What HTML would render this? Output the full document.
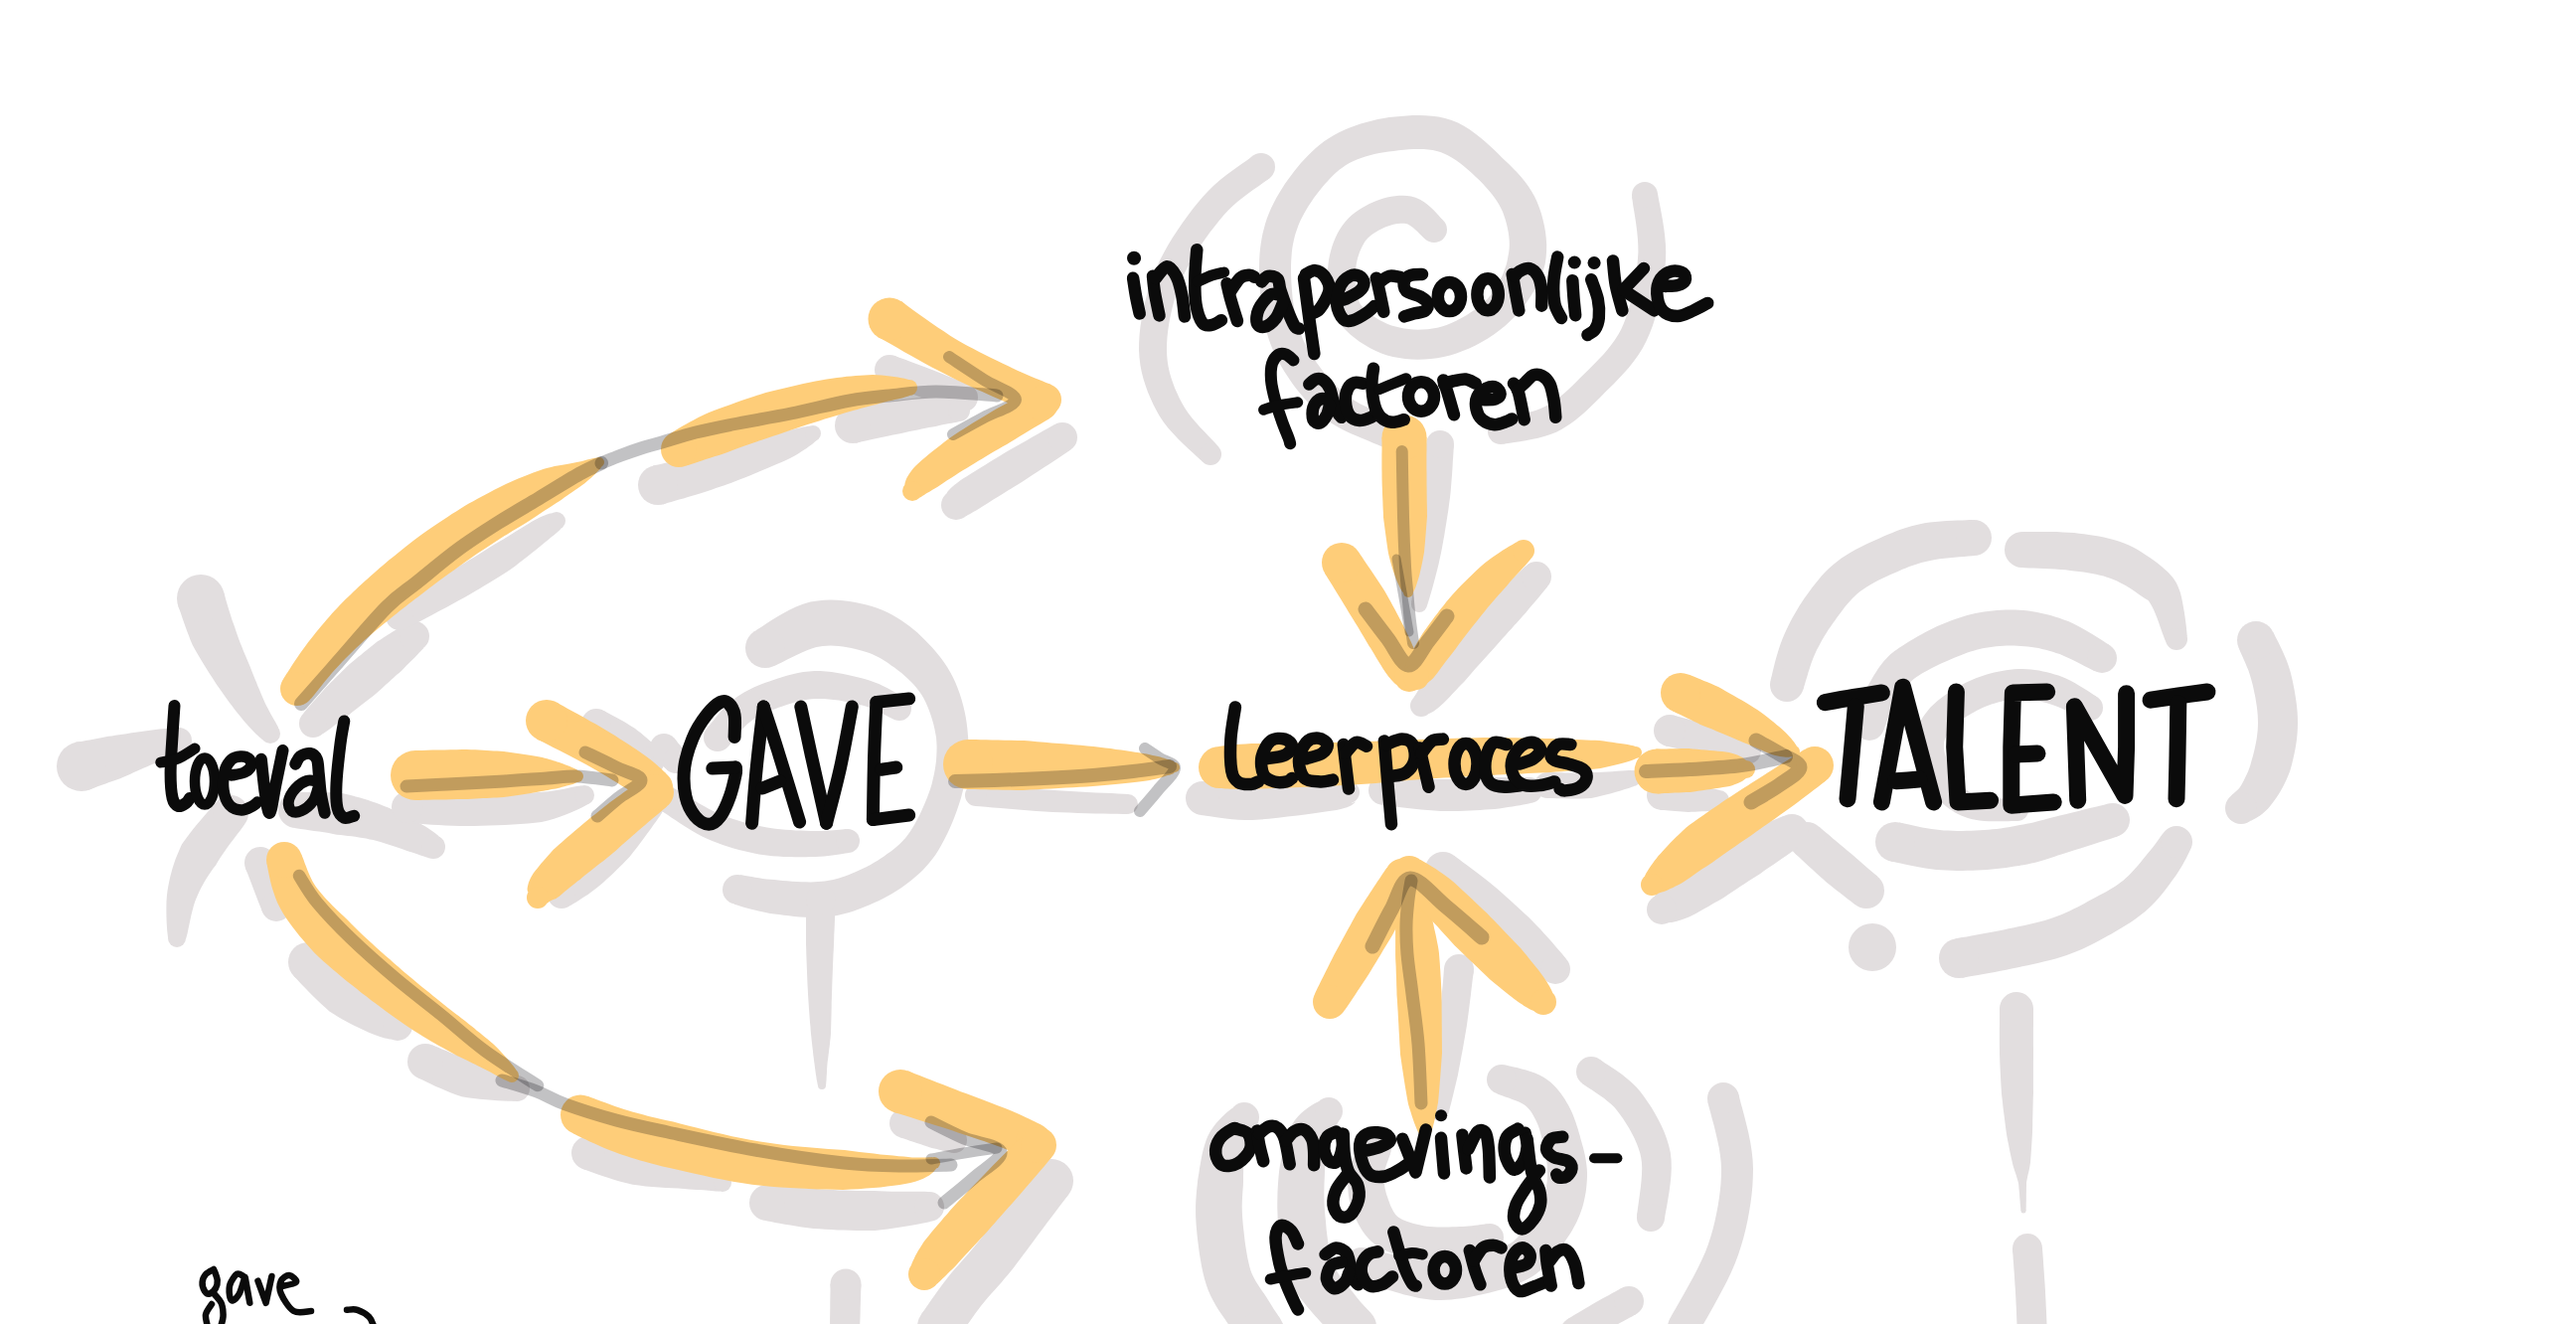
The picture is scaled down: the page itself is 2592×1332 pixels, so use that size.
<!DOCTYPE html>
<html><head><meta charset="utf-8"><title>Talent</title>
<style>html,body{margin:0;padding:0;background:#fff;overflow:hidden;font-family:"Liberation Sans",sans-serif}svg{display:block}</style>
</head><body>
<svg xmlns="http://www.w3.org/2000/svg" width="2592" height="1332" viewBox="0 0 2592 1332">
<rect width="2592" height="1332" fill="#fff"/>
<g>
<path d="M88.6 795.1 90.4 794.3 92.8 793.3 95.7 792.3 98.9 791.1 102.5 789.8 106.2 788.5 109.9 787.1 113.7 785.8 117.4 784.5 120.9 783.2 124.3 781.7 127.8 780.2 131.3 778.7 134.7 777.1 138.2 775.6 141.6 774.1 144.9 772.6 148.1 771.2 151.3 769.8 154.3 768.4 157.4 767.2 160.6 766 163.9 764.8 167.3 763.7 170.5 762.5 173.6 761.4 176.5 760.4 179 759.4 181.2 758.5 182.9 757.7 177.1 732.3 175.3 732.3 173 732.4 170.3 732.6 167.2 732.9 163.9 733.2 160.3 733.6 156.7 734.1 153 734.6 149.3 735 145.7 735.6 142.1 736 138.4 736.5 134.7 737 131 737.6 127.2 738.2 123.5 738.7 119.8 739.3 116.1 739.8 112.5 740.4 109.1 740.8 105.5 741.5 101.8 742.2 97.9 743 94 743.7 90.2 744.4 86.5 745.1 83.1 745.7 80.1 746.2 77.5 746.6 75.4 746.9Z" fill="#e2dedf"/><circle cx="82" cy="771" r="25" fill="#e2dedf"/><circle cx="180" cy="745" r="13" fill="#e2dedf"/>
<path d="M179.2 609.5 180 611.6 181 614.3 182.1 617.6 183.4 621.5 184.9 625.7 186.5 630.2 188.2 634.9 190 639.6 191.8 644.4 193.8 648.9 196.1 653.2 198.4 657.3 200.9 661.5 203.3 665.6 205.9 669.7 208.4 673.8 210.9 677.7 213.4 681.6 215.8 685.3 218.2 689 220.7 692.5 223.2 696.1 225.8 699.7 228.3 703.2 230.8 706.7 233.4 710.1 235.9 713.4 238.3 716.6 240.8 719.6 243.2 722.6 245.6 725.5 248.1 728.3 250.5 731.1 252.9 733.6 255.2 736 257.4 738.2 259.4 740.1 261.2 741.7 262.8 743 264 744 280 732 279.2 730.3 278.2 728.4 277.1 726.2 275.7 723.9 274.3 721.4 272.7 718.7 271.2 716 269.7 713.1 268.2 710.3 266.8 707.4 265.5 704.4 264 701.1 262.6 697.7 261.1 694.1 259.5 690.4 258 686.6 256.4 682.8 254.9 678.9 253.3 675 251.8 671 250.1 667.1 248.4 663 246.7 658.9 244.9 654.8 243.3 650.6 241.6 646.5 240.1 642.5 238.7 638.6 237.4 634.7 236.2 631.1 234.9 627.5 233.5 623.7 232.2 619.6 230.9 615.4 229.6 611.3 228.4 607.2 227.3 603.4 226.4 600 225.5 596.9 224.8 594.5Z" fill="#e2dedf"/><circle cx="202" cy="602" r="24" fill="#e2dedf"/><circle cx="272" cy="738" r="10" fill="#e2dedf"/>
<path d="M187 944.8 187.8 942.1 188.7 938.6 189.5 934.6 190.4 930.2 191.4 925.5 192.4 920.7 193.6 915.9 194.8 911.4 196.1 907.3 197.5 903.7 199 900.2 200.6 896.7 202.3 893.3 204.1 890 205.9 886.7 207.9 883.5 210 880.2 212.2 877 214.6 873.6 217.1 870.4 219.2 866.7 221.9 862.5 225 857.9 228.4 853.1 231.9 848.3 235.4 843.7 238.7 839.3 241.7 835.4 244.2 831.9 246.2 829.1 217.8 806.9 215.8 809.1 213.1 812.1 209.9 815.8 206.2 820.1 202.2 824.7 198.1 829.5 194 834.6 190 839.7 186.3 844.7 182.9 849.6 180.7 854.5 178.7 859.2 176.8 863.8 175.2 868.4 173.7 873 172.4 877.7 171.2 882.3 170.2 886.9 169.3 891.5 168.5 896.3 167.9 901.6 167.5 907.1 167.4 912.7 167.4 918.2 167.5 923.5 167.7 928.6 168 933.2 168.3 937.3 168.7 940.6 169 943.2Z" fill="#e2dedf"/><circle cx="178" cy="944" r="9" fill="#e2dedf"/><circle cx="232" cy="818" r="18" fill="#e2dedf"/>
<path d="M296.5 832.9 299.2 833.5 302.7 834 306.8 834.6 311.3 835.2 316.1 835.9 321 836.6 325.9 837.3 330.6 838.1 335 838.9 338.8 839.8 342.6 840.1 346.5 840.4 350.2 840.9 353.9 841.3 357.6 841.8 361.2 842.4 364.8 843 368.4 843.6 372 844.4 375.5 845.1 379.1 846 382.8 847 386.6 848.2 390.5 849.4 394.4 850.7 398.3 852 402 853.3 405.6 854.6 408.9 855.7 411.9 856.7 414.6 857.6 416.9 858.3 419.1 859.1 421.2 859.8 423.1 860.4 424.8 861 426.4 861.5 427.9 862 429.3 862.4 430.5 862.7 441.5 841.3 440.7 840.6 439.8 839.8 438.6 838.8 437.2 837.7 435.6 836.5 433.7 835.2 431.6 833.8 429.3 832.3 426.8 830.8 424.1 829.3 421.3 827.7 418.1 826 414.7 824.2 411.1 822.3 407.2 820.3 403.2 818.3 399.1 816.3 394.9 814.4 390.7 812.6 386.5 810.9 382.4 809.3 378.4 807.8 374.4 806.4 370.4 805.1 366.3 803.8 362.2 802.6 358 801.4 353.8 800.3 349.6 799.3 345.2 798.2 340.3 797.8 335 797.5 329.7 797.3 324.3 797.1 319.1 797 314.1 796.9 309.5 796.9 305.4 796.9 302 797 299.5 797.1Z" fill="#e2dedf"/><circle cx="298" cy="815" r="18" fill="#e2dedf"/><circle cx="436" cy="852" r="12" fill="#e2dedf"/>
<path d="M324.5 738.3 326.3 737.2 328.5 735.7 331 733.9 333.8 731.9 336.8 729.6 339.9 727.3 343.1 724.9 346.2 722.6 349.2 720.4 352 718.4 354.6 716.3 357.2 714.3 359.8 712.3 362.3 710.3 364.9 708.3 367.5 706.3 370.1 704.3 372.7 702.2 375.4 700.2 378.1 698.1 380.6 695.8 383.2 693.4 385.9 691 388.5 688.6 391.2 686.2 393.8 683.8 396.4 681.4 399 679.1 401.6 676.9 404.1 674.7 406.5 672.2 409 669.6 411.6 667 414.2 664.4 416.8 661.9 419.2 659.4 421.4 657.1 423.4 655.1 425.1 653.2 426.3 651.7 407.7 628.3 406 629.1 403.8 630.3 401.4 631.7 398.6 633.4 395.6 635.2 392.5 637.2 389.3 639.3 386.1 641.3 382.9 643.4 379.9 645.3 377.1 647.5 374.3 649.7 371.5 652 368.7 654.3 365.8 656.5 363 658.9 360.2 661.1 357.4 663.4 354.6 665.7 351.9 667.9 349.4 670.3 347 672.7 344.6 675 342.2 677.4 339.8 679.7 337.5 682.1 335.1 684.4 332.7 686.8 330.4 689.2 328 691.6 325.6 694.3 323 697.2 320.3 700.2 317.7 703.2 315.1 706.1 312.6 709 310.3 711.6 308.3 714 306.7 716.1 305.5 717.7Z" fill="#e2dedf"/><circle cx="315" cy="728" r="14" fill="#e2dedf"/><circle cx="417" cy="640" r="15" fill="#e2dedf"/>
<path d="M408.7 632.3 412.3 630.5 416.9 628.1 422.4 625.2 428.5 622 435.1 618.5 441.9 614.8 448.8 611.2 455.5 607.6 461.8 604.1 467.5 601 472.7 598 477.7 595.1 482.6 592.2 487.3 589.3 492 586.5 496.5 583.7 501 580.9 505.4 578.2 509.8 575.4 514.2 572.6 518.4 569.4 522.7 566.1 527 562.8 531.2 559.6 535.2 556.3 539.1 553.2 542.7 550.3 546.1 547.6 549.1 545.1 551.7 543 553.9 541.1 555.8 539.6 557.5 538.2 558.9 537 560.1 535.9 561.2 535 562.1 534.2 563 533.4 563.8 532.6 564.5 531.8 555.5 516.2 554.6 516.4 553.7 516.5 552.6 516.8 551.3 517.2 549.7 517.7 548 518.4 546 519.2 543.7 520.3 541.2 521.5 538.3 523 535.1 524.8 531.6 526.9 527.8 529.2 523.8 531.7 519.6 534.3 515.3 537 510.9 539.7 506.5 542.4 502.1 544.9 497.8 547.4 493.7 550.1 489.4 552.8 485.2 555.5 480.8 558.2 476.4 560.9 471.9 563.6 467.2 566.4 462.5 569.2 457.6 572.1 452.5 575 447.1 578.2 441 581.7 434.5 585.5 427.8 589.3 421.2 593 414.7 596.7 408.7 600.1 403.3 603.1 398.7 605.7 395.3 607.7Z" fill="#e2dedf"/><circle cx="402" cy="620" r="14" fill="#e2dedf"/><circle cx="560" cy="524" r="9" fill="#e2dedf"/>
<path d="M667 507.4 669.2 506.7 672.1 505.8 675.4 504.9 679.3 503.8 683.4 502.6 687.7 501.4 692.2 500.1 696.6 498.8 701 497.5 705.1 496.3 709 495 712.8 493.7 716.6 492.4 720.4 491.1 724.3 489.8 728.3 488.4 732.4 486.9 736.6 485.4 740.9 483.8 745.4 482.1 750.1 480.2 755.1 478.2 760.3 476 765.6 473.8 771 471.6 776.3 469.3 781.5 467.1 786.4 465 790.9 463 795 461.1 798.8 458.9 802.3 456.9 805.7 454.8 808.8 452.8 811.6 450.9 814.1 449.1 816.4 447.5 818.3 445.9 819.9 444.5 821.2 443.3 814.8 428.7 812.9 428.8 810.8 429.2 808.3 429.6 805.6 430.2 802.7 430.8 799.5 431.6 796.1 432.4 792.6 433.2 788.8 434.1 785 434.9 780.8 436.2 776.1 437.6 771.1 439.2 765.9 440.8 760.5 442.4 755 444.1 749.6 445.7 744.3 447.2 739.3 448.6 734.6 449.9 730.3 451.1 726.1 452.2 722 453.3 718 454.3 714.2 455.2 710.3 456.2 706.5 457 702.6 457.9 698.8 458.8 694.9 459.7 690.9 460.7 686.7 461.7 682.3 462.8 677.9 463.9 673.6 464.9 669.5 465.8 665.6 466.7 662.2 467.5 659.3 468.1 657 468.6Z" fill="#e2dedf"/><circle cx="662" cy="488" r="20" fill="#e2dedf"/><circle cx="818" cy="436" r="8" fill="#e2dedf"/>
<path d="M889.8 386.1 891.8 386.8 894.5 387.8 897.6 388.9 901 390.2 904.8 391.6 908.7 393.1 912.8 394.6 916.9 396.1 920.9 397.6 924.8 399.1 928.8 400.4 933.1 402 937.7 403.6 942.4 405.2 947.1 406.9 951.6 408.5 955.8 409.9 959.5 411.2 962.6 412.3 965.1 413.1 974.9 386.9 972.6 385.9 969.5 384.6 965.8 383.2 961.7 381.5 957.3 379.7 952.7 377.9 948.1 376.1 943.5 374.3 939.2 372.5 935.2 370.9 931.4 369.5 927.3 368 923.3 366.5 919.2 365 915.2 363.5 911.5 362.1 908 360.8 904.9 359.7 902.3 358.7 900.2 357.9Z" fill="#e2dedf"/><circle cx="895" cy="372" r="15" fill="#e2dedf"/><circle cx="970" cy="400" r="14" fill="#e2dedf"/>
<path d="M861.4 445.7 863.9 445.1 867.2 444.3 871 443.5 875.3 442.6 879.8 441.6 884.6 440.5 889.4 439.5 894.2 438.5 898.7 437.6 902.9 436.8 906.9 435.9 911.1 435 915.2 434.1 919.4 433.2 923.5 432.4 927.5 431.6 931.3 430.8 935 430.1 938.4 429.5 941.6 428.9 944.4 428.2 947.3 427.6 950 427.1 952.7 426.6 955.3 426.1 957.7 425.7 959.9 425.3 961.9 424.9 963.8 424.4 965.3 424 964.7 402 963.4 401.6 961.7 401.3 959.7 400.9 957.4 400.5 954.7 400.1 951.9 399.8 948.8 399.5 945.5 399.3 942 399.1 938.4 399.1 934.8 399.3 931 399.6 927 399.9 922.9 400.3 918.6 400.7 914.3 401.2 910 401.7 905.7 402.2 901.4 402.7 897.1 403.2 892.7 403.9 887.9 404.7 883 405.5 878 406.4 873.2 407.2 868.5 408 864.2 408.8 860.3 409.4 857.1 409.9 854.6 410.3Z" fill="#e2dedf"/><circle cx="858" cy="428" r="18" fill="#e2dedf"/><circle cx="965" cy="413" r="11" fill="#e2dedf"/>
<path d="M1061.2 427.2 1058.1 428.8 1054.2 431 1049.6 433.5 1044.5 436.5 1039 439.6 1033.2 442.9 1027.4 446.2 1021.6 449.5 1016.2 452.6 1011.1 455.5 1006.3 458.5 1001.3 461.5 996.3 464.6 991.3 467.7 986.3 470.8 981.5 473.8 977 476.6 972.8 479.2 969 481.6 965.7 483.8 962.9 485.9 960.5 487.8 958.5 489.5 956.8 491.1 955.4 492.5 954.2 493.8 953.4 494.8 952.9 495.5 952.8 495.9 952.5 496.4 971.5 519.6 972.5 519 973.6 518.3 974.5 517.8 975.2 517.4 976 517 977 516.4 978.2 515.7 979.8 514.8 981.8 513.7 984.3 512.2 987.4 510.2 991 508 995 505.4 999.5 502.6 1004.2 499.7 1009.1 496.7 1014.1 493.6 1019.1 490.5 1024.1 487.4 1028.9 484.5 1033.8 481.3 1039 477.8 1044.5 474.2 1050.1 470.5 1055.7 466.9 1061 463.4 1065.9 460.2 1070.3 457.3 1074 454.8 1076.8 452.8Z" fill="#e2dedf"/><circle cx="1069" cy="440" r="15" fill="#e2dedf"/><circle cx="962" cy="508" r="15" fill="#e2dedf"/>
<path d="M409.1 828 412.5 828.2 416.9 828.5 422.1 828.8 428 829.2 434.4 829.7 441.3 830.1 448.4 830.4 455.7 830.7 462.9 830.9 469.9 831 477 830.9 484.4 830.7 492.1 830.5 500 830.3 508 829.9 515.9 829.5 523.6 829 531.1 828.4 538.2 827.7 544.9 826.9 551.3 825.4 557.5 823.7 563.3 821.8 568.7 819.8 573.7 817.8 578.3 815.8 582.3 813.9 585.8 812.2 588.6 810.8 590.8 809.6 585.2 790.4 582.3 790.7 578.9 791.3 575 792.1 570.9 793 566.4 793.9 561.6 794.8 556.6 795.6 551.5 796.3 546.3 796.8 541.1 797.1 535.3 797.7 528.8 798.1 521.9 798.5 514.5 798.8 506.9 798.9 499.2 799.1 491.6 799.1 484 799.1 476.8 799.1 470.1 799 463.5 798.9 456.8 798.7 449.9 798.5 443.1 798.1 436.4 797.7 430.1 797.3 424.3 796.9 419 796.5 414.5 796.2 410.9 796Z" fill="#e2dedf"/><circle cx="410" cy="812" r="16" fill="#e2dedf"/><circle cx="588" cy="800" r="10" fill="#e2dedf"/>
<path d="M592.7 741.1 594.6 742.2 597.1 743.5 599.9 745 603 746.6 606.2 748.4 609.6 750.3 613 752.2 616.2 754 619.1 755.8 621.6 757.4 624.1 759.1 626.8 760.9 629.5 762.9 632.3 765.1 635.1 767.2 637.8 769.3 640.2 771.3 642.5 773.1 644.5 774.6 646.1 775.8 663.9 754.2 662.6 753 660.9 751.4 658.7 749.5 656.3 747.3 653.6 744.9 650.8 742.4 647.8 739.9 644.7 737.3 641.5 734.9 638.4 732.6 635 730.4 631.5 728.2 627.9 726.1 624.2 724.1 620.6 722.1 617.2 720.2 614 718.5 611.2 717 609 715.8 607.3 714.9Z" fill="#e2dedf"/><circle cx="600" cy="728" r="15" fill="#e2dedf"/><circle cx="655" cy="765" r="14" fill="#e2dedf"/>
<path d="M639.4 800.1 637.3 802.4 634.7 805.5 631.6 809.2 628.2 813.3 624.5 817.6 620.7 822.1 616.9 826.6 613.2 830.8 609.7 834.7 606.5 838.1 603.7 841.4 600.8 844.6 598 847.8 595.1 850.8 592.3 853.8 589.4 856.7 586.7 859.5 583.9 862.2 581.2 864.9 578.6 867.4 576.2 869.9 573.8 872.4 571.2 874.8 568.7 877.3 566.1 879.6 563.7 881.8 561.5 883.9 559.5 885.8 557.7 887.5 556.4 889 573.6 911 575.2 910.2 577.2 909.1 579.5 907.7 582.2 906 585.1 904.1 588.2 902.1 591.5 899.9 594.8 897.6 598.1 895.1 601.4 892.6 604.4 890 607.4 887.4 610.5 884.6 613.6 881.7 616.9 878.7 620.1 875.6 623.4 872.3 626.8 869 630.1 865.5 633.5 861.9 636.8 857.7 640.4 853.2 644 848.4 647.7 843.5 651.3 838.6 654.7 833.9 657.8 829.6 660.6 825.7 662.8 822.4 664.6 819.9Z" fill="#e2dedf"/><circle cx="652" cy="810" r="16" fill="#e2dedf"/><circle cx="565" cy="900" r="14" fill="#e2dedf"/>
<path d="M779.3 669.7 782.7 668.3 787 666.2 791.7 663.8 796.8 661.3 802 658.7 807.4 656.2 812.6 654 817.4 652.2 821.5 651 824.7 650.5 827.9 650 831.6 649.7 835.5 649.6 839.6 649.7 843.9 650.1 848.2 650.6 852.5 651.3 856.7 652.1 860.9 653.1 864.7 654.1 868.3 655 871.6 656 874.8 657.1 877.9 658.3 881 659.7 884.1 661.3 887.2 663 890.4 664.9 893.6 667 896.8 669.4 900.3 671.8 903.7 674.4 907.1 677.1 910.4 679.9 913.7 682.9 916.8 685.9 919.7 689 922.4 692.2 924.9 695.4 927.2 698.7 929.3 702.3 931.3 706.2 933.2 710.4 934.9 714.8 936.5 719.3 938 723.9 939.3 728.6 940.4 733.3 941.3 738 942.1 742.5 942.4 747 942.6 751.5 942.5 756.1 942.3 760.7 942 765.3 941.4 769.9 940.7 774.6 939.8 779.3 938.7 784.1 937.6 788.8 936.1 793.7 934.3 798.7 932.4 803.8 930.2 809.1 927.9 814.3 925.5 819.4 923 824.3 920.5 828.9 918.1 833.1 915.7 836.8 913.4 840.1 911.1 843 908.8 845.6 906.4 848.1 904 850.3 901.4 852.6 898.7 854.7 895.8 856.9 892.7 859.1 889.5 861.4 886.4 863.6 883.1 865.7 879.5 867.8 875.9 869.9 872.1 871.9 868.3 873.8 864.5 875.6 860.7 877.3 857.1 878.8 853.6 880.2 850.2 881.4 847.1 882.5 844.1 883.5 841.2 884.3 838.5 884.9 835.6 885.5 832.8 886 829.7 886.4 826.5 886.8 823 887 819.4 887.3 815.4 887.4 811 887.3 806.5 887.2 801.8 887 797 886.7 792.3 886.3 787.7 885.9 783.3 885.5 779.2 885.1 775.4 884.8 771.5 884.4 767.6 883.9 763.8 883.3 760 882.7 756.4 882.1 753.1 881.5 750 881 747.3 880.6 745.1 880.3 738.9 909.7 740.7 910.3 743.1 911 746 911.9 749.4 912.9 753.1 913.9 757.1 915 761.4 916.1 765.8 917.1 770.4 918 774.8 918.9 779.3 919.5 783.9 920.1 788.8 920.8 793.9 921.3 799.1 921.9 804.4 922.4 809.6 922.7 814.9 923 820 923.1 825 923 829.6 922.6 834 922.2 838.2 921.6 842.4 920.9 846.4 920.1 850.4 919.1 854.4 917.9 858.4 916.7 862.4 915.3 866.4 913.8 870.7 912.1 875.1 910.3 879.5 908.3 884.1 906.2 888.6 903.9 893.2 901.5 897.7 898.9 902.1 896.3 906.4 893.5 910.5 890.6 914.2 887.8 917.7 885 921.2 882 924.7 879 928.2 875.7 931.6 872.1 934.9 868.3 938.1 864.2 941.3 859.9 944.3 855.2 947.3 850.1 950.1 844.8 952.9 839.2 955.6 833.4 958.2 827.5 960.6 821.4 962.9 815.3 965 809.1 966.9 803.1 968.4 797.2 969.9 791.4 971.1 785.7 972.2 780 973.1 774.2 973.8 768.5 974.3 762.7 974.5 756.9 974.6 751.1 974.4 745.3 973.9 739.5 973.4 733.6 972.7 727.7 971.8 721.7 970.6 715.8 969.2 709.8 967.6 703.9 965.7 698.1 963.7 692.4 961.4 686.8 958.8 681.3 956 676 952.9 670.7 949.5 665.7 946 661 942.3 656.4 938.5 652 934.7 647.9 930.8 643.9 927 640.2 923.2 636.6 919.2 633.3 915.2 630.1 911 627 906.7 624 902.3 621.2 897.6 618.5 892.8 616 887.8 613.8 882.6 611.7 877.3 609.9 871.9 608.5 866.4 607.2 860.6 606 854.7 605.1 848.5 604.3 842.2 603.8 835.7 603.6 829.1 603.8 822.3 604.4 815.3 605.5 808 607.7 800.9 610.6 794.1 613.8 787.7 617.3 781.6 620.8 775.9 624.3 770.9 627.6 766.6 630.4 763.2 632.6 760.7 634.3Z" fill="#e2dedf"/><circle cx="770" cy="652" r="20" fill="#e2dedf"/><circle cx="742" cy="895" r="15" fill="#e2dedf"/>
<path d="M732.7 751 734.2 749.3 736 747 738 744.5 740.1 741.7 742.4 738.9 744.8 736 747.2 733.3 749.6 730.8 751.8 728.6 753.8 726.9 756 725.2 758.2 723.6 760.5 722.2 762.8 720.8 765.2 719.4 767.7 718.1 770.4 716.9 773.3 715.7 776.4 714.4 779.8 713.2 783.6 711.8 787.5 710.4 791.6 709 795.7 707.7 799.9 706.5 804.1 705.4 808.3 704.5 812.4 703.7 816.5 703.2 820.5 703 824.6 702.9 829.1 703 833.9 703.4 838.8 703.9 843.9 704.6 848.9 705.5 853.9 706.4 858.7 707.4 863.2 708.5 867.3 709.5 871 710.5 874.6 711.8 878.3 713.3 881.9 714.9 885.4 716.6 888.7 718.3 891.9 719.9 894.7 721.4 897.4 722.7 899.6 723.7 910.4 702.3 908.7 701.3 906.6 700 903.8 698.4 900.6 696.5 897 694.4 893 692.3 888.8 690.2 884.3 688.1 879.5 686.2 874.7 684.5 869.9 683.1 864.9 681.8 859.6 680.4 854.1 679.2 848.5 678 842.7 677 836.9 676.1 831.1 675.5 825.3 675.1 819.5 675 813.9 675.4 808.3 676.1 802.9 677 797.6 678.2 792.5 679.5 787.6 680.9 782.8 682.4 778.4 683.9 774.2 685.4 770.2 686.8 766.3 688.3 762.6 689.8 759 691.3 755.5 693 752.1 694.7 748.8 696.5 745.6 698.5 742.4 700.5 739.3 702.7 736.2 705.1 732.8 708 729.6 711.2 726.5 714.5 723.6 717.8 720.8 721.1 718.3 724.2 716 727.1 714 729.6 712.5 731.6 711.3 733Z" fill="#e2dedf"/><circle cx="722" cy="742" r="14" fill="#e2dedf"/><circle cx="905" cy="713" r="12" fill="#e2dedf"/>
<path d="M657.7 761.5 658.6 762.3 659.7 763.3 661 764.6 662.5 766.1 664.1 767.7 665.6 769.2 667.1 770.7 668.5 772 669.6 773.1 670.4 773.8 689.6 756.2 688.9 755.3 687.9 754.1 686.7 752.6 685.3 751 683.9 749.3 682.5 747.7 681.2 746.1 680 744.6 679 743.4 678.3 742.5Z" fill="#e2dedf"/><circle cx="668" cy="752" r="14" fill="#e2dedf"/><circle cx="680" cy="765" r="13" fill="#e2dedf"/>
<path d="M666.2 816.1 668.6 817.7 671.7 819.8 675.5 822.4 679.9 825.3 684.6 828.5 689.7 831.8 695 835 700.5 838.2 706 841.2 711.4 843.8 716.6 846 721.9 848 727.2 849.9 732.6 851.7 738.1 853.4 743.6 854.9 749.1 856.3 754.6 857.6 760.1 858.8 765.6 859.8 771.4 860.6 777.2 861.2 783 861.6 788.8 861.9 794.6 862.1 800.1 862.2 805.5 862.2 810.7 862.2 815.5 862.1 820.1 862 824.6 861.8 829.1 861.5 833.4 861.1 837.4 860.6 841.2 860.1 844.7 859.6 847.8 859.1 850.4 858.6 852.6 858.2 854.3 857.9 851.7 834.1 849.7 834.2 847.2 834.4 844.5 834.7 841.5 835 838.3 835.3 834.9 835.6 831.3 835.8 827.6 836 823.8 836 819.9 836 815.6 835.9 810.9 835.8 806 835.6 800.9 835.4 795.7 835.1 790.4 834.8 785.2 834.3 780.1 833.7 775.1 833 770.4 832.2 765.5 831.3 760.6 830.3 755.7 829.1 750.8 827.9 745.9 826.5 741.1 825 736.3 823.4 731.6 821.8 727 820 722.6 818.2 718.3 816.3 713.6 814 708.8 811.3 703.8 808.5 699 805.6 694.3 802.8 690 800.1 686.1 797.6 682.6 795.5 679.8 793.9Z" fill="#e2dedf"/><circle cx="673" cy="805" r="13" fill="#e2dedf"/><circle cx="853" cy="846" r="12" fill="#e2dedf"/>
<path d="M811 904.6 811 907.3 811.1 910.7 811 914.6 811 919.1 811 924 811 929.1 811 934.4 811 939.7 811 944.9 811 949.8 811.2 954.7 811.3 959.8 811.5 964.9 811.7 970.1 811.9 975.3 812.1 980.5 812.3 985.6 812.5 990.6 812.8 995.5 813 1000.1 813.3 1004.7 813.6 1009.1 813.9 1013.4 814.2 1017.5 814.5 1021.6 814.8 1025.5 815.1 1029.4 815.5 1033.1 815.7 1036.7 816 1040.1 816.4 1043.5 816.7 1046.8 817.1 1050 817.4 1053 817.8 1056.1 818.1 1059 818.4 1061.9 818.8 1064.7 819.1 1067.4 819.5 1070.1 819.8 1072.8 820.2 1075.5 820.5 1078.1 820.9 1080.7 821.3 1083.1 821.6 1085.4 822 1087.5 822.4 1089.4 822.7 1091 823 1092.2 831 1091.8 831.2 1090.5 831.3 1088.9 831.5 1087 831.6 1084.9 831.7 1082.6 831.9 1080.2 832 1077.6 832.1 1075 832.3 1072.4 832.5 1069.9 832.8 1067.3 833.2 1064.7 833.5 1061.9 833.9 1059.1 834.2 1056.2 834.6 1053.2 835 1050 835.3 1046.8 835.7 1043.4 836 1039.9 836.1 1036.2 836.2 1032.5 836.3 1028.7 836.4 1024.9 836.5 1020.9 836.6 1016.9 836.7 1012.7 836.7 1008.5 836.9 1004.2 837 999.9 837.2 995.3 837.3 990.5 837.5 985.5 837.7 980.5 837.9 975.3 838.1 970.1 838.3 965 838.5 959.9 838.8 955 839 950.2 839.2 945.3 839.3 940.2 839.6 935 839.8 929.8 840 924.7 840.2 919.9 840.4 915.4 840.6 911.4 840.8 908 841 905.4Z" fill="#e2dedf"/><circle cx="826" cy="905" r="15" fill="#e2dedf"/><circle cx="827" cy="1092" r="4" fill="#e2dedf"/>
<path d="M981.1 811 985.8 811.3 991.8 811.8 998.9 812.4 1006.8 813.1 1015.4 813.8 1024.4 814.5 1033.5 815.2 1042.6 815.9 1051.2 816.5 1059.4 817 1067.4 817.3 1075.9 817.6 1084.6 817.9 1093.4 818.2 1102 818.4 1110.2 818.6 1117.8 818.7 1124.5 818.8 1130.2 818.9 1134.6 819 1135.4 799 1130.9 798.7 1125.2 798.4 1118.5 798.1 1110.9 797.8 1102.8 797.4 1094.2 797 1085.5 796.5 1076.9 796.1 1068.5 795.5 1060.6 795 1052.7 794.5 1044.1 793.9 1035.2 793.3 1026.1 792.6 1017.2 791.8 1008.6 791.1 1000.7 790.5 993.6 789.9 987.5 789.4 982.9 789Z" fill="#e2dedf"/><circle cx="982" cy="800" r="11" fill="#e2dedf"/><circle cx="1135" cy="809" r="10" fill="#e2dedf"/>
<path d="M247 873.5 248.1 876.2 249.6 880.1 251.4 884.7 253.4 889.9 255.4 895.3 257.5 900.7 259.5 905.9 261.3 910.5 262.8 914.3 263.9 917.1 292.1 906.9 291.2 904 289.9 900.1 288.3 895.4 286.5 890.2 284.6 884.7 282.7 879.2 280.9 874 279.3 869.3 278 865.4 277 862.5Z" fill="#e2dedf"/><circle cx="262" cy="868" r="16" fill="#e2dedf"/><circle cx="278" cy="912" r="15" fill="#e2dedf"/>
<path d="M296.3 982.6 298.2 984.6 300.6 987.2 303.6 990.4 307.1 994 310.9 997.9 314.9 1001.9 319 1006 323.2 1010 327.4 1013.8 331.5 1017.4 335.9 1020.2 340.2 1022.9 344.5 1025.4 348.7 1027.7 352.8 1029.9 356.8 1031.9 360.6 1033.8 364.2 1035.5 367.5 1037.1 370.6 1038.5 373.7 1039.8 376.8 1041 379.7 1042.1 382.4 1043 384.9 1043.7 387.2 1044.4 389.2 1044.8 390.9 1045.2 392.3 1045.4 393.5 1045.5 406.5 1018.5 405.4 1017.5 404.1 1016.5 402.7 1015.4 401.1 1014.2 399.5 1013 397.7 1011.7 395.8 1010.3 393.8 1008.8 391.7 1007.3 389.4 1005.5 386.7 1003.6 383.7 1001.5 380.6 999.4 377.3 997.1 374 994.8 370.7 992.5 367.5 990 364.3 987.6 361.3 985.1 358.5 982.6 355.3 980.3 351.6 977.5 347.8 974.3 343.7 970.8 339.7 967.4 335.9 963.9 332.2 960.7 328.9 957.8 326 955.3 323.7 953.4Z" fill="#e2dedf"/><circle cx="310" cy="968" r="20" fill="#e2dedf"/><circle cx="400" cy="1032" r="15" fill="#e2dedf"/>
<path d="M421 1084.6 423.3 1085.6 426.2 1087 429.8 1088.8 434 1090.7 438.5 1092.9 443.5 1095.1 448.6 1097.3 453.9 1099.4 459.3 1101.4 464.6 1103.2 470.4 1104.2 476.4 1105 482.5 1105.7 488.7 1106.3 494.8 1106.8 500.6 1107.2 505.9 1107.5 510.7 1107.7 514.6 1107.8 517.6 1107.8 522.4 1082.2 519.4 1081.1 515.5 1079.8 510.9 1078.4 505.9 1076.9 500.5 1075.3 495 1073.7 489.5 1072 484.2 1070.2 479.4 1068.5 475.4 1066.8 471.3 1065.6 466.9 1064.1 462.4 1062.5 457.8 1060.7 453.2 1058.9 448.8 1057.1 444.7 1055.4 441 1053.8 437.7 1052.4 435 1051.4Z" fill="#e2dedf"/><circle cx="428" cy="1068" r="18" fill="#e2dedf"/><circle cx="520" cy="1095" r="13" fill="#e2dedf"/>
<path d="M586.7 1176.1 589.3 1177 592.7 1178.2 596.8 1179.7 601.6 1181.4 606.8 1183.2 612.4 1185 618.3 1186.9 624.3 1188.7 630.5 1190.3 636.6 1191.7 643 1192.6 649.6 1193.4 656.4 1194 663.1 1194.5 669.9 1194.9 676.4 1195.2 682.6 1195.6 688.3 1196 693.3 1196.4 697.5 1196.8 701.2 1196.9 704.6 1197.1 707.8 1197.3 710.7 1197.5 713.3 1197.8 715.8 1198 718.1 1198.3 720.3 1198.4 722.4 1198.6 724.2 1198.5 729.8 1181.5 728.7 1180.5 727.5 1179.4 725.8 1178.1 723.7 1176.6 721.2 1175.1 718.3 1173.5 715 1171.9 711.3 1170.3 707.1 1168.7 702.5 1167.2 697.3 1166.2 691.6 1165.4 685.5 1164.5 679.2 1163.8 672.8 1163 666.3 1162.2 660 1161.4 653.9 1160.4 648.3 1159.4 643.4 1158.3 638.5 1157.2 633.4 1155.9 628.2 1154.4 622.9 1152.7 617.7 1151 612.8 1149.3 608.2 1147.6 604 1146.1 600.3 1144.8 597.3 1143.9Z" fill="#e2dedf"/><circle cx="592" cy="1160" r="17" fill="#e2dedf"/><circle cx="727" cy="1190" r="9" fill="#e2dedf"/>
<path d="M769.6 1227.8 772.3 1228.4 775.7 1229.1 779.8 1229.9 784.5 1230.8 789.7 1231.7 795.1 1232.6 800.9 1233.6 806.7 1234.4 812.7 1235.2 818.5 1235.9 824.2 1236.3 830.1 1236.7 836.2 1237.1 842.5 1237.4 848.8 1237.6 855.2 1237.8 861.6 1238 868 1238 874.2 1238.1 880.4 1238 886.7 1237.3 893.3 1236.5 899.9 1235.6 906.4 1234.6 912.7 1233.6 918.7 1232.5 924.2 1231.5 929.1 1230.6 933.1 1229.7 936.2 1229 933.8 1199 930.4 1198.8 926.1 1198.7 921.2 1198.7 915.7 1198.7 909.8 1198.7 903.6 1198.7 897.3 1198.7 891.1 1198.5 885.2 1198.3 879.6 1198 874.1 1198.1 868.3 1198 862.4 1198 856.3 1197.8 850.3 1197.6 844.3 1197.4 838.3 1197.1 832.5 1196.8 826.9 1196.4 821.5 1196.1 816.3 1195.8 811 1195.5 805.5 1195 800.1 1194.6 794.8 1194.1 789.8 1193.5 785.2 1193.1 781 1192.7 777.3 1192.3 774.4 1192.2Z" fill="#e2dedf"/><circle cx="772" cy="1210" r="18" fill="#e2dedf"/><circle cx="935" cy="1214" r="15" fill="#e2dedf"/>
<path d="M905.3 1144.2 907.1 1144.8 909.5 1145.6 912.4 1146.6 915.6 1147.7 919 1148.8 922.5 1150 926 1151.1 929.4 1152.3 932.5 1153.3 935.2 1154.2 937.7 1154.9 940.2 1155.5 942.6 1156.1 945 1156.7 947.2 1157.3 949.3 1157.9 951.2 1158.3 953 1158.7 954.5 1159 955.7 1159.3 964.3 1134.7 963.3 1134.2 961.9 1133.5 960.3 1132.7 958.5 1131.8 956.5 1130.9 954.4 1130 952.1 1128.9 949.7 1127.9 947.3 1126.9 944.8 1125.8 942.1 1124.9 938.9 1123.8 935.5 1122.7 932 1121.5 928.5 1120.3 925 1119.2 921.8 1118.1 919 1117.2 916.6 1116.4 914.7 1115.8Z" fill="#e2dedf"/><circle cx="910" cy="1130" r="15" fill="#e2dedf"/><circle cx="960" cy="1147" r="13" fill="#e2dedf"/>
<path d="M1040.5 1174.7 1038.8 1176.9 1036.7 1179.7 1034.2 1183 1031.4 1186.7 1028.3 1190.7 1025.1 1194.9 1021.9 1199.2 1018.6 1203.6 1015.4 1207.8 1012.4 1211.8 1009.4 1215.8 1006.4 1219.8 1003.4 1223.9 1000.4 1228 997.4 1232.1 994.4 1236.1 991.5 1240 988.6 1243.9 985.7 1247.7 982.8 1251.2 980.1 1254.6 977.2 1258 974.3 1261.4 971.3 1264.8 968.2 1268.2 965.2 1271.7 962 1275.2 958.9 1278.8 955.8 1282.6 952.7 1286.4 949.6 1290.4 946.6 1294.5 943.5 1298.8 940.5 1303 937.6 1307.1 934.9 1311 932.4 1314.6 930.2 1317.7 928.4 1320.3 927 1322.3 963 1347.7 964.5 1345.5 966.4 1342.7 968.6 1339.6 971 1336.1 973.7 1332.3 976.4 1328.4 979.2 1324.4 982 1320.6 984.7 1316.9 987.3 1313.6 989.8 1310.5 992.4 1307.3 995.2 1304.1 998.1 1300.8 1001.1 1297.4 1004.2 1294 1007.4 1290.4 1010.6 1286.6 1013.9 1282.8 1017.2 1278.8 1020.4 1274.7 1023.5 1270.6 1026.6 1266.5 1029.7 1262.3 1032.8 1258.2 1035.9 1254.1 1038.9 1250 1041.8 1246 1044.7 1242 1047.6 1238.2 1050.6 1234.3 1053.7 1230.1 1057 1225.8 1060.2 1221.5 1063.4 1217.3 1066.4 1213.3 1069.3 1209.6 1071.8 1206.3 1073.9 1203.5 1075.5 1201.3Z" fill="#e2dedf"/><circle cx="1058" cy="1188" r="22" fill="#e2dedf"/><circle cx="945" cy="1335" r="22" fill="#e2dedf"/>
<path d="M835.5 1291.7 835.5 1294.8 835.5 1299 835.4 1304.1 835.3 1309.7 835.3 1315.7 835.2 1321.6 835.1 1327.3 835.1 1332.4 835 1336.6 835 1339.7 865 1340.3 865.1 1337.2 865.2 1333 865.4 1327.9 865.6 1322.3 865.7 1316.3 865.9 1310.4 866.1 1304.7 866.2 1299.6 866.4 1295.4 866.5 1292.3Z" fill="#e2dedf"/><circle cx="851" cy="1292" r="15.5" fill="#e2dedf"/><circle cx="850" cy="1340" r="15" fill="#e2dedf"/>
<path d="M1451.8 221.4 1450.8 220.4 1449.5 218.9 1447.6 216.8 1445.3 214.3 1442.7 211.6 1439.8 208.7 1436.6 205.9 1433 203.2 1428.9 200.7 1424.3 198.7 1419.9 197.6 1415.8 197 1411.7 196.8 1407.7 196.8 1403.7 197.2 1399.8 197.7 1395.9 198.5 1392.1 199.5 1388.4 200.7 1384.9 202 1381.4 203.4 1377.9 205.1 1374.3 206.9 1370.7 209 1367.1 211.3 1363.5 213.8 1360 216.6 1356.6 219.7 1353.5 223.2 1350.6 226.9 1348.1 230.8 1345.8 234.8 1343.8 238.9 1342 243.3 1340.4 247.7 1339.1 252.3 1337.9 257 1337 261.7 1336.4 266.5 1336 271.2 1335.8 275.8 1335.8 280.5 1335.9 285.5 1336.2 290.7 1336.8 296 1337.7 301.4 1339 306.9 1340.9 312.4 1343.4 317.8 1346.5 323 1350.1 327.7 1354 332.1 1358.4 336.2 1363.1 340.1 1368 343.8 1373.3 347.1 1378.7 350.2 1384.3 353 1390 355.4 1395.8 357.4 1401.7 358.9 1407.7 360.1 1414 360.9 1420.3 361.5 1426.7 361.7 1433.2 361.6 1439.7 361.1 1446.3 360.2 1452.7 359 1459.1 357.4 1465.5 355.5 1471.9 353.1 1478.3 350.4 1484.7 347.4 1491 344 1497.1 340.4 1503.1 336.5 1508.8 332.3 1514.2 327.9 1519.3 323.3 1524.2 318.6 1528.8 313.5 1533.1 308.2 1537.2 302.6 1541 296.8 1544.4 290.9 1547.5 284.8 1550.3 278.7 1552.7 272.4 1554.6 265.9 1555.6 259.3 1556.1 252.5 1556.2 245.9 1555.7 239.3 1555 232.9 1553.8 226.6 1552.4 220.5 1550.8 214.6 1548.9 208.9 1546.7 203.3 1544.1 197.8 1541.1 192.5 1537.9 187.5 1534.4 182.8 1530.8 178.3 1527 174 1523.1 169.9 1519.2 166 1515.2 162.2 1511.2 158.6 1507.3 154.6 1503.2 150.6 1498.8 146.5 1494.1 142.3 1489.3 138.2 1484.1 134.2 1478.7 130.3 1473 126.8 1467 123.6 1460.6 121 1454.1 119 1447.5 117.6 1440.9 116.7 1434.4 116.2 1427.9 116 1421.6 116.1 1415.4 116.4 1409.3 116.9 1403.5 117.5 1397.8 118.1 1392.1 119 1386.3 120.1 1380.6 121.4 1374.8 122.9 1369.1 124.5 1363.5 126.4 1358 128.5 1352.6 130.8 1347.3 133.3 1342.2 136 1337.3 138.9 1332.6 142.1 1328.1 145.5 1323.9 149 1319.9 152.7 1316.1 156.4 1312.5 160.2 1309 164.1 1305.7 168.1 1302.5 172 1299.3 176.2 1296.1 180.5 1292.9 185 1289.9 189.7 1287 194.4 1284.2 199.3 1281.6 204.2 1279.1 209.3 1276.9 214.4 1274.9 219.6 1273.2 224.8 1271.8 229.9 1270.5 235 1269.5 240.2 1268.7 245.3 1268 250.5 1267.5 255.8 1267.2 261.1 1267.1 266.5 1267 272 1267.1 277.8 1267.3 283.9 1267.7 290.2 1268.2 296.6 1268.9 303.1 1269.7 309.6 1270.6 316 1271.8 322.3 1273.1 328.4 1274.6 334.3 1276.2 339.8 1278.1 345.2 1280.1 350.3 1282.2 355.2 1284.5 360 1287 364.6 1289.5 369.1 1292.2 373.5 1295 377.8 1297.8 382.1 1300.9 386.4 1304.1 390.8 1307.5 395.1 1311.1 399.3 1314.8 403.6 1318.6 407.7 1322.6 411.7 1326.7 415.5 1330.9 419.2 1335.3 422.8 1340.1 426 1345.1 429.1 1350.1 431.8 1355.1 434.3 1360 436.5 1364.9 438.6 1369.5 440.6 1373.9 442.3 1378 444 1381.8 445.7 1385.7 447.3 1389.8 449 1393.8 450.6 1397.7 452 1401.4 453.4 1404.9 454.6 1408 455.7 1410.8 456.6 1413 457.4 1414.9 458 1425.1 432 1423.3 431.1 1420.9 430.1 1418.2 429 1415.2 427.7 1412 426.4 1408.5 424.9 1405 423.4 1401.4 421.8 1397.8 420.1 1394.2 418.3 1390.3 416.4 1386 414.5 1381.8 412.5 1377.5 410.5 1373.2 408.5 1369 406.4 1365.1 404.2 1361.3 401.9 1357.8 399.6 1354.7 397.2 1351.4 394.7 1348.2 391.8 1344.9 388.7 1341.7 385.5 1338.5 382.1 1335.4 378.6 1332.4 375 1329.5 371.3 1326.8 367.6 1324.2 363.9 1321.7 360.2 1319.3 356.5 1317.1 352.9 1315 349.3 1313.1 345.6 1311.3 341.9 1309.7 338.1 1308.1 334.2 1306.7 330 1305.4 325.7 1304.3 321.1 1303.2 316.1 1302.2 310.7 1301.4 305.2 1300.6 299.4 1300.1 293.7 1299.6 287.9 1299.3 282.4 1299.1 277 1299 272 1299 267.2 1299.2 262.6 1299.5 258.1 1299.8 253.9 1300.3 249.8 1301 245.8 1301.8 241.9 1302.7 238.1 1303.8 234.2 1305.1 230.4 1306.5 226.5 1308.2 222.6 1310.1 218.7 1312.2 214.7 1314.5 210.7 1316.9 206.8 1319.5 202.9 1322.1 199.1 1324.8 195.5 1327.5 192 1330.3 188.5 1333.2 185.1 1336.1 181.9 1339 178.8 1342 175.8 1345 173.1 1348 170.5 1351.2 168.2 1354.4 166 1357.8 164 1361.4 162.2 1365.3 160.5 1369.5 159 1373.9 157.5 1378.4 156.2 1383 155 1387.8 154 1392.5 153.2 1397.3 152.4 1402.2 151.9 1407.2 151.3 1412.4 150.7 1417.5 150.3 1422.7 150.1 1427.7 150 1432.6 150.1 1437.3 150.5 1441.6 151.1 1445.7 151.9 1449.4 153 1453 154.4 1456.7 156.2 1460.7 158.5 1464.8 161.1 1468.9 164.1 1473 167.3 1477.1 170.8 1481.1 174.3 1485 177.9 1488.8 181.4 1492.2 185.1 1495.5 188.7 1498.6 192.3 1501.5 195.8 1504.1 199.3 1506.5 202.8 1508.6 206.3 1510.4 209.7 1512 213.1 1513.3 216.7 1514.6 220.5 1515.8 224.7 1516.8 229 1517.7 233.4 1518.3 237.8 1518.7 242.2 1518.8 246.4 1518.6 250.5 1518.1 254.4 1517.4 258.1 1516.7 262 1515.7 266.2 1514.2 270.6 1512.5 275.2 1510.4 279.8 1508.1 284.3 1505.5 288.7 1502.7 293 1499.8 297 1496.7 300.7 1493.2 304.1 1489.2 307.5 1484.9 310.9 1480.3 314.1 1475.4 317.2 1470.4 320.1 1465.3 322.7 1460.3 325 1455.5 327 1450.9 328.6 1446.3 329.7 1441.6 330.6 1436.7 331.2 1431.8 331.6 1426.9 331.7 1422 331.5 1417.3 331.1 1412.7 330.5 1408.3 329.6 1404.2 328.6 1400.2 327.4 1396.2 325.9 1392.1 324 1388 321.9 1384.1 319.6 1380.4 317.1 1377 314.5 1374 311.9 1371.5 309.3 1369.5 307 1368.1 304.7 1366.9 302.1 1365.9 299.1 1365.1 295.8 1364.5 292.1 1364.1 288.3 1363.8 284.4 1363.8 280.4 1363.8 276.5 1364 272.8 1364.2 269.5 1364.7 266.2 1365.3 262.9 1366.1 259.6 1367.1 256.4 1368.2 253.3 1369.4 250.4 1370.7 247.7 1372.1 245.2 1373.4 243.1 1374.8 241.3 1376.4 239.5 1378.3 237.8 1380.4 236.1 1382.7 234.5 1385.1 233 1387.6 231.5 1390.2 230.2 1392.7 229 1395.1 228 1397.5 227.2 1399.8 226.4 1402.2 225.8 1404.6 225.3 1406.9 225 1409.1 224.8 1411.2 224.7 1413 224.8 1414.6 225.1 1415.7 225.3 1416.5 225.5 1417.8 226.2 1419.7 227.5 1421.8 229.1 1424 231.1 1426.3 233.1 1428.4 235.2 1430.5 237.3 1432.5 239.2 1434.2 240.6Z" fill="#e2dedf"/><circle cx="1443" cy="231" r="13" fill="#e2dedf"/><circle cx="1420" cy="445" r="14" fill="#e2dedf"/>
<path d="M1642.1 197.8 1642.6 201.8 1643.3 206.9 1644.3 212.7 1645.3 219 1646.3 225.8 1647.2 232.8 1647.9 239.9 1648.3 247 1648.4 253.7 1648 260.1 1647.4 266.8 1646.5 274 1645.4 281.5 1644.1 289.1 1642.5 296.7 1640.7 304.2 1638.7 311.5 1636.4 318.5 1634 325 1631.4 330.9 1628.5 336.3 1625.2 341.6 1621.4 346.8 1617.3 351.9 1613 356.9 1608.4 361.8 1603.8 366.5 1599.1 371.2 1594.5 375.7 1590.1 380.1 1586 384.2 1582.2 388 1578.5 391.5 1574.9 394.8 1571.4 397.8 1568 400.5 1564.6 403.1 1561.1 405.4 1557.6 407.5 1554 409.3 1550.2 411.1 1545.8 412.7 1540.8 414.2 1535.4 415.5 1529.9 416.7 1524.6 417.8 1519.4 418.8 1514.7 419.7 1510.6 420.5 1507.4 421.3 1512.6 446.7 1515.4 446.2 1519.2 445.7 1523.8 445 1529.2 444.2 1535.1 443.3 1541.2 442.1 1547.6 440.7 1553.9 439.1 1560.1 437.1 1566 434.7 1571.2 431.9 1576 429.1 1580.6 426 1585.1 422.7 1589.3 419.3 1593.5 415.7 1597.6 412 1601.7 408.1 1605.8 404.1 1609.9 399.9 1614.2 395.6 1618.8 391.1 1623.7 386.2 1628.7 381.1 1633.8 375.6 1638.8 369.9 1643.7 363.7 1648.4 357.2 1652.7 350.4 1656.6 343.1 1659.9 335.6 1662.9 327.7 1665.5 319.6 1667.8 311.2 1669.9 302.8 1671.6 294.3 1673.1 286 1674.3 277.7 1675.3 269.7 1676 261.9 1676.2 253.8 1675.9 245.6 1675.2 237.4 1674.2 229.4 1673 221.7 1671.7 214.6 1670.5 208.1 1669.4 202.4 1668.5 197.8 1667.9 194.2Z" fill="#e2dedf"/><circle cx="1655" cy="196" r="13" fill="#e2dedf"/><circle cx="1510" cy="434" r="13" fill="#e2dedf"/>
<path d="M1260.5 156.9 1257.8 158.9 1254.4 161.4 1250 164.4 1245 168 1239.5 171.9 1233.7 176.3 1227.7 181.1 1221.7 186.3 1215.9 191.9 1210.5 197.7 1205.4 203.8 1200.3 210.1 1195.1 216.9 1190 224 1184.9 231.4 1179.9 239 1175.2 246.8 1170.8 254.7 1166.7 262.6 1163.1 270.5 1160 278.5 1157.1 286.6 1154.5 294.9 1152.3 303.3 1150.4 311.7 1148.8 320 1147.5 328.3 1146.6 336.5 1146.1 344.5 1146 352.2 1146.5 359.8 1147.4 367.3 1148.8 374.4 1150.6 381.4 1152.7 388.1 1155 394.6 1157.7 400.8 1160.5 406.9 1163.5 412.7 1166.7 418.5 1170.7 424.5 1175.3 430.4 1180.3 436.1 1185.4 441.5 1190.5 446.6 1195.5 451.3 1200.2 455.6 1204.2 459.3 1207.5 462.2 1210 464.6 1226 449.4 1223.5 446.5 1220.2 443 1216.3 439 1212.1 434.6 1207.7 429.9 1203.3 424.9 1199 419.9 1195.2 414.9 1191.9 410.1 1189.3 405.5 1186.8 400.7 1184.4 395.6 1182.1 390.4 1180.1 385.1 1178.3 379.8 1176.8 374.4 1175.6 368.9 1174.7 363.3 1174.2 357.6 1174 351.8 1174.1 345.6 1174.5 338.9 1175.3 332 1176.4 324.8 1177.8 317.4 1179.5 310.1 1181.4 302.7 1183.7 295.4 1186.2 288.3 1188.9 281.5 1191.9 274.8 1195.4 267.9 1199.4 260.9 1203.6 253.9 1208.1 247 1212.8 240.2 1217.6 233.6 1222.4 227.4 1227.1 221.5 1231.5 216.3 1235.9 211.5 1240.6 207 1245.7 202.6 1250.9 198.4 1256.1 194.4 1261.2 190.7 1266.1 187.4 1270.5 184.3 1274.4 181.5 1277.5 179.1Z" fill="#e2dedf"/><circle cx="1269" cy="168" r="14" fill="#e2dedf"/><circle cx="1218" cy="457" r="11" fill="#e2dedf"/>
<path d="M1435 446.3 1435 449.5 1434.9 453.5 1434.8 458.2 1434.7 463.5 1434.5 469.1 1434.3 475.1 1434.1 481.1 1433.8 487.2 1433.5 493.1 1433.1 498.8 1432.7 504.4 1432.2 510.3 1431.7 516.4 1431.2 522.5 1430.5 528.7 1429.9 534.9 1429.2 541 1428.5 546.9 1427.8 552.7 1427.2 558.2 1426.5 563.6 1425.8 569.1 1424.9 574.8 1424.1 580.3 1423.2 585.7 1422.4 590.8 1421.6 595.6 1421 599.8 1420.5 603.4 1420.2 606.3 1435.8 609.7 1436.7 607 1437.8 603.5 1439 599.5 1440.4 594.8 1441.8 589.8 1443.2 584.4 1444.7 578.8 1446.2 573.1 1447.6 567.4 1448.8 561.8 1450 556.2 1451.1 550.4 1452.2 544.3 1453.3 538.2 1454.3 531.9 1455.4 525.6 1456.3 519.4 1457.3 513.2 1458.1 507.1 1458.9 501.2 1459.6 495.2 1460.1 489 1460.6 482.7 1461.1 476.5 1461.5 470.4 1461.8 464.6 1462.2 459.4 1462.5 454.7 1462.7 450.8 1463 447.7Z" fill="#e2dedf"/><circle cx="1449" cy="447" r="14" fill="#e2dedf"/><circle cx="1428" cy="608" r="8" fill="#e2dedf"/>
<path d="M1535 569.8 1533.3 571.3 1531.2 573.3 1528.8 575.6 1526.1 578.3 1523.1 581.1 1520.1 584.1 1516.9 587.3 1513.7 590.4 1510.6 593.5 1507.6 596.4 1504.7 599.3 1501.8 602.3 1498.8 605.3 1495.7 608.4 1492.6 611.5 1489.4 614.7 1486.2 618 1483 621.3 1479.8 624.6 1476.6 628 1473.5 631.6 1470.4 635.3 1467.3 639 1464.2 642.8 1461.1 646.6 1458 650.3 1455 654 1452.2 657.5 1449.5 660.9 1446.9 664.1 1444.6 667.4 1442.4 670.6 1440.3 673.7 1438.4 676.7 1436.5 679.5 1434.8 682.2 1433.3 684.7 1431.8 687 1430.5 689.1 1429.4 690.9 1428.4 692.5 1427.4 693.9 1426.6 695.2 1425.9 696.4 1425.2 697.5 1424.6 698.4 1424 699.4 1423.4 700.3 1422.8 701.2 1422.4 702.1 1437.6 717.9 1438.3 717.7 1439 717.5 1439.9 717.1 1441 716.4 1442.3 715.7 1443.7 714.7 1445.3 713.6 1447 712.3 1448.7 710.8 1450.6 709.1 1452.6 707.3 1454.6 705.3 1456.6 703.2 1458.8 700.9 1461 698.6 1463.2 696.2 1465.6 693.7 1468 691.1 1470.5 688.5 1473.1 685.9 1475.7 682.9 1478.5 679.7 1481.5 676.3 1484.5 672.8 1487.7 669.3 1490.9 665.7 1494.1 662.2 1497.2 658.7 1500.4 655.3 1503.4 652 1506.2 648.7 1509.1 645.4 1512.1 642.1 1515 638.9 1517.9 635.6 1520.9 632.4 1523.8 629.1 1526.7 625.9 1529.6 622.8 1532.4 619.6 1535.2 616.4 1538 613 1540.9 609.6 1543.8 606.2 1546.6 602.9 1549.3 599.7 1551.7 596.8 1553.8 594.2 1555.6 592 1557 590.2Z" fill="#e2dedf"/><circle cx="1546" cy="580" r="15" fill="#e2dedf"/><circle cx="1430" cy="710" r="11" fill="#e2dedf"/>
<path d="M1207.9 819.9 1210.4 820.2 1213.6 820.7 1217.6 821.3 1222.2 822.1 1227.5 822.8 1233.3 823.6 1239.5 824.2 1246.1 824.7 1253.1 825 1260.4 825 1268.2 824.5 1276.8 823.7 1286.1 822.7 1295.7 821.6 1305.4 820.4 1314.9 819.2 1323.9 817.9 1332.1 816.8 1339.1 815.8 1344.8 814.9 1349.1 814 1352.6 813.1 1355.3 812.2 1357.6 811.3 1359.7 810.2 1362.1 808.6 1364 806.7 1363.4 806.7 1360.8 807.7 1360.1 807.5 1353.9 786.5 1352.2 786.6 1349 788 1348 788.3 1349.3 786.9 1350.6 785.8 1350.9 785.3 1350.1 785.1 1348.3 785 1345.4 785 1341.2 785.1 1335.6 785.6 1328.5 786.2 1320.3 786.9 1311.4 787.8 1302.1 788.6 1292.5 789.4 1283.2 790.1 1274.3 790.6 1266.4 790.9 1259.6 791 1253.8 791 1248.1 790.8 1242.5 790.4 1237.2 789.8 1232.1 789.2 1227.4 788.5 1223 787.8 1218.9 787.1 1215.2 786.5 1212.1 786.1Z" fill="#e2dedf"/><circle cx="1210" cy="803" r="17" fill="#e2dedf"/><circle cx="1357" cy="797" r="11" fill="#e2dedf"/>
<path d="M1390.6 809.9 1394 810.4 1398.4 810.9 1403.7 811.6 1409.7 812.3 1416.2 813.1 1423 813.8 1429.9 814.5 1436.7 815.1 1443.3 815.6 1449.5 816 1455.5 816.1 1461.4 816.1 1467.2 815.9 1473 815.7 1478.7 815.5 1484.2 815.2 1489.5 814.9 1494.6 814.5 1499.4 814.2 1504 814 1508.5 813.4 1513 812.8 1517.4 812.1 1521.6 811.5 1525.6 810.8 1529.3 810.2 1532.7 809.5 1535.7 809 1538.1 808.4 1540.1 807.9 1537.9 782.1 1535.7 781.9 1533.1 781.9 1530.1 781.9 1526.7 781.9 1523 781.9 1519.1 782 1515 782 1510.7 782.1 1506.4 782.1 1502 782 1497.4 782.3 1492.6 782.6 1487.5 782.9 1482.4 783.2 1477.1 783.5 1471.7 783.8 1466.4 784 1461 784.1 1455.7 784.1 1450.5 784 1445 783.9 1438.9 783.6 1432.4 783.2 1425.8 782.7 1419.2 782.2 1412.8 781.7 1406.9 781.1 1401.5 780.7 1397 780.3 1393.4 780.1Z" fill="#e2dedf"/><circle cx="1392" cy="795" r="15" fill="#e2dedf"/><circle cx="1539" cy="795" r="13" fill="#e2dedf"/>
<path d="M1556.8 803 1559.3 803 1562.5 803.1 1566.4 803.2 1570.8 803.3 1575.6 803.4 1580.6 803.5 1585.8 803.5 1591 803.4 1596.1 803.3 1601.1 803 1605.9 802 1610.9 800.8 1616 799.6 1621.1 798.2 1626 796.8 1630.7 795.5 1635 794.1 1638.8 792.9 1642 791.8 1644.4 790.9 1641.6 775.1 1638.9 775.1 1635.5 775.2 1631.5 775.5 1627.1 775.8 1622.3 776.2 1617.4 776.5 1612.5 776.8 1607.6 777.1 1603.1 777.1 1598.9 777 1594.9 777.3 1590.4 777.5 1585.7 777.5 1580.8 777.5 1576 777.4 1571.4 777.3 1567.1 777.2 1563.2 777.1 1559.8 777 1557.2 777Z" fill="#e2dedf"/><circle cx="1557" cy="790" r="13" fill="#e2dedf"/><circle cx="1643" cy="783" r="8" fill="#e2dedf"/>
<path d="M1240 1114.9 1238.8 1115.8 1237.1 1117 1234.9 1118.8 1232.4 1121 1229.6 1123.7 1226.7 1126.7 1223.7 1130.1 1220.7 1134 1217.8 1138.3 1215.3 1143 1213.4 1147.8 1211.9 1152.5 1210.6 1157.2 1209.5 1161.8 1208.6 1166.5 1207.8 1171.1 1207 1175.5 1206.4 1179.9 1205.7 1184 1205.1 1188 1204.7 1191.9 1204.3 1195.8 1203.9 1199.8 1203.6 1203.9 1203.3 1208.1 1203.1 1212.5 1203.1 1217 1203.1 1221.8 1203.3 1226.8 1203.6 1231.9 1204.1 1237.2 1204.6 1242.8 1205.3 1248.8 1206.1 1255 1206.9 1261.3 1208 1267.7 1209.1 1274 1210.4 1280.2 1211.9 1286.3 1213.7 1292.3 1215.7 1298.1 1218.1 1303.5 1220.7 1308.6 1223.3 1313.2 1225.9 1317.4 1228.4 1321.2 1230.7 1324.6 1232.8 1327.6 1234.6 1330.2 1236.2 1332.6 1238 1335.4 1240.1 1338.3 1242 1340.9 1243.9 1343.4 1245.6 1345.7 1247.3 1347.7 1248.7 1349.5 1250 1351 1250.9 1352.2 1251.7 1353.1 1288.3 1326.9 1287.5 1325.6 1286.4 1324 1285.3 1322.3 1284.1 1320.6 1282.9 1318.7 1281.5 1316.7 1280.2 1314.5 1278.8 1312.3 1277.4 1310 1275.8 1307.4 1273.8 1304.2 1271.6 1301 1269.4 1297.9 1267.4 1294.9 1265.5 1292 1263.7 1289.2 1262.1 1286.3 1260.7 1283.5 1259.4 1280.7 1258.3 1277.7 1257.3 1274.2 1256.3 1269.9 1255.2 1265 1254.3 1259.8 1253.4 1254.3 1252.6 1248.8 1252 1243.3 1251.4 1237.9 1250.8 1232.8 1250.4 1228.1 1250.1 1224 1249.9 1220.3 1249.8 1216.8 1249.7 1213.4 1249.8 1210 1249.9 1206.7 1250.1 1203.2 1250.3 1199.7 1250.6 1195.9 1250.9 1192 1251 1187.8 1251 1183.7 1251.1 1179.6 1251.1 1175.6 1251.3 1171.8 1251.5 1168.1 1251.7 1164.8 1252 1161.7 1252.4 1159.1 1252.7 1157 1253 1155.1 1253.6 1153 1254.5 1150.6 1255.7 1148 1257.1 1145.3 1258.6 1142.7 1260.1 1140.1 1261.6 1137.6 1263 1135.1 1264 1133.1Z" fill="#e2dedf"/><circle cx="1252" cy="1124" r="15" fill="#e2dedf"/><circle cx="1270" cy="1340" r="22.5" fill="#e2dedf"/>
<path d="M1326.9 1108.3 1325.6 1108.8 1324 1109.5 1321.7 1110.7 1319 1112.4 1316 1114.4 1312.8 1116.9 1309.4 1119.8 1306 1123.2 1302.7 1127.3 1299.8 1131.8 1297.6 1136.3 1295.9 1140.7 1294.3 1145.1 1292.9 1149.7 1291.7 1154.3 1290.6 1159 1289.6 1163.7 1288.7 1168.5 1287.8 1173.2 1287.1 1178 1286.6 1182.9 1286.2 1188.1 1285.8 1193.4 1285.5 1198.8 1285.4 1204.3 1285.3 1209.8 1285.3 1215.5 1285.5 1221.1 1285.7 1226.8 1286.1 1232.3 1286.8 1237.7 1287.5 1243.1 1288.3 1248.7 1289.2 1254.4 1290.3 1260.1 1291.5 1265.9 1293 1271.7 1294.6 1277.4 1296.5 1283.1 1298.8 1288.8 1301.5 1294.5 1304.5 1299.7 1307.6 1304.6 1310.9 1309.1 1314.2 1313.2 1317.4 1317 1320.4 1320.5 1323.2 1323.7 1325.8 1326.5 1328.2 1329.2 1330.9 1332.1 1333.9 1335 1336.7 1337.7 1339.5 1340.2 1342.1 1342.5 1344.6 1344.4 1346.7 1346.2 1348.6 1347.6 1350 1348.6 1351.1 1349.4 1378.9 1320.6 1377.7 1319.2 1376.1 1317.5 1374.5 1315.7 1372.8 1313.9 1371 1311.9 1369.1 1309.9 1367.3 1307.7 1365.4 1305.5 1363.7 1303.3 1361.8 1300.8 1359.5 1297.9 1356.9 1294.7 1354.4 1291.6 1351.9 1288.6 1349.6 1285.5 1347.4 1282.5 1345.5 1279.5 1343.8 1276.7 1342.4 1273.9 1341.2 1271.2 1340.2 1268.1 1339.2 1264.5 1338.2 1260.5 1337.3 1256.2 1336.6 1251.7 1335.9 1247.1 1335.3 1242.2 1334.7 1237.4 1334.3 1232.5 1333.9 1227.7 1333.4 1223.2 1333 1218.6 1332.7 1213.9 1332.5 1209.2 1332.4 1204.5 1332.3 1199.8 1332.4 1195.2 1332.5 1190.6 1332.7 1186.2 1332.9 1182 1333 1177.8 1333.2 1173.7 1333.4 1169.7 1333.6 1165.8 1333.9 1162.2 1334.3 1158.8 1334.8 1155.6 1335.3 1152.7 1335.8 1150.2 1336.2 1148.2 1336.4 1146.7 1336.8 1144.9 1337.5 1143 1338.7 1140.8 1340 1138.6 1341.5 1136.3 1343 1134.1 1344.5 1131.9 1346 1129.7 1347.1 1127.7Z" fill="#e2dedf"/><circle cx="1337" cy="1118" r="14" fill="#e2dedf"/><circle cx="1365" cy="1335" r="20" fill="#e2dedf"/>
<path d="M1371.3 1148.9 1370.5 1149.9 1369.5 1151.3 1368.1 1153.4 1366.6 1155.8 1364.9 1158.7 1363.1 1161.8 1361.4 1165.3 1359.7 1169 1358.3 1173.2 1357.2 1177.4 1356.7 1181.4 1356.4 1185.1 1356.2 1188.8 1356.2 1192.7 1356.4 1196.5 1356.7 1200.4 1357.3 1204.4 1358 1208.3 1358.9 1212.3 1360 1216 1361.3 1219.5 1362.8 1223 1364.4 1226.6 1366.2 1230.3 1368.3 1234.1 1370.7 1237.9 1373.4 1241.7 1376.5 1245.4 1380 1249 1384 1252.2 1388.2 1255.1 1392.6 1257.4 1397 1259.4 1401.4 1261 1405.8 1262.4 1410.2 1263.6 1414.6 1264.6 1418.9 1265.5 1423.2 1266.2 1427.5 1266.8 1432 1267.3 1436.8 1267.6 1441.5 1267.7 1446.1 1267.7 1450.7 1267.6 1455.2 1267.3 1459.5 1267 1463.6 1266.7 1467.5 1266.3 1471.3 1265.9 1475.2 1265.4 1479.1 1264.7 1482.9 1263.9 1486.5 1263.1 1489.9 1262.2 1493 1261.4 1495.8 1260.6 1498.2 1259.8 1500.1 1259.2 1501.6 1258.8 1496.4 1231.2 1494.5 1231.4 1492.2 1231.7 1489.7 1232 1487 1232.4 1484.1 1232.8 1481 1233.2 1477.9 1233.5 1474.8 1233.8 1471.8 1234 1468.7 1234.1 1465.3 1234.2 1461.6 1234.3 1457.8 1234.5 1453.9 1234.5 1450 1234.6 1446.2 1234.5 1442.5 1234.3 1439 1234.1 1435.7 1233.7 1432.5 1233.2 1429.3 1232.5 1425.9 1231.8 1422.5 1230.9 1419.3 1230 1416.3 1229.1 1413.6 1228 1411.1 1226.9 1409 1225.8 1407.3 1224.7 1406 1223.8 1405 1222.7 1403.9 1221.5 1402.9 1220 1401.8 1218.2 1400.7 1216.1 1399.6 1213.9 1398.6 1211.5 1397.7 1209 1396.8 1206.4 1396 1204 1395.2 1201.9 1394.6 1199.8 1394.1 1197.6 1393.6 1195.4 1393.2 1193.1 1393 1190.8 1392.8 1188.5 1392.7 1186.4 1392.8 1184.2 1392.8 1182.6 1392.8 1181.2 1392.9 1179.5 1393.3 1177.4 1394 1175.1 1394.8 1172.6 1395.6 1170.1 1396.5 1167.7 1397.4 1165.3 1398.2 1163 1398.7 1161.1Z" fill="#e2dedf"/><circle cx="1385" cy="1155" r="15" fill="#e2dedf"/><circle cx="1499" cy="1245" r="14" fill="#e2dedf"/>
<path d="M1506.3 1100.2 1508.5 1101.2 1511.4 1102.3 1514.6 1103.4 1518 1104.6 1521.6 1105.9 1525.1 1107.2 1528.3 1108.6 1531.2 1110 1533.4 1111.2 1534.8 1112.3 1536 1113.3 1537.2 1114.5 1538.4 1115.7 1539.5 1117.1 1540.6 1118.6 1541.7 1120.2 1542.7 1122 1543.8 1124 1545 1126.2 1546.1 1128.4 1547 1130.4 1547.8 1132.5 1548.6 1134.8 1549.4 1137.3 1550.1 1140 1550.9 1142.8 1551.6 1145.7 1552.3 1148.6 1552.9 1151.6 1553.6 1154.6 1554.2 1157.6 1554.8 1160.5 1555.4 1163.2 1555.9 1165.9 1556.3 1168.5 1556.6 1170.9 1556.8 1173.3 1557 1175.6 1557 1177.8 1557 1180.1 1557 1182.6 1556.9 1185.2 1556.7 1187.9 1556.4 1190.5 1556.1 1193.1 1555.7 1195.7 1555.2 1198.2 1554.6 1200.6 1553.9 1203 1553.2 1205.3 1552.3 1207.6 1551.3 1210 1550.1 1212.4 1548.8 1214.9 1547.4 1217.4 1545.9 1219.9 1544.3 1222.4 1542.6 1225 1540.8 1227.5 1538.9 1230.1 1536.9 1232.8 1534.9 1235.5 1532.9 1238 1531 1240.4 1529 1242.7 1527.2 1244.7 1525.3 1246.5 1523.4 1248.2 1521.5 1249.7 1519.5 1251 1517.2 1252.3 1514.6 1253.5 1511.7 1254.8 1508.5 1256.1 1505 1257.2 1501.3 1258.4 1497.5 1259.5 1493.6 1260.5 1489.5 1261.6 1485.4 1262.5 1481.3 1263.5 1477.2 1264.4 1473.1 1265.2 1469 1265.9 1464.9 1266.6 1460.8 1267.1 1456.8 1267.6 1452.9 1267.9 1449.1 1268 1445.5 1268 1441.9 1268 1438 1267.9 1433.9 1267.5 1429.7 1267 1425.3 1266.4 1421 1265.7 1416.6 1264.9 1412.3 1264.1 1408.2 1263.3 1404.4 1262.5 1400.9 1262 1397.6 1261.3 1394.2 1260.6 1391 1259.8 1387.8 1259 1384.7 1258.2 1381.9 1257.4 1379.3 1256.8 1376.9 1256.2 1375 1255.8 1365 1284.2 1366.5 1285 1368.4 1286 1370.7 1287.2 1373.5 1288.6 1376.6 1290 1380 1291.5 1383.7 1293.1 1387.5 1294.6 1391.6 1296.1 1395.6 1297.5 1399.6 1298.6 1403.7 1299.8 1408.2 1301.1 1412.9 1302.4 1417.8 1303.6 1422.9 1304.8 1428.1 1305.9 1433.5 1306.8 1439 1307.5 1444.5 1308 1449.9 1308 1455.2 1307.8 1460.5 1307.4 1465.6 1306.8 1470.7 1306.2 1475.7 1305.4 1480.6 1304.5 1485.4 1303.5 1490.1 1302.5 1494.6 1301.5 1499 1300.4 1503.6 1299.3 1508.2 1298 1512.8 1296.7 1517.5 1295.3 1522.2 1293.6 1526.8 1291.9 1531.4 1289.8 1536 1287.6 1540.5 1285 1544.8 1282.2 1548.8 1279.1 1552.4 1275.9 1555.8 1272.6 1558.8 1269.3 1561.6 1266.1 1564.2 1262.9 1566.6 1259.8 1568.9 1256.8 1571.1 1253.9 1573.3 1250.8 1575.6 1247.6 1577.8 1244.3 1580 1240.9 1582.1 1237.4 1584.1 1233.8 1586 1230.2 1587.7 1226.4 1589.4 1222.6 1590.8 1218.7 1592.2 1214.7 1593.3 1210.7 1594.2 1206.8 1595 1202.8 1595.7 1198.9 1596.2 1195 1596.5 1191.2 1596.8 1187.4 1597 1183.7 1597 1179.9 1596.8 1176 1596.4 1172.1 1595.9 1168.4 1595.3 1164.8 1594.6 1161.3 1593.8 1157.9 1593 1154.6 1592.1 1151.5 1591.3 1148.4 1590.4 1145.4 1589.6 1142.3 1588.6 1139.1 1587.7 1135.8 1586.6 1132.4 1585.5 1129 1584.2 1125.5 1582.9 1122 1581.4 1118.5 1579.7 1114.9 1577.9 1111.6 1576.2 1108.7 1574.5 1105.8 1572.6 1103 1570.5 1100.1 1568.3 1097.2 1565.8 1094.3 1563.1 1091.5 1560.2 1088.8 1556.9 1086.2 1553.2 1083.7 1549 1081.5 1544.5 1079.6 1540 1078 1535.5 1076.6 1531.2 1075.4 1527.1 1074.3 1523.3 1073.4 1520.1 1072.7 1517.5 1072.2 1515.7 1071.8Z" fill="#e2dedf"/><circle cx="1511" cy="1086" r="15" fill="#e2dedf"/><circle cx="1370" cy="1270" r="15" fill="#e2dedf"/>
<path d="M1592.2 1090.1 1594.8 1092 1598.1 1094.2 1601.8 1096.6 1605.7 1099.2 1609.7 1101.9 1613.8 1104.8 1617.7 1107.9 1621.3 1111 1624.5 1114.1 1627.3 1117.4 1630.1 1121.2 1633.2 1125.5 1636.2 1130.2 1639.2 1135 1641.9 1140 1644.5 1145 1646.7 1150.1 1648.6 1155.1 1650.2 1160 1651.2 1164.6 1651.9 1169.3 1652.2 1174.9 1652 1181.3 1651.5 1188.1 1650.8 1195 1649.9 1201.8 1649 1208.2 1648.2 1214.1 1647.5 1219.3 1647.1 1223.4 1674.9 1226.6 1675.4 1223.1 1676.2 1218.5 1677.3 1212.7 1678.4 1206.1 1679.6 1198.8 1680.6 1191.1 1681.4 1183.1 1681.8 1175.1 1681.6 1167.1 1680.8 1159.4 1679.1 1152.2 1677 1145.4 1674.5 1138.7 1671.6 1132.2 1668.4 1125.9 1665.1 1119.9 1661.6 1114.1 1658 1108.7 1654.4 1103.6 1650.7 1098.6 1646.4 1093.6 1641.7 1088.9 1636.7 1084.7 1631.8 1080.8 1626.9 1077.3 1622.3 1074.2 1618.2 1071.5 1614.6 1069.2 1611.8 1067.3 1609.8 1065.9Z" fill="#e2dedf"/><circle cx="1601" cy="1078" r="15" fill="#e2dedf"/><circle cx="1661" cy="1225" r="14" fill="#e2dedf"/>
<path d="M1718.4 1108.6 1719.4 1113 1720.9 1118.6 1722.6 1124.9 1724.5 1131.8 1726.3 1139.2 1728.1 1146.9 1729.7 1154.6 1730.9 1162.2 1731.7 1169.4 1732 1176.2 1731.9 1183.1 1731.5 1190.4 1730.8 1197.9 1729.8 1205.6 1728.6 1213.3 1727.1 1221.1 1725.4 1228.9 1723.5 1236.7 1721.3 1244.3 1718.9 1251.7 1716.1 1259.2 1712.5 1267.3 1708.3 1275.9 1703.8 1284.7 1699.1 1293.3 1694.4 1301.7 1690 1309.5 1686 1316.5 1682.5 1322.6 1679.9 1327.4 1708.1 1342.6 1710.5 1338.1 1713.8 1332.4 1717.8 1325.4 1722.3 1317.4 1727.1 1308.8 1732.1 1299.6 1737 1290.2 1741.6 1280.7 1745.7 1271.3 1749.1 1262.3 1751.9 1253.6 1754.4 1245 1756.6 1236.3 1758.5 1227.5 1760.1 1218.8 1761.5 1210 1762.6 1201.4 1763.4 1192.8 1763.8 1184.3 1764 1175.8 1763.6 1166.9 1762.6 1157.9 1761.2 1148.9 1759.4 1140.1 1757.4 1131.7 1755.4 1123.8 1753.5 1116.6 1751.8 1110.4 1750.5 1105.3 1749.6 1101.4Z" fill="#e2dedf"/><circle cx="1734" cy="1105" r="16" fill="#e2dedf"/><circle cx="1694" cy="1335" r="16" fill="#e2dedf"/>
<path d="M1631.8 1295.8 1630.1 1296.8 1627.8 1298 1625.1 1299.5 1622.1 1301.1 1618.9 1302.9 1615.5 1304.8 1612.1 1306.6 1608.7 1308.5 1605.5 1310.3 1602.5 1312 1599.7 1313.7 1596.7 1315.4 1593.7 1317.2 1590.8 1318.9 1587.9 1320.7 1585.2 1322.3 1582.7 1323.8 1580.5 1325.2 1578.7 1326.3 1577.2 1327.2 1592.8 1352.8 1594.3 1351.9 1596.1 1350.8 1598.3 1349.4 1600.8 1347.9 1603.5 1346.3 1606.3 1344.6 1609.1 1342.9 1612 1341.2 1614.8 1339.6 1617.5 1338 1620.2 1336.4 1623.3 1334.7 1626.6 1332.9 1629.9 1331 1633.3 1329.2 1636.5 1327.5 1639.5 1325.8 1642.2 1324.4 1644.5 1323.1 1646.2 1322.2Z" fill="#e2dedf"/><circle cx="1639" cy="1309" r="15" fill="#e2dedf"/><circle cx="1585" cy="1340" r="15" fill="#e2dedf"/>
<path d="M1440.9 889.2 1443.1 891 1446 893.4 1449.3 896.1 1453.1 899.1 1457.1 902.4 1461.3 905.8 1465.6 909.3 1469.9 912.9 1474 916.3 1477.9 919.6 1481.8 922.8 1485.8 926 1489.9 929.3 1493.9 932.7 1498 936.1 1502.1 939.6 1506.1 943 1510.1 946.4 1514 949.8 1517.7 953.1 1521.6 956.4 1525.7 960 1529.9 963.7 1534.1 967.5 1538.2 971.3 1542.2 974.9 1545.9 978.2 1549.2 981.1 1552 983.6 1554.3 985.5 1575.7 964.5 1573.9 962.2 1571.5 959.3 1568.6 956 1565.3 952.2 1561.8 948.1 1558 943.8 1554 939.5 1550.1 935.1 1546.1 930.9 1542.3 926.9 1538.4 923.1 1534.5 919.4 1530.5 915.7 1526.4 912 1522.3 908.2 1518.2 904.6 1514.2 900.9 1510.1 897.3 1506.1 893.8 1502.1 890.4 1497.9 887 1493.4 883.5 1488.9 880 1484.3 876.6 1479.9 873.2 1475.6 870.1 1471.7 867.2 1468.3 864.6 1465.4 862.5 1463.1 860.8Z" fill="#e2dedf"/><circle cx="1452" cy="875" r="18" fill="#e2dedf"/><circle cx="1565" cy="975" r="15" fill="#e2dedf"/>
<path d="M1453.1 973.4 1452.8 976.7 1452.5 981 1452.1 986.1 1451.6 991.8 1451 997.8 1450.4 1004.2 1449.8 1010.6 1449.3 1016.8 1448.7 1022.8 1448.1 1028.3 1447.6 1033.5 1447.2 1038.7 1446.7 1043.9 1446.2 1049 1445.6 1054.1 1445.1 1059.1 1444.6 1064.1 1444.1 1068.9 1443.6 1073.7 1443.1 1078.3 1442.9 1082.9 1442.6 1087.6 1442.3 1092.4 1442 1097.1 1441.7 1101.6 1441.4 1105.9 1441.2 1109.9 1441.1 1113.4 1441 1116.4 1441.1 1118.8 1456.9 1121.2 1457.7 1118.9 1458.5 1116 1459.4 1112.6 1460.4 1108.8 1461.4 1104.6 1462.5 1100.2 1463.6 1095.6 1464.7 1090.9 1465.8 1086.3 1466.9 1081.7 1467.7 1077.2 1468.6 1072.5 1469.5 1067.7 1470.4 1062.8 1471.4 1057.8 1472.3 1052.7 1473.2 1047.5 1474.1 1042.3 1475 1037 1475.9 1031.7 1476.7 1026.1 1477.5 1020 1478.3 1013.7 1479.1 1007.3 1479.9 1000.9 1480.6 994.8 1481.3 989.1 1481.9 984.1 1482.5 979.9 1482.9 976.6Z" fill="#e2dedf"/><circle cx="1468" cy="975" r="15" fill="#e2dedf"/><circle cx="1449" cy="1120" r="8" fill="#e2dedf"/>
<path d="M1984.7 523 1982 523.1 1978.6 523.2 1974.3 523.4 1969.4 523.6 1964.1 523.8 1958.5 524.1 1952.8 524.5 1947.2 524.9 1941.7 525.6 1936.5 526.3 1931.9 527.3 1927.6 528.3 1923.4 529.3 1919.4 530.5 1915.3 531.8 1911.4 533.1 1907.5 534.6 1903.5 536.2 1899.5 537.8 1895.4 539.6 1891.2 541.4 1886.7 543.4 1882.1 545.6 1877.3 547.8 1872.4 550.3 1867.4 552.8 1862.5 555.6 1857.7 558.5 1852.9 561.6 1848.4 565 1844.1 568.5 1840.1 572.1 1836.3 575.8 1832.8 579.6 1829.6 583.4 1826.5 587.2 1823.5 591 1820.8 594.7 1818.1 598.4 1815.5 602 1812.9 605.9 1810.4 609.8 1808 613.9 1805.6 617.9 1803.3 622 1801.2 626.1 1799.1 630.3 1797.1 634.4 1795.3 638.6 1793.4 642.9 1791.7 647.6 1790 652.5 1788.5 657.4 1787.1 662.3 1785.8 667.1 1784.7 671.5 1783.7 675.6 1782.9 679.2 1782.2 682.1 1781.7 684.3 1814.3 693.7 1815.1 691.3 1816.1 688.1 1817.1 684.6 1818.3 680.7 1819.5 676.6 1820.9 672.3 1822.2 668.1 1823.7 664.1 1825.1 660.4 1826.6 657.1 1828.1 653.8 1829.9 650.4 1831.7 647 1833.6 643.6 1835.5 640.3 1837.6 636.9 1839.7 633.6 1841.9 630.4 1844.1 627.2 1846.5 624 1848.9 620.6 1851.4 617.3 1853.8 614 1856.2 610.8 1858.7 607.8 1861.2 605 1863.7 602.2 1866.3 599.7 1868.9 597.3 1871.6 595 1874.6 592.9 1877.9 590.7 1881.6 588.5 1885.5 586.3 1889.6 584.1 1893.8 582 1898.1 580 1902.4 578.1 1906.6 576.2 1910.6 574.4 1914.3 572.8 1917.8 571.4 1921.1 570.1 1924.2 568.9 1927.3 567.9 1930.3 566.9 1933.4 566 1936.6 565.2 1940 564.4 1943.5 563.7 1947.2 563 1951.5 562.3 1956.3 561.7 1961.4 561.2 1966.5 560.7 1971.6 560.3 1976.3 559.9 1980.6 559.6 1984.4 559.3 1987.3 559Z" fill="#e2dedf"/><circle cx="1986" cy="541" r="18" fill="#e2dedf"/><circle cx="1798" cy="689" r="17" fill="#e2dedf"/>
<path d="M2034.5 571 2037.6 571.2 2041.6 571.4 2046.2 571.5 2051.3 571.7 2056.7 571.9 2062.3 572.2 2068 572.5 2073.4 572.9 2078.4 573.3 2083 573.9 2087.4 574.4 2092 575 2096.5 575.6 2100.8 576.3 2105 577 2109 577.8 2112.9 578.7 2116.6 579.6 2120.1 580.7 2123.3 581.8 2126.4 582.9 2129.6 584.3 2132.9 586 2136.3 587.7 2139.6 589.6 2142.8 591.6 2145.9 593.6 2148.8 595.6 2151.5 597.5 2154 599.3 2156.3 600.8 2158.1 602 2159.4 602.8 2160.2 603.2 2160.7 603.4 2161 603.5 2161.5 603.9 2162.2 604.7 2163.1 606.2 2164.2 608.1 2165.6 610.4 2167.2 613.7 2168.9 617.7 2170.6 622.1 2172.3 626.8 2173.9 631.4 2175.4 635.8 2176.9 639.8 2178.2 643.2 2179.3 645.7 2200.7 640.3 2200.5 637.7 2200.2 634.3 2199.8 630.1 2199.2 625.4 2198.5 620.3 2197.7 615.1 2196.8 610 2195.9 604.9 2194.9 600.2 2193.8 595.9 2192.5 592.5 2191.3 589.5 2189.9 586.6 2188.2 583.8 2186.3 581.1 2184.3 578.7 2182.3 576.5 2180.2 574.6 2178.2 572.7 2176 570.7 2173.3 568.5 2170.2 566.1 2166.8 563.6 2163.2 561 2159.3 558.4 2155.2 555.7 2150.9 553.1 2146.3 550.6 2141.6 548.3 2136.7 546.2 2131.8 544.5 2126.8 543 2121.9 541.7 2116.9 540.6 2111.9 539.6 2106.9 538.8 2101.9 538 2097 537.3 2092.1 536.7 2087 536.1 2081.6 535.7 2075.7 535.4 2069.6 535.1 2063.6 535 2057.6 534.9 2052 534.9 2046.8 534.9 2042.2 535 2038.4 535 2035.5 535Z" fill="#e2dedf"/><circle cx="2035" cy="553" r="18" fill="#e2dedf"/><circle cx="2190" cy="643" r="11" fill="#e2dedf"/>
<path d="M2122.2 648.8 2120 647.4 2117.2 645.6 2113.7 643.3 2109.7 640.8 2105.3 638.1 2100.6 635.3 2095.8 632.5 2090.8 629.8 2085.9 627.3 2081.1 625.1 2076.5 623.4 2072.1 621.8 2067.7 620.4 2063.2 619.1 2058.8 618 2054.3 617 2049.9 616.1 2045.5 615.3 2041 614.6 2036.5 614.1 2032 613.7 2027.4 613.6 2022.8 613.5 2018.2 613.6 2013.7 613.8 2009.2 614.1 2004.8 614.5 2000.4 615 1996.1 615.6 1991.9 616.3 1987.7 617.1 1983.5 618 1979.4 619 1975.5 620.2 1971.6 621.4 1967.8 622.7 1964.1 624 1960.4 625.4 1956.7 626.9 1953 628.4 1949.2 630.1 1945.3 632 1941.3 634 1937.3 636.1 1933.4 638.2 1929.6 640.3 1925.9 642.5 1922.4 644.6 1919.1 646.6 1916.1 648.5 1913.4 650.2 1910.9 651.8 1908.6 653.4 1906.3 655.1 1904.1 656.8 1901.9 658.6 1899.9 660.6 1897.9 662.7 1895.9 664.8 1893.9 667.2 1891.8 669.9 1889.8 672.8 1887.8 675.9 1885.8 679 1883.9 682.2 1882.1 685.4 1880.3 688.6 1878.7 691.7 1877.1 694.8 1875.6 697.9 1874.2 701.2 1872.9 704.6 1871.7 708 1870.6 711.2 1869.7 714.3 1868.9 717.2 1868.2 719.9 1867.6 722.1 1867.1 723.8 1866.8 725.2 1895.2 734.8 1895.9 733.2 1896.6 731.2 1897.4 728.9 1898.2 726.5 1899.2 724 1900.1 721.4 1901.2 718.9 1902.2 716.4 1903.3 714.1 1904.4 712.1 1905.6 709.8 1907.1 707.3 1908.6 704.8 1910.3 702.2 1911.9 699.6 1913.7 697.1 1915.4 694.7 1917 692.5 1918.6 690.5 1920.1 688.8 1921.5 687.2 1922.7 685.9 1923.7 684.8 1924.7 683.9 1925.7 683.1 1926.8 682.2 1928.1 681.3 1929.7 680.2 1931.6 678.9 1933.9 677.5 1936.6 676 1939.5 674.4 1942.6 672.7 1946 671 1949.5 669.3 1953.1 667.6 1956.7 665.9 1960.2 664.4 1963.6 662.9 1967 661.6 1970.2 660.3 1973.5 659 1976.6 657.8 1979.7 656.6 1982.8 655.6 1985.8 654.7 1988.8 653.8 1991.9 653 1994.9 652.3 1998.1 651.7 2001.5 651.2 2004.9 650.7 2008.5 650.3 2012.1 650 2015.7 649.7 2019.3 649.6 2022.9 649.5 2026.5 649.5 2030 649.7 2033.5 649.9 2037 650.2 2040.5 650.5 2044.1 651 2047.7 651.5 2051.2 652.1 2054.8 652.9 2058.3 653.7 2061.9 654.7 2065.5 655.7 2068.9 656.9 2072.5 658.1 2076.4 659.7 2080.8 661.7 2085.2 663.8 2089.7 666 2094.1 668.3 2098.2 670.4 2101.9 672.3 2105.2 674 2107.8 675.2Z" fill="#e2dedf"/><circle cx="2115" cy="662" r="15" fill="#e2dedf"/><circle cx="1881" cy="730" r="15" fill="#e2dedf"/>
<path d="M2109.2 700.6 2107.4 699.4 2105.2 697.9 2102.3 696 2099.1 693.9 2095.4 691.7 2091.6 689.4 2087.6 687 2083.4 684.8 2079.2 682.7 2075.1 680.9 2071.2 679.6 2067.4 678.4 2063.6 677.3 2059.7 676.3 2055.7 675.4 2051.7 674.6 2047.6 674 2043.5 673.5 2039.4 673.2 2035.2 673 2031 673 2026.7 673.3 2022.6 673.7 2018.5 674.3 2014.4 674.9 2010.4 675.7 2006.5 676.6 2002.7 677.6 1999.1 678.6 1995.5 679.7 1991.8 680.9 1988.2 682.3 1984.7 683.7 1981.3 685.2 1978 686.8 1974.7 688.5 1971.6 690.1 1968.6 691.9 1965.7 693.6 1962.9 695.4 1960.2 697.2 1957.5 699 1954.8 700.9 1952.2 702.9 1949.6 705 1947.1 707.2 1944.7 709.5 1942.3 711.8 1940.1 714.4 1938.1 716.9 1936.2 719.5 1934.5 722 1932.9 724.7 1931.4 727.5 1930 730.5 1928.8 733.6 1927.7 736.8 1926.9 740.2 1926.3 743.8 1926 747.4 1926.1 751.1 1926.5 754.8 1927.1 758.3 1927.9 761.8 1928.9 765.2 1930 768.5 1931.2 771.7 1932.5 774.9 1933.9 777.9 1935.3 780.9 1936.8 783.8 1938.4 786.8 1940.2 789.8 1942.1 792.8 1944.1 795.8 1946.2 798.7 1948.5 801.6 1950.9 804.4 1953.5 807.1 1956.2 809.6 1958.8 811.7 1961.5 813.7 1964.3 815.6 1967.2 817.4 1970.2 819 1973.3 820.4 1976.6 821.7 1980 822.9 1983.6 823.9 1987.5 824.7 1991.8 825.4 1996.6 825.9 2001.5 826.2 2006.4 826.3 2011.3 826.3 2016.1 826.3 2020.4 826.2 2024.3 826.1 2027.4 826 2029.7 826 2030.3 804 2027.7 803.8 2024.4 803.7 2020.5 803.6 2016.3 803.5 2011.8 803.3 2007.3 803.1 2002.9 802.8 1998.8 802.4 1995.3 801.9 1992.5 801.3 1990.1 800.5 1987.8 799.7 1985.7 798.8 1983.7 797.9 1981.9 796.9 1980.2 795.8 1978.6 794.6 1977 793.4 1975.4 791.9 1973.8 790.4 1972.3 788.9 1970.9 787.2 1969.5 785.3 1968 783.2 1966.7 781 1965.3 778.6 1964 776.3 1962.8 773.9 1961.7 771.5 1960.7 769.1 1959.8 766.8 1958.9 764.4 1958.1 762.1 1957.4 759.7 1956.8 757.4 1956.4 755.3 1956.1 753.3 1955.9 751.4 1955.9 749.9 1956 748.6 1956.1 747.4 1956.3 746.2 1956.6 745 1957 743.7 1957.5 742.4 1958.2 741 1958.9 739.6 1959.8 738.1 1960.9 736.6 1961.9 735.1 1963 733.7 1964.3 732.3 1965.6 730.9 1967.2 729.5 1968.9 728 1970.7 726.5 1972.7 725 1974.7 723.6 1976.9 722.1 1979.1 720.6 1981.4 719.2 1983.8 717.8 1986.2 716.4 1988.7 715 1991.3 713.7 1993.9 712.4 1996.5 711.3 1999.1 710.2 2001.8 709.2 2004.5 708.3 2007.4 707.4 2010.5 706.6 2013.6 705.8 2016.7 705.1 2019.9 704.4 2023 703.9 2026.1 703.5 2029.1 703.2 2032 703 2034.8 703 2037.6 703.1 2040.5 703.3 2043.5 703.7 2046.5 704.2 2049.6 704.7 2052.6 705.4 2055.7 706.2 2058.8 707.1 2061.9 708.1 2064.9 709.1 2067.8 710 2071.1 711.3 2074.6 712.8 2078.3 714.4 2081.9 716.2 2085.5 718 2088.8 719.6 2091.9 721.2 2094.6 722.5 2096.8 723.4Z" fill="#e2dedf"/><circle cx="2103" cy="712" r="13" fill="#e2dedf"/><circle cx="2030" cy="815" r="11" fill="#e2dedf"/>
<path d="M2252.6 651.7 2253.6 654.1 2254.8 657 2256.2 660.1 2257.7 663.5 2259.3 667.1 2260.9 670.9 2262.4 674.6 2263.7 678.4 2264.8 681.9 2265.7 685.3 2266.7 689 2267.6 693.1 2268.5 697.4 2269.4 701.8 2270.1 706.2 2270.8 710.6 2271.3 715 2271.7 719.2 2271.9 723.2 2272 727 2271.9 730.7 2271.7 734.5 2271.3 738.3 2270.8 742.2 2270.2 746.1 2269.4 750 2268.6 753.7 2267.7 757.4 2266.8 760.9 2265.9 764.1 2265.1 767.1 2264.3 769.9 2263.3 772.7 2262.3 775.4 2261.2 778.1 2260 780.6 2258.8 783.1 2257.6 785.5 2256.4 787.7 2255.4 789.5 2254.7 790.7 2254.1 791.6 2253.3 792.7 2252.4 793.7 2251.4 794.7 2250.3 795.8 2249.1 796.8 2247.8 798 2246.3 799.2 2245.2 800.4 2264.8 825.6 2265.5 825.4 2266.3 825 2267.7 824.3 2269.6 823.3 2271.7 822 2274.1 820.4 2276.7 818.5 2279.4 816.1 2282.1 813.4 2284.6 810.5 2286.7 807.8 2288.7 805.1 2290.7 802.2 2292.8 799.1 2294.8 795.7 2296.9 792.1 2298.8 788.3 2300.7 784.3 2302.5 780.1 2304.1 775.9 2305.4 771.6 2306.5 767.2 2307.6 762.6 2308.6 757.9 2309.6 753 2310.4 748 2311.1 742.9 2311.6 737.6 2311.9 732.3 2312 727 2311.9 721.6 2311.6 716.2 2311.1 710.7 2310.4 705.3 2309.6 699.9 2308.7 694.6 2307.7 689.4 2306.7 684.4 2305.5 679.5 2304.3 674.7 2302.7 669.7 2300.9 664.7 2298.9 659.9 2296.8 655.3 2294.8 651 2292.9 647 2291.1 643.5 2289.5 640.5 2288.3 638.1 2287.4 636.3Z" fill="#e2dedf"/><circle cx="2270" cy="644" r="19" fill="#e2dedf"/><circle cx="2255" cy="813" r="16" fill="#e2dedf"/>
<path d="M1903 866.6 1905.4 867.1 1908.5 867.7 1912.3 868.6 1916.6 869.6 1921.4 870.6 1926.5 871.6 1931.9 872.6 1937.3 873.5 1942.8 874.3 1948.2 874.9 1953.3 875.3 1958.5 875.6 1963.7 875.8 1968.9 875.9 1974.2 875.9 1979.4 875.8 1984.5 875.7 1989.6 875.5 1994.5 875.2 1999.4 875 2004.2 874.6 2009 874.1 2013.7 873.6 2018.4 873 2022.9 872.3 2027.3 871.6 2031.7 870.9 2035.9 870.2 2040 869.4 2044 868.6 2047.9 867.7 2051.5 866.7 2054.9 865.8 2058.2 864.8 2061.3 863.8 2064.4 862.8 2067.5 861.7 2070.7 860.6 2074.2 859.5 2078.2 858.3 2082.8 856.8 2088.2 855 2094.1 853.2 2100.3 851.2 2106.5 849.3 2112.5 847.3 2118.2 845.5 2123.2 843.9 2127.5 842.5 2130.6 841.4 2121.4 808.6 2118.1 809.4 2113.7 810.4 2108.6 811.7 2102.8 813.1 2096.7 814.6 2090.3 816.2 2084.1 817.8 2078.1 819.2 2072.6 820.6 2067.8 821.7 2063.6 822.8 2059.8 823.8 2056.4 824.8 2053.2 825.6 2050.3 826.3 2047.6 827 2044.9 827.7 2042.2 828.2 2039.3 828.8 2036 829.4 2032.4 830.1 2028.7 830.8 2024.8 831.5 2020.9 832.2 2017 832.8 2013 833.4 2008.9 833.9 2004.9 834.3 2000.8 834.7 1996.6 835 1992.3 835.3 1987.8 835.5 1983.3 835.7 1978.6 835.8 1974 835.9 1969.3 835.9 1964.7 835.8 1960.3 835.6 1955.9 835.4 1951.8 835.1 1947.8 834.6 1943.5 834 1938.9 833.2 1934.2 832.4 1929.6 831.4 1925.1 830.5 1920.9 829.5 1917.1 828.7 1913.7 827.9 1911 827.4Z" fill="#e2dedf"/><circle cx="1907" cy="847" r="20" fill="#e2dedf"/><circle cx="2126" cy="825" r="17" fill="#e2dedf"/>
<path d="M1806.1 858.5 1808 860.3 1810.4 862.5 1813.3 865.2 1816.5 868.2 1820 871.5 1823.7 874.8 1827.4 878.2 1831 881.5 1834.5 884.6 1837.7 887.5 1840.9 890.1 1844.3 892.8 1847.7 895.4 1851.1 898.1 1854.3 900.6 1857.4 903 1860.3 905.2 1862.8 907.1 1864.9 908.7 1866.6 909.9 1889.4 882.1 1887.8 880.6 1885.7 878.8 1883.3 876.7 1880.6 874.4 1877.7 871.9 1874.6 869.3 1871.5 866.6 1868.3 863.8 1865.2 861.1 1862.3 858.5 1859.1 856 1855.7 853.1 1852 850 1848.2 846.8 1844.5 843.7 1840.9 840.6 1837.5 837.8 1834.5 835.2 1831.9 833.1 1829.9 831.5Z" fill="#e2dedf"/><circle cx="1818" cy="845" r="18" fill="#e2dedf"/><circle cx="1878" cy="896" r="18" fill="#e2dedf"/>
<path d="M1974.5 983.7 1977.4 983.2 1981 982.5 1985.4 981.8 1990.3 980.9 1995.7 980 2001.3 979 2007.1 977.9 2013 976.8 2018.7 975.7 2024.1 974.6 2029.3 973.5 2034.7 972.3 2040.1 971.2 2045.8 970 2051.4 968.7 2057.1 967.3 2062.8 965.9 2068.5 964.4 2074.1 962.7 2079.5 960.9 2084.8 959 2089.9 957 2094.8 954.9 2099.5 952.7 2104.1 950.5 2108.5 948.3 2112.7 946 2116.8 943.8 2120.8 941.6 2124.7 939.5 2128.4 937.3 2132.2 935.1 2135.9 932.8 2139.6 930.5 2143.3 928.2 2147 925.7 2150.7 923.1 2154.3 920.3 2157.9 917.4 2161.5 914.3 2165 911 2168.4 907.5 2171.6 904 2174.6 900.4 2177.4 896.9 2180.1 893.4 2182.7 890 2185 886.8 2187.2 883.8 2189.3 880.9 2191.4 877.8 2193.4 874.6 2195.3 871.5 2197 868.4 2198.6 865.6 2200 862.9 2201.2 860.6 2202.2 858.5 2202.9 856.9 2203.5 855.5 2176.5 838.5 2175.4 839.8 2174.1 841.5 2172.7 843.4 2171.3 845.5 2169.7 847.7 2168 849.9 2166.3 852.3 2164.5 854.6 2162.6 856.8 2160.7 859.1 2158.5 861.7 2156.2 864.6 2153.9 867.5 2151.4 870.4 2148.9 873.3 2146.4 876.1 2143.9 878.8 2141.4 881.3 2138.9 883.6 2136.5 885.7 2134 887.6 2131.4 889.6 2128.6 891.4 2125.7 893.3 2122.7 895.1 2119.5 896.9 2116.2 898.8 2112.7 900.6 2109.1 902.5 2105.3 904.5 2101.5 906.6 2097.7 908.7 2094 910.7 2090.1 912.7 2086.3 914.6 2082.5 916.5 2078.5 918.3 2074.6 920 2070.6 921.6 2066.5 923.1 2062.2 924.5 2057.6 925.9 2052.7 927.2 2047.7 928.5 2042.4 929.7 2037.1 930.9 2031.8 932.1 2026.4 933.2 2021 934.3 2015.9 935.4 2010.7 936.5 2005.4 937.6 1999.8 938.6 1994.2 939.6 1988.7 940.6 1983.5 941.5 1978.6 942.4 1974.2 943.1 1970.4 943.8 1967.5 944.3Z" fill="#e2dedf"/><circle cx="1971" cy="964" r="20" fill="#e2dedf"/><circle cx="2190" cy="847" r="16" fill="#e2dedf"/>
<circle cx="1884" cy="953" r="24" fill="#e2dedf"/>
<path d="M2012 1015 2012 1017.7 2012 1021.1 2012 1025.3 2012 1029.9 2011.9 1035 2011.9 1040.2 2011.9 1045.5 2011.9 1050.7 2012 1055.6 2012 1060.2 2012.2 1064.4 2012.3 1068.6 2012.5 1072.7 2012.7 1076.7 2012.9 1080.7 2013.1 1084.7 2013.3 1088.7 2013.5 1092.6 2013.8 1096.6 2014 1100.6 2014.5 1104.7 2015 1108.8 2015.4 1113 2015.9 1117.2 2016.5 1121.4 2017 1125.5 2017.5 1129.5 2018 1133.4 2018.5 1137.2 2019 1140.8 2019.6 1144.2 2020.2 1147.6 2020.9 1150.8 2021.5 1154 2022.1 1157 2022.7 1159.9 2023.3 1162.8 2023.9 1165.5 2024.5 1168.1 2025 1170.5 2025.7 1172.9 2026.3 1175 2026.9 1176.9 2027.5 1178.7 2028.1 1180.4 2028.7 1182.2 2029.2 1184 2029.8 1185.9 2030.4 1187.9 2031 1190.2 2031.3 1192.8 2031.5 1195.7 2031.8 1198.8 2032.1 1202.1 2032.3 1205.4 2032.6 1208.5 2032.8 1211.5 2033.1 1214.2 2033.3 1216.4 2033.5 1218.1 2038.5 1217.9 2038.6 1216.2 2038.7 1214 2038.7 1211.3 2038.8 1208.3 2038.8 1205.1 2038.8 1201.8 2038.9 1198.6 2038.9 1195.4 2039 1192.5 2039 1189.8 2039.4 1187.5 2039.8 1185.4 2040.2 1183.5 2040.6 1181.6 2041.1 1179.8 2041.5 1178 2041.9 1176.1 2042.3 1174.1 2042.6 1171.9 2043 1169.5 2043.2 1166.8 2043.4 1164.1 2043.6 1161.3 2043.8 1158.5 2044 1155.5 2044.2 1152.4 2044.4 1149.3 2044.6 1146 2044.8 1142.7 2045 1139.2 2045.1 1135.7 2045.2 1131.9 2045.2 1128 2045.3 1124 2045.4 1119.9 2045.5 1115.7 2045.6 1111.6 2045.7 1107.5 2045.8 1103.4 2046 1099.4 2045.9 1095.5 2045.9 1091.5 2045.9 1087.7 2045.9 1083.8 2045.9 1079.9 2045.9 1076 2045.9 1072 2045.9 1068 2046 1064 2046 1059.8 2046 1055.4 2045.9 1050.5 2045.9 1045.4 2045.9 1040.2 2045.9 1035 2046 1030.1 2046 1025.4 2046 1021.3 2046 1017.7 2046 1015Z" fill="#e2dedf"/><circle cx="2029" cy="1015" r="17" fill="#e2dedf"/><circle cx="2036" cy="1218" r="2.5" fill="#e2dedf"/>
<path d="M2025 1257 2025.2 1259.7 2025.5 1263 2025.7 1267 2026.1 1271.5 2026.4 1276.2 2026.8 1281.3 2027.1 1286.3 2027.4 1291.4 2027.8 1296.3 2028 1300.8 2028.3 1305.4 2028.5 1310.4 2028.8 1315.5 2029 1320.7 2029.2 1325.9 2029.4 1330.8 2029.6 1335.4 2029.8 1339.5 2029.9 1342.9 2030 1345.6 2060 1344.4 2059.9 1341.7 2059.7 1338.3 2059.6 1334.2 2059.4 1329.6 2059.2 1324.6 2059 1319.4 2058.7 1314.2 2058.5 1308.9 2058.2 1303.9 2058 1299.2 2057.7 1294.4 2057.4 1289.5 2057 1284.3 2056.7 1279.2 2056.3 1274.1 2056 1269.3 2055.7 1264.9 2055.4 1260.9 2055.1 1257.6 2055 1255Z" fill="#e2dedf"/><circle cx="2040" cy="1256" r="15" fill="#e2dedf"/><circle cx="2045" cy="1345" r="15" fill="#e2dedf"/>
<path d="M1676.1 750.5 1678.6 751 1681.7 751.7 1685.3 752.5 1689.4 753.4 1693.8 754.4 1698.4 755.4 1703 756.5 1707.6 757.5 1712.1 758.5 1716.2 759.5 1720.4 760.3 1724.9 761.2 1729.5 762.2 1734.2 763.2 1738.9 764.1 1743.3 765.1 1747.5 765.9 1751.2 766.6 1754.3 767.2 1756.8 767.6 1763.2 744.4 1760.9 743.5 1757.9 742.4 1754.4 741.1 1750.4 739.6 1746.1 738.1 1741.6 736.6 1737 735 1732.4 733.4 1728 731.9 1723.8 730.5 1719.6 729.3 1715.1 728 1710.5 726.8 1705.8 725.5 1701.2 724.3 1696.9 723.1 1692.8 722 1689.2 721 1686.2 720.2 1683.9 719.5Z" fill="#e2dedf"/><circle cx="1680" cy="735" r="16" fill="#e2dedf"/><circle cx="1760" cy="756" r="12" fill="#e2dedf"/>
<path d="M1794.8 821.1 1792 822.1 1788.5 823.5 1784.3 825.2 1779.6 827.2 1774.6 829.4 1769.3 831.7 1764 834.1 1758.7 836.5 1753.6 838.8 1748.8 841 1744.5 843.5 1740.1 846.1 1735.7 848.6 1731.4 851.2 1727.2 853.7 1723 856.2 1719 858.7 1715 861.1 1711.2 863.4 1707.5 865.7 1704.1 868.3 1700.7 870.8 1697.5 873.4 1694.5 875.8 1691.5 878.2 1688.7 880.4 1686.1 882.6 1683.7 884.5 1681.4 886.4 1679.4 888 1677.6 889.7 1675.8 891.4 1674.1 892.9 1672.4 894.4 1670.9 895.8 1669.4 897.2 1668.1 898.4 1666.9 899.6 1665.7 900.8 1664.9 901.8 1679.1 928.2 1680.3 928.1 1681.7 928 1683.3 927.7 1685.2 927.2 1687.4 926.7 1689.7 926 1692.2 925.2 1694.9 924.2 1697.7 923.2 1700.6 922 1703.5 920.5 1706.5 918.9 1709.5 917.2 1712.6 915.5 1715.7 913.7 1719 911.9 1722.2 910 1725.6 908.1 1729 906.2 1732.5 904.3 1736 902 1739.6 899.5 1743.4 897 1747.2 894.4 1751.2 891.8 1755.2 889.2 1759.2 886.6 1763.2 884 1767.2 881.4 1771.2 879 1775.1 876.1 1779.5 873 1784.1 869.9 1788.8 866.7 1793.4 863.5 1797.9 860.5 1802.1 857.6 1805.8 855 1808.9 852.8 1811.2 850.9Z" fill="#e2dedf"/><circle cx="1803" cy="836" r="17" fill="#e2dedf"/><circle cx="1672" cy="915" r="15" fill="#e2dedf"/>
<path d="M1670.4 814.9 1672 815 1674.1 815.1 1676.6 815.3 1679.4 815.5 1682.5 815.8 1685.7 816 1689.1 816.3 1692.4 816.5 1695.7 816.8 1698.8 816.9 1702 816.8 1705.4 816.7 1708.9 816.5 1712.5 816.3 1716 816.2 1719.4 816 1722.5 815.8 1725.2 815.5 1727.6 815.3 1729.4 815 1730.6 795 1728.9 794.5 1726.5 794 1723.8 793.4 1720.8 792.8 1717.5 792.2 1714.1 791.6 1710.7 791 1707.3 790.3 1704.1 789.7 1701.2 789.1 1698.3 788.7 1695.2 788.3 1692.1 787.9 1688.9 787.4 1685.7 787 1682.7 786.5 1680 786.1 1677.5 785.7 1675.3 785.4 1673.6 785.1Z" fill="#e2dedf"/><circle cx="1672" cy="800" r="15" fill="#e2dedf"/><circle cx="1730" cy="805" r="10" fill="#e2dedf"/>
</g><g>
<path d="M312.7 703 314.3 701.2 316.2 698.9 318.4 696.2 320.8 693.2 323.4 689.9 326.1 686.6 328.8 683.2 331.6 679.9 334.2 676.8 336.7 674 339.3 671.3 341.9 668.5 344.6 665.6 347.3 662.8 350.1 660 352.9 657.2 355.7 654.5 358.5 651.8 361.3 649.2 364 646.7 366.6 644.3 369.2 642 371.8 639.7 374.4 637.4 377 635.2 379.7 633 382.4 630.8 385.1 628.5 387.9 626.3 390.8 623.9 393.7 621.6 396.5 619.2 399.4 616.9 402.3 614.6 405.3 612.2 408.3 609.9 411.3 607.5 414.4 605.2 417.5 602.8 420.7 600.4 423.9 597.9 427.1 595.4 430.3 592.9 433.6 590.4 436.9 587.9 440.2 585.5 443.6 583 447 580.5 450.4 578 454 575.5 457.6 572.9 461.3 570.2 465.2 567.4 469 564.7 473 562 476.9 559.3 480.8 556.6 484.7 554 488.6 551.4 492.4 548.9 496.2 546.4 500 544 503.8 541.5 507.7 539.1 511.6 536.7 515.4 534.3 519.3 532 523.1 529.7 526.9 527.5 530.5 525.3 534 523 537.4 520.7 540.8 518.4 544.1 516.2 547.4 514.1 550.6 512 553.8 510 556.8 508 559.8 506.1 562.7 504.3 565.3 502.4 567.8 500.5 570.4 498.7 572.9 497 575.5 495.2 578 493.5 580.6 491.8 583.1 490 585.5 488.2 588 486.4 590.3 484.5 592.6 482.6 594.8 480.7 596.9 478.8 598.8 476.9 600.6 475.1 602.2 473.5 603.6 471.9 604.6 470.6 605.5 469.4 600.5 460.6 599 460.7 597.2 461 595.2 461.4 593 462 590.7 462.6 588.2 463.2 585.7 463.9 583.1 464.5 580.5 465.1 578 465.6 575.6 466.1 573 466.5 570.3 466.9 567.4 467.4 564.4 467.9 561.2 468.5 558 469.1 554.5 469.9 551 470.8 547.3 471.7 543.8 473 540.2 474.3 536.6 475.6 532.9 477 529.1 478.5 525.3 480.1 521.4 481.6 517.4 483.3 513.5 485 509.5 486.7 505.5 488.7 501.5 490.7 497.4 492.8 493.3 495 489.1 497.2 484.8 499.4 480.5 501.8 476.2 504.2 471.8 506.6 467.6 509.1 463.3 511.7 459.1 514.4 454.8 517.1 450.5 519.9 446.3 522.7 442.1 525.5 438 528.3 433.9 531 429.9 533.8 426 536.5 422.2 539.3 418.5 542.1 414.9 544.8 411.4 547.6 407.9 550.3 404.5 553 401.1 555.7 397.8 558.4 394.6 561 391.3 563.6 388.2 566.3 385 569 381.9 571.6 378.9 574.3 375.8 576.9 372.9 579.5 369.9 582.2 367 584.8 364 587.4 361.2 590.1 358.4 592.7 355.7 595.3 353 597.9 350.3 600.5 347.6 603.1 344.9 605.8 342.2 608.6 339.5 611.4 336.8 614.3 334 617.3 331.3 620.4 328.6 623.5 325.9 626.7 323.1 629.9 320.4 633.2 317.7 636.6 315 639.9 312.4 643.3 309.8 646.6 307.3 650 304.7 653.6 302 657.3 299.3 661.2 296.7 665 294.2 668.8 291.9 672.4 289.8 675.7 287.9 678.6 286.4 681.1 285.3 683Z" fill="#fecd79"/><circle cx="299" cy="693" r="17" fill="#fecd79"/><circle cx="603" cy="465" r="5" fill="#fecd79"/>
<path d="M690.3 468.5 692.6 467.9 695.5 467 698.7 466 702.3 464.8 706.1 463.5 710.2 462.1 714.5 460.7 718.9 459.3 723.4 457.9 727.9 456.5 732.7 454.7 737.8 452.8 743.1 450.8 748.7 448.8 754.5 446.7 760.3 444.7 766.2 442.7 772.1 440.7 777.9 438.8 783.5 437 789.1 435 794.9 433 800.8 430.9 806.7 429 812.7 427 818.5 425.2 824.3 423.4 829.9 421.6 835.2 420 840.3 418.5 845.1 417 849.7 415.6 854.1 414.3 858.4 413 862.5 411.9 866.5 410.8 870.4 409.7 874.3 408.7 878.1 407.8 881.8 406.9 885.4 405.8 889.2 404.7 893.1 403.8 896.9 402.9 900.7 402 904.3 401.2 907.7 400.4 910.7 399.6 913.3 398.8 915.4 398 914.6 382 912.6 381.4 910.1 380.8 907.1 380.2 903.6 379.6 899.8 379 895.7 378.5 891.5 378 887.1 377.6 882.6 377.3 878.2 377.1 874 377.3 869.7 377.5 865.4 377.7 861 378 856.5 378.4 851.9 378.8 847.1 379.4 842.1 380 837 380.7 831.7 381.5 826.2 382.5 820.4 383.6 814.4 384.8 808.2 386.1 802 387.5 795.6 388.9 789.3 390.4 782.9 391.9 776.6 393.4 770.5 395 764.4 396.9 758.2 398.9 752 401 745.9 403.1 739.8 405.3 733.8 407.4 728 409.5 722.4 411.6 717.1 413.6 712.1 415.5 707.3 417.8 702.6 420.1 698.1 422.5 693.8 424.8 689.8 427 686.1 429.1 682.8 431 679.9 432.8 677.6 434.3 675.7 435.5Z" fill="#fecd79"/><circle cx="683" cy="452" r="18" fill="#fecd79"/><circle cx="915" cy="390" r="8" fill="#fecd79"/>
<path d="M883.5 339.2 887.1 341 891.6 343.5 897 346.6 903.1 350.1 909.7 353.9 916.6 357.8 923.7 361.8 930.8 365.7 937.7 369.4 944.2 372.7 950.5 376 956.8 379.3 963.2 382.4 969.6 385.5 976 388.5 982.2 391.4 988.3 394.1 994.2 396.8 999.7 399.2 1005 401.5 1010.2 403.7 1015.4 405.8 1020.4 407.7 1025.2 409.6 1029.8 411.2 1034 412.7 1037.8 414 1041.2 415.2 1043.9 416.1 1046.2 416.9 1057.8 387.1 1055.5 386.1 1052.6 384.9 1049.3 383.5 1045.6 382 1041.6 380.4 1037.4 378.7 1032.9 376.8 1028.3 374.8 1023.7 372.7 1019 370.5 1014 368.1 1008.6 365.5 1003 362.8 997.2 360 991.2 357 985.2 353.9 979.2 350.8 973.2 347.7 967.4 344.5 961.8 341.3 956.1 337.7 950 333.6 943.7 329.4 937.2 324.9 930.9 320.5 924.8 316.2 919.2 312.2 914.1 308.5 909.8 305.3 906.5 302.8Z" fill="#fecd79"/><circle cx="895" cy="321" r="21.5" fill="#fecd79"/><circle cx="1052" cy="402" r="16" fill="#fecd79"/>
<path d="M1039.6 391.2 1037.1 392.5 1034.1 394.1 1030.4 396.1 1026.3 398.3 1021.9 400.7 1017.2 403.3 1012.5 405.9 1007.8 408.5 1003.2 411.1 998.9 413.5 994.8 416 990.7 418.4 986.5 421 982.3 423.5 978.1 426.1 973.9 428.7 969.7 431.4 965.5 434 961.4 436.7 957.3 439.4 953.4 442.3 949.5 445.3 945.5 448.4 941.6 451.5 937.7 454.5 934 457.5 930.5 460.4 927.2 463.2 924.2 465.9 921.5 468.4 919.1 471.1 917 473.7 915.2 476.2 913.8 478.5 912.6 480.6 911.7 482.6 911.1 484.2 910.7 485.6 910.5 486.6 910.4 487.5 925.6 500.5 926.8 499.9 928.1 499 929.4 498.2 930.6 497.4 931.9 496.6 933.2 495.8 934.8 494.9 936.4 493.9 938.3 492.8 940.5 491.6 943.1 489.9 946.1 487.9 949.4 485.7 953 483.3 956.8 480.9 960.7 478.4 964.7 475.8 968.7 473.3 972.7 470.9 976.7 468.6 980.4 466.2 984.3 463.8 988.3 461.4 992.3 458.9 996.4 456.5 1000.6 454.1 1004.7 451.7 1008.9 449.3 1013.1 446.9 1017.1 444.5 1021.3 442 1025.6 439.3 1030.2 436.6 1034.7 433.8 1039.2 431.1 1043.5 428.6 1047.5 426.2 1051.1 424 1054.1 422.2 1056.4 420.8Z" fill="#fecd79"/><circle cx="1048" cy="406" r="17" fill="#fecd79"/><circle cx="918" cy="494" r="10" fill="#fecd79"/>
<path d="M418.5 805 421.7 804.9 425.8 804.8 430.8 804.7 436.3 804.6 442.2 804.5 448.3 804.4 454.3 804.3 460.2 804.1 465.5 804.1 470.3 804 474.5 803.8 478.5 803.5 482.4 803.3 486 803.1 489.6 802.9 493.1 802.8 496.6 802.6 500 802.4 503.5 802.2 507 802 510.6 801.5 514.1 801 517.6 800.5 521.1 800 524.5 799.4 527.8 798.9 531 798.4 534.1 797.9 537 797.5 539.7 797 542.2 796.6 544.6 796.1 546.8 795.7 549 795.3 551.1 794.9 553.1 794.5 555.1 794.1 557.2 793.8 559.2 793.4 561.3 793 563.5 792.4 565.7 791.8 567.9 791.2 570.2 790.6 572.4 790 574.4 789.5 576.4 788.9 578.1 788.3 579.5 787.6 580.7 787 581.3 775 580.2 774.3 578.9 773.5 577.2 772.7 575.4 771.9 573.4 771.1 571.3 770.3 569.1 769.4 566.9 768.6 564.7 767.8 562.7 767 560.7 766.4 558.8 765.8 556.8 765.2 554.8 764.6 552.7 764 550.5 763.3 548.2 762.7 545.7 762.1 543.1 761.6 540.3 761 537.4 760.5 534.3 759.9 531.1 759.4 527.8 758.9 524.4 758.4 520.9 758 517.4 757.5 513.9 757 510.5 756.5 507 756 503.6 755.8 500.2 755.6 496.8 755.4 493.3 755.2 489.8 754.9 486.1 754.7 482.3 754.5 478.3 754.3 474.1 754.2 469.7 754 464.8 754.1 459.3 754.2 453.4 754.3 447.3 754.4 441.2 754.5 435.2 754.6 429.7 754.7 424.8 754.9 420.6 754.9 417.5 755Z" fill="#fecd79"/><circle cx="418" cy="780" r="25" fill="#fecd79"/><circle cx="581" cy="781" r="6" fill="#fecd79"/>
<path d="M540.1 743.5 543.2 745.1 547.2 747.1 552 749.5 557.2 752.2 562.9 755 568.7 758 574.5 761 580.1 764 585.3 766.8 590 769.3 594.4 771.8 598.8 774.3 603.1 776.8 607.3 779.3 611.5 781.7 615.5 784.2 619.3 786.5 622.9 788.7 626.3 790.9 629.4 792.8 632.2 794.4 634.7 796 637.1 797.5 639.4 798.9 641.4 800.3 643.3 801.5 645.1 802.7 646.7 803.7 648.3 804.7 649.6 805.5 670.4 778.5 669.5 777.6 668.5 776.5 667.1 775.2 665.5 773.6 663.6 771.9 661.4 770 659.1 767.9 656.5 765.8 653.6 763.5 650.6 761.2 647.4 759 643.9 756.6 640.3 754.1 636.4 751.5 632.3 748.8 628 746 623.6 743.2 619.2 740.3 614.6 737.5 610 734.7 605 731.7 599.6 728.6 593.8 725.4 588 722.1 582.1 718.8 576.5 715.8 571.3 712.9 566.7 710.3 562.8 708.2 559.9 706.5Z" fill="#fecd79"/><circle cx="550" cy="725" r="21" fill="#fecd79"/><circle cx="660" cy="792" r="17" fill="#fecd79"/>
<path d="M649.1 782.7 647.2 783.9 644.8 785.4 642 787.3 638.8 789.5 635.4 791.8 631.8 794.3 628.1 796.8 624.5 799.4 620.9 802 617.5 804.4 614.3 806.8 611.2 809.3 608 811.7 604.9 814.2 601.8 816.7 598.7 819.2 595.6 821.6 592.6 824.1 589.6 826.5 586.6 828.9 583.7 831.4 580.7 833.9 577.7 836.5 574.6 839.2 571.5 841.8 568.4 844.5 565.4 847.2 562.4 849.8 559.4 852.5 556.6 855.1 554 857.9 551.5 860.7 549.1 863.4 546.7 866.2 544.4 868.8 542.3 871.4 540.3 873.9 538.4 876.3 536.7 878.6 535.2 880.9 533.9 883.3 532.8 885.8 531.9 888.1 531.3 890.2 530.9 892.1 530.6 893.8 530.6 895.2 530.8 896.3 531.1 896.9 531.5 897.5 550.5 908.5 551.6 907.9 552.6 907.1 553.6 906.5 554.5 906 555.4 905.6 556.3 905.2 557.3 904.8 558.3 904.4 559.5 903.9 560.8 903.1 562.4 901.9 564.2 900.4 566.2 898.7 568.4 896.8 570.7 894.9 573.1 892.9 575.6 890.9 578.2 888.9 580.8 886.8 583.4 884.9 585.9 882.7 588.6 880.5 591.5 878.3 594.4 875.9 597.5 873.5 600.6 871.1 603.8 868.6 607 866.2 610.3 863.6 613.4 861.1 616.4 858.5 619.4 855.9 622.4 853.3 625.3 850.6 628.2 848.1 631.1 845.5 634 843 636.8 840.5 639.7 838 642.5 835.6 645.4 833.1 648.5 830.4 651.8 827.6 655.1 824.8 658.4 822.1 661.5 819.4 664.4 817 667 814.8 669.2 812.9 670.9 811.3Z" fill="#fecd79"/><circle cx="660" cy="797" r="18" fill="#fecd79"/><circle cx="541" cy="903" r="11" fill="#fecd79"/>
<path d="M973.5 794 976.8 794.1 980.9 794.1 985.8 794.2 991.2 794.3 997.2 794.4 1003.5 794.5 1010 794.7 1016.6 794.8 1023.2 794.9 1029.6 795 1036.2 794.6 1043.1 794.2 1050.3 793.8 1057.6 793.4 1065.1 793 1072.5 792.6 1079.7 792.2 1086.7 791.8 1093.4 791.4 1099.7 791 1105.6 790.5 1111.3 790 1116.9 789.5 1122.3 789 1127.4 788.6 1132.4 788.1 1137.1 787.6 1141.6 787.1 1145.9 786.5 1149.8 786 1153.5 785.4 1156.8 784.9 1159.9 784.3 1162.7 783.7 1165.2 783.1 1167.6 782.4 1169.7 781.8 1171.6 781.2 1173.4 780.6 1175 780 1176.5 779.7 1177.7 779.4 1178.6 779.1 1179.4 778.8 1180.1 778.5 1180.6 778.2 1181 777.9 1181.3 777.6 1181.7 777.3 1182 777 1182 767 1181.7 766.7 1181.3 766.4 1181 766.1 1180.6 765.8 1180.1 765.5 1179.4 765.2 1178.6 764.9 1177.7 764.6 1176.5 764.3 1175 764 1173.3 763.4 1171.5 762.8 1169.5 762.2 1167.4 761.6 1165.1 761.1 1162.6 760.5 1159.9 759.9 1157 759.3 1153.7 758.6 1150.2 758 1146.3 757.3 1142.2 756.7 1137.8 756 1133.1 755.3 1128.2 754.6 1123 753.9 1117.6 753.1 1112.1 752.4 1106.3 751.7 1100.3 751 1094.1 750.4 1087.4 749.8 1080.3 749.2 1073.1 748.6 1065.7 748 1058.3 747.4 1050.9 746.8 1043.8 746.2 1036.9 745.6 1030.4 745 1024 744.9 1017.4 744.8 1010.8 744.7 1004.4 744.6 998.1 744.4 992.2 744.3 986.7 744.2 981.9 744.1 977.7 744.1 974.5 744Z" fill="#fecd79"/><circle cx="974" cy="769" r="25" fill="#fecd79"/><circle cx="1182" cy="772" r="5" fill="#fecd79"/>
<path d="M1227.6 793 1229.3 793.1 1231.1 793.3 1233 793.4 1235.3 793.6 1237.9 793.7 1241.1 793.8 1244.8 793.9 1249.3 793.9 1254.5 794 1260.7 794 1268.1 793.6 1276.8 793.2 1286.6 792.8 1297.2 792.4 1308.3 791.9 1319.6 791.5 1330.8 791 1341.6 790.5 1351.7 790 1360.9 789.5 1369.2 789 1377 788.4 1384.4 787.9 1391.4 787.3 1398.2 786.7 1404.8 786.1 1411.2 785.6 1417.7 785 1424.3 784.5 1431 784 1438 783.5 1445.1 783.1 1452.2 782.6 1459.4 782.2 1466.5 781.8 1473.5 781.4 1480.5 781 1487.4 780.6 1494.1 780.3 1500.6 780 1506.9 779.6 1513.2 779.3 1519.4 779 1525.5 778.7 1531.5 778.4 1537.4 778.1 1543.3 777.8 1549 777.6 1554.7 777.3 1560.3 777 1565.8 776.6 1571.1 776.2 1576.4 775.8 1581.7 775.4 1586.8 775.1 1591.8 774.7 1596.7 774.3 1601.4 773.9 1606 773.4 1610.5 773 1614.9 772 1619.3 771 1623.6 770 1627.8 769 1631.7 767.9 1635.4 766.9 1638.8 765.9 1641.8 764.9 1644.3 763.9 1646.4 763 1645.6 751 1643.5 750.3 1640.8 749.7 1637.7 749.1 1634.3 748.5 1630.5 748 1626.5 747.4 1622.3 746.8 1618.1 746.2 1613.8 745.6 1609.5 745 1605.2 744.8 1600.7 744.7 1596 744.5 1591.2 744.3 1586.2 744.1 1581.1 743.9 1575.9 743.6 1570.6 743.4 1565.2 743.2 1559.7 743 1554.2 742.9 1548.6 742.8 1542.8 742.6 1537 742.5 1531 742.4 1524.9 742.3 1518.7 742.2 1512.4 742.1 1506 742 1499.4 742 1492.8 742.1 1485.9 742.3 1479 742.4 1471.9 742.6 1464.8 742.8 1457.6 743.1 1450.4 743.3 1443.2 743.5 1436.1 743.8 1429 744 1422 744.2 1415.3 744.5 1408.7 744.7 1402.1 745 1395.6 745.3 1388.9 745.6 1382 745.8 1374.8 746.1 1367.2 746.3 1359.1 746.5 1350.1 746.7 1340.1 746.9 1329.4 747.1 1318.3 747.3 1307.1 747.4 1296 747.6 1285.4 747.7 1275.6 747.9 1266.8 747.9 1259.3 748 1253.2 748.4 1247.9 748.8 1243.5 749.1 1239.7 749.4 1236.6 749.7 1233.9 750 1231.7 750.2 1229.8 750.5 1228 750.8 1226.4 751Z" fill="#fecd79"/><circle cx="1227" cy="772" r="21" fill="#fecd79"/><circle cx="1646" cy="757" r="6" fill="#fecd79"/>
<path d="M1390.5 440 1390.5 442.3 1390.5 445.3 1390.5 449 1390.5 453 1390.4 457.4 1390.4 462.1 1390.4 466.8 1390.4 471.4 1390.5 476 1390.5 480.3 1390.6 484.4 1390.7 488.5 1390.9 492.7 1391 496.8 1391.2 500.9 1391.4 504.9 1391.5 508.9 1391.7 512.9 1391.9 516.8 1392 520.6 1392.5 524.4 1393 528.2 1393.5 532 1394 535.8 1394.5 539.5 1395 543.2 1395.5 546.8 1396 550.2 1396.5 553.5 1397 556.6 1397.7 559.5 1398.4 562.3 1399.1 565 1399.8 567.5 1400.5 569.9 1401.2 572.2 1401.9 574.4 1402.6 576.5 1403.3 578.6 1404 580.6 1404.8 582.6 1405.6 584.6 1406.5 586.5 1407.3 588.3 1408.1 590.1 1408.9 591.7 1409.7 593.1 1410.5 594.4 1411.3 595.5 1412 596.3 1422 595.7 1422.6 594.7 1423.2 593.5 1423.9 592.1 1424.5 590.6 1425 588.9 1425.6 587.2 1426.2 585.3 1426.8 583.4 1427.4 581.4 1428 579.4 1428.5 577.4 1429 575.3 1429.5 573.1 1430 570.9 1430.5 568.6 1431 566.2 1431.5 563.7 1432 561.1 1432.5 558.3 1433 555.4 1433.3 552.3 1433.6 549.1 1433.9 545.7 1434.2 542.1 1434.5 538.5 1434.8 534.7 1435.1 530.9 1435.4 527.1 1435.7 523.3 1436 519.4 1435.9 515.5 1435.9 511.6 1435.8 507.6 1435.7 503.7 1435.7 499.6 1435.6 495.6 1435.6 491.6 1435.5 487.6 1435.5 483.6 1435.5 479.7 1435.5 475.7 1435.4 471.3 1435.4 466.7 1435.4 462.1 1435.4 457.6 1435.5 453.2 1435.5 449.2 1435.5 445.5 1435.5 442.4 1435.5 440Z" fill="#fecd79"/><circle cx="1413" cy="440" r="22.5" fill="#fecd79"/><circle cx="1417" cy="596" r="5" fill="#fecd79"/>
<path d="M1333.2 576.8 1334.6 579.3 1336.6 582.4 1338.8 586 1341.3 590.1 1344 594.5 1346.8 599 1349.6 603.5 1352.3 607.9 1354.8 612.1 1357.1 615.9 1359.3 619.4 1361.5 622.9 1363.6 626.4 1365.7 629.8 1367.8 633.3 1369.8 636.7 1371.8 640 1373.7 643.3 1375.6 646.6 1377.5 649.7 1379.4 652.6 1381.2 655.6 1383 658.5 1384.7 661.4 1386.4 664.2 1388.1 667 1389.7 669.6 1391.3 672.2 1392.8 674.6 1394.3 676.8 1395.8 678.8 1397.2 680.7 1398.6 682.3 1399.8 683.8 1401 685.1 1402.1 686.2 1403.1 687.2 1403.9 688 1404.7 688.5 1405.3 689 1430.7 673 1430.4 672.1 1430.1 671 1429.7 669.9 1429.3 668.7 1428.9 667.4 1428.3 666 1427.8 664.5 1427.1 662.9 1426.4 661.1 1425.7 659.2 1424.8 657.1 1423.7 654.8 1422.6 652.2 1421.4 649.5 1420.1 646.5 1418.7 643.5 1417.2 640.3 1415.7 637 1414.1 633.7 1412.5 630.3 1410.8 627 1409.1 623.7 1407.3 620.3 1405.4 616.7 1403.5 613.1 1401.5 609.4 1399.4 605.6 1397.3 601.8 1395.2 598 1392.9 594.1 1390.3 590 1387.5 585.7 1384.5 581.2 1381.5 576.7 1378.5 572.2 1375.5 567.9 1372.8 563.9 1370.4 560.3 1368.4 557.4 1366.8 555.2Z" fill="#fecd79"/><circle cx="1350" cy="566" r="20" fill="#fecd79"/><circle cx="1418" cy="681" r="15" fill="#fecd79"/>
<path d="M1525.9 545.6 1524 546.5 1521.6 547.9 1518.8 549.5 1515.6 551.5 1512.2 553.6 1508.6 556 1504.9 558.5 1501.2 561.1 1497.5 563.8 1493.9 566.5 1490.7 569.3 1487.4 572.3 1484.2 575.3 1480.9 578.5 1477.5 581.7 1474.2 584.9 1470.9 588.3 1467.7 591.6 1464.5 595 1461.3 598.4 1458.3 601.9 1455.3 605.6 1452.3 609.4 1449.3 613.1 1446.4 616.9 1443.6 620.6 1440.9 624.2 1438.3 627.8 1435.8 631.2 1433.4 634.5 1431.2 637.8 1429.1 641.2 1427.1 644.5 1425.2 647.7 1423.4 650.8 1421.7 653.7 1420.2 656.5 1418.8 659.1 1417.6 661.4 1416.5 663.4 1415.6 665.4 1414.8 667.2 1414.2 668.9 1413.8 670.3 1413.5 671.6 1413.2 672.7 1413.2 673.6 1413.2 674.2 1413.4 674.6 1413.5 674.9 1436.5 687.1 1437.1 686.5 1437.8 685.9 1438.3 685.5 1438.8 685.1 1439.3 684.8 1439.9 684.3 1440.5 683.7 1441.3 683 1442.3 681.9 1443.5 680.6 1444.9 678.8 1446.5 676.7 1448.1 674.4 1449.9 672 1451.8 669.4 1453.8 666.8 1455.9 664 1458.1 661.2 1460.3 658.4 1462.6 655.5 1464.9 652.4 1467.3 649.1 1469.8 645.7 1472.4 642.3 1475.1 638.7 1477.8 635.2 1480.5 631.7 1483.3 628.2 1486 624.9 1488.7 621.6 1491.3 618.3 1494 615 1496.7 611.6 1499.5 608.3 1502.3 604.9 1505.1 601.7 1507.9 598.5 1510.7 595.4 1513.4 592.4 1516.1 589.5 1518.5 586.6 1521.1 583.5 1523.9 580.4 1526.7 577.4 1529.5 574.4 1532.2 571.5 1534.6 568.9 1536.8 566.4 1538.7 564.2 1540.1 562.4Z" fill="#fecd79"/><circle cx="1533" cy="554" r="11" fill="#fecd79"/><circle cx="1425" cy="681" r="13" fill="#fecd79"/>
<path d="M1439 1141.7 1439.9 1139.8 1440.7 1137.5 1441.5 1134.8 1442.3 1131.8 1443.1 1128.5 1443.9 1124.9 1444.6 1121.2 1445.4 1117.3 1446.2 1113.3 1447 1109.3 1447.4 1105.1 1447.8 1100.6 1448.2 1095.9 1448.6 1091.1 1449 1086 1449.4 1080.9 1449.8 1075.6 1450.2 1070.2 1450.6 1064.7 1451 1059.2 1450.9 1053.6 1450.9 1047.6 1450.8 1041.4 1450.8 1035.1 1450.7 1028.7 1450.7 1022.3 1450.6 1016.1 1450.6 1010.1 1450.5 1004.4 1450.5 999.1 1450.2 994.2 1450 989.6 1449.8 985.2 1449.5 981.1 1449.3 977 1449 973.2 1448.8 969.4 1448.5 965.7 1448.2 962.1 1447.9 958.4 1447.4 954.8 1446.8 951.3 1446.1 948 1445.5 944.8 1444.9 941.8 1444.3 938.9 1443.6 936.1 1443 933.4 1442.5 930.8 1441.9 928.3 1441.3 925.6 1440.6 922.8 1440 919.9 1439.4 917.1 1438.8 914.3 1438.2 911.7 1437.6 909.3 1437 907.1 1436.5 905.3 1436 903.8 1406 906.2 1405.8 907.6 1405.5 909.5 1405.3 911.7 1405.1 914.2 1404.9 916.9 1404.7 919.8 1404.5 922.8 1404.4 925.8 1404.2 928.8 1404.1 931.7 1404.1 934.7 1404.1 937.6 1404.1 940.5 1404.1 943.4 1404.1 946.3 1404.1 949.2 1404.1 952.2 1404.1 955.2 1404.1 958.3 1404.1 961.6 1404.2 965 1404.4 968.4 1404.6 971.9 1404.7 975.5 1404.8 979.2 1405 983.1 1405.1 987.2 1405.2 991.5 1405.4 996.1 1405.5 1000.9 1405.9 1006.1 1406.2 1011.6 1406.6 1017.6 1406.9 1023.7 1407.3 1030.1 1407.6 1036.4 1408 1042.8 1408.3 1049 1408.7 1055 1409 1060.8 1409.8 1066.2 1410.6 1071.7 1411.4 1077 1412.2 1082.3 1413 1087.5 1413.8 1092.5 1414.6 1097.3 1415.4 1102 1416.2 1106.5 1417 1110.7 1418.2 1114.8 1419.5 1118.8 1420.7 1122.7 1421.9 1126.3 1423.1 1129.8 1424.4 1133 1425.6 1135.9 1426.7 1138.4 1427.9 1140.6 1429 1142.3Z" fill="#fecd79"/><circle cx="1434" cy="1142" r="5" fill="#fecd79"/><circle cx="1421" cy="905" r="15" fill="#fecd79"/>
<path d="M1352.7 1016.5 1354.3 1014.4 1356.2 1011.7 1358.4 1008.4 1360.9 1004.8 1363.6 1000.8 1366.3 996.6 1369.2 992.3 1372 988 1374.7 983.9 1377.3 980 1379.7 976.1 1382.1 972.1 1384.6 968 1387.1 963.8 1389.6 959.7 1392 955.6 1394.5 951.6 1396.8 947.7 1399.1 944 1401.2 940.4 1403 936.9 1404.8 933.5 1406.5 930.1 1408.1 926.8 1409.7 923.7 1411.2 920.6 1412.7 917.6 1414.1 914.6 1415.4 911.8 1416.7 909 1417.9 906.2 1419 903.4 1420 900.8 1420.9 898.2 1421.8 895.8 1422.5 893.6 1423.2 891.6 1423.7 889.8 1424.1 888.3 1424.4 887.1 1395.6 872.9 1394.8 874 1393.8 875.3 1392.7 876.9 1391.6 878.6 1390.3 880.4 1389 882.4 1387.7 884.5 1386.2 886.6 1384.8 888.8 1383.3 891 1381.8 893.3 1380.2 895.8 1378.5 898.3 1376.8 901 1374.9 903.8 1373 906.8 1371.1 909.8 1369 912.9 1366.9 916.2 1364.8 919.6 1362.8 923.2 1360.7 927 1358.6 931 1356.3 935.1 1354 939.3 1351.7 943.5 1349.4 947.7 1347.1 951.9 1344.9 956 1342.7 960 1340.6 964.2 1338.4 968.6 1336.1 973.2 1333.8 977.7 1331.6 982.2 1329.4 986.5 1327.5 990.5 1325.7 994 1324.3 997.1 1323.3 999.5Z" fill="#fecd79"/><circle cx="1338" cy="1008" r="17" fill="#fecd79"/><circle cx="1410" cy="880" r="16" fill="#fecd79"/>
<path d="M1407.4 891.3 1408.8 892.9 1410.6 894.9 1412.7 897 1415.1 899.3 1417.6 901.7 1420.2 904.3 1422.9 907 1425.6 909.8 1428.2 912.6 1430.8 915.5 1433.6 918.3 1436.5 921.5 1439.7 924.9 1442.9 928.4 1446.3 932.1 1449.8 935.9 1453.2 939.8 1456.7 943.6 1460.3 947.5 1463.7 951.2 1467.4 954.7 1471 958.3 1474.8 961.9 1478.5 965.5 1482.2 969 1485.9 972.6 1489.5 976 1492.9 979.3 1496.3 982.5 1499.4 985.6 1502.7 988.2 1505.8 990.8 1508.9 993.3 1511.9 995.7 1514.7 998 1517.5 1000.2 1520.1 1002.3 1522.6 1004.2 1525 1006 1527.3 1007.7 1529.5 1009.2 1531.6 1010.6 1533.5 1011.9 1535.4 1013 1537.1 1014 1538.7 1014.9 1540.2 1015.7 1541.5 1016.3 1542.7 1016.8 1543.8 1017.2 1562.2 998.8 1561.8 997.7 1561.3 996.5 1560.7 995.2 1559.9 993.7 1559 992.1 1558 990.4 1556.9 988.5 1555.6 986.6 1554.2 984.5 1552.7 982.3 1551 980 1549.2 977.6 1547.3 975.1 1545.2 972.5 1543 969.7 1540.7 966.9 1538.3 963.9 1535.8 960.8 1533.2 957.7 1530.6 954.4 1527.5 951.3 1524.3 947.9 1521 944.5 1517.6 940.9 1514 937.2 1510.5 933.5 1506.9 929.8 1503.3 926 1499.7 922.4 1496.3 918.8 1492.7 915.4 1489 912 1485.3 908.4 1481.5 904.8 1477.7 901.3 1473.9 897.7 1470.1 894.2 1466.4 890.8 1462.8 887.6 1459.2 884.5 1455.5 881.7 1451.7 879 1448 876.5 1444.5 874.1 1441.1 871.9 1437.9 869.9 1435 868.2 1432.4 866.7 1430.3 865.6 1428.6 864.7Z" fill="#fecd79"/><circle cx="1418" cy="878" r="17" fill="#fecd79"/><circle cx="1553" cy="1008" r="13" fill="#fecd79"/>
<path d="M1667.7 798.5 1669.6 798.4 1672.1 798.3 1675 798.1 1678.2 798 1681.7 797.8 1685.4 797.6 1689.2 797.5 1693.1 797.3 1696.9 797.1 1700.6 797 1704.4 796.4 1708.5 795.8 1712.8 795.2 1717.1 794.5 1721.5 793.9 1725.8 793.3 1729.9 792.7 1733.8 792.1 1737.3 791.6 1740.3 791 1742.9 790.2 1745.3 789.3 1747.4 788.5 1749.2 787.7 1750.9 786.9 1752.4 786.2 1753.7 785.4 1754.9 784.6 1756 783.8 1757 783 1757 765 1756.2 764.2 1755.2 763.4 1754 762.6 1752.7 761.8 1751.1 760.9 1749.3 760.1 1747.3 759.3 1745 758.5 1742.5 757.8 1739.7 757 1736.5 756.6 1733 756.1 1729 755.7 1724.8 755.3 1720.5 754.9 1716.1 754.6 1711.7 754.2 1707.4 753.8 1703.2 753.4 1699.4 753 1695.6 753.1 1691.8 753.1 1687.9 753.2 1684 753.3 1680.3 753.3 1676.8 753.4 1673.6 753.4 1670.7 753.5 1668.2 753.5 1666.3 753.5Z" fill="#fecd79"/><circle cx="1667" cy="776" r="22.5" fill="#fecd79"/><circle cx="1757" cy="774" r="9" fill="#fecd79"/>
<path d="M1682.9 715.3 1684.6 716.1 1686.7 717.2 1689.1 718.3 1691.8 719.6 1694.7 721 1697.8 722.5 1701.1 724 1704.4 725.7 1707.7 727.3 1711 729 1714.6 730.4 1718.6 731.9 1722.7 733.6 1727 735.4 1731.3 737.2 1735.6 739 1739.8 740.8 1743.9 742.5 1747.8 744.2 1751.4 745.8 1754.9 747.2 1758.3 748.6 1761.7 750 1765.1 751.5 1768.4 752.9 1771.6 754.3 1774.8 755.7 1777.8 757 1780.7 758.2 1783.5 759.2 1786.1 760 1788.6 760.5 1790.9 761 1793 761.3 1795 761.6 1796.8 761.7 1798.4 761.7 1799.9 761.7 1801.1 761.5 1802.2 761.3 1807.8 750.7 1807.2 749.6 1806.5 748.5 1805.7 747.3 1804.8 746 1803.7 744.7 1802.6 743.3 1801.2 741.8 1799.8 740.2 1798.2 738.5 1796.5 736.8 1794.6 735 1792.4 733.1 1790.1 731.1 1787.5 728.9 1784.7 726.6 1781.8 724.2 1778.7 721.7 1775.5 719.2 1772.1 716.7 1768.6 714.2 1764.9 711.9 1761 709.5 1757 707.1 1752.8 704.6 1748.6 702.2 1744.4 699.8 1740.3 697.5 1736.3 695.2 1732.6 693.1 1729 691 1725.4 689.4 1721.7 687.8 1718.1 686.3 1714.6 684.9 1711.3 683.5 1708.2 682.2 1705.3 681.1 1702.8 680.1 1700.8 679.3 1699.1 678.7Z" fill="#fecd79"/><circle cx="1691" cy="697" r="20" fill="#fecd79"/><circle cx="1805" cy="756" r="6" fill="#fecd79"/>
<path d="M1815.1 754.4 1812.9 755.7 1810.1 757.5 1806.8 759.5 1803.1 761.9 1799.1 764.4 1794.9 767.1 1790.6 769.8 1786.3 772.5 1782.1 775.2 1778.1 777.7 1774.3 780.2 1770.4 782.7 1766.4 785.2 1762.4 787.8 1758.3 790.5 1754.2 793.1 1750 795.8 1745.8 798.4 1741.7 801.2 1737.6 803.8 1733.5 806.6 1729.4 809.4 1725.3 812.3 1721.1 815.1 1716.9 818 1712.7 820.9 1708.6 823.8 1704.5 826.7 1700.5 829.6 1696.7 832.5 1693.2 835.7 1689.9 838.9 1686.6 842 1683.6 845.1 1680.6 848.1 1677.9 851 1675.3 853.8 1672.8 856.4 1670.6 858.9 1668.4 861.2 1666.6 863.7 1664.7 866.1 1663 868.5 1661.3 870.8 1659.8 872.9 1658.5 875 1657.3 876.9 1656.3 878.6 1655.5 880.2 1655 881.5 1669 898.5 1670.5 898.1 1672.2 897.6 1674.1 897 1676.2 896.2 1678.4 895.2 1680.8 894.1 1683.3 892.9 1686 891.6 1688.7 890.3 1691.6 888.8 1694.4 886.9 1697.3 884.9 1700.4 882.9 1703.5 880.7 1706.6 878.5 1709.8 876.3 1713.1 874.1 1716.5 871.9 1719.9 869.7 1723.3 867.5 1726.6 865 1730.2 862.4 1734 859.7 1737.9 857 1741.9 854.2 1746 851.4 1750.1 848.6 1754.2 845.8 1758.4 842.9 1762.4 840.2 1766.4 837.3 1770.3 834.6 1774.2 831.8 1778.2 829 1782.2 826.2 1786.2 823.4 1790.2 820.6 1794.1 817.8 1798 815.1 1801.9 812.3 1805.7 809.4 1809.7 806.4 1813.9 803.3 1817.9 800.2 1821.9 797.2 1825.7 794.3 1829.2 791.7 1832.3 789.3 1834.9 787.2 1836.9 785.6Z" fill="#fecd79"/><circle cx="1826" cy="770" r="19" fill="#fecd79"/><circle cx="1662" cy="890" r="11" fill="#fecd79"/>
<path d="M268.9 870.7 269.3 872.7 269.7 875.3 270.4 878.8 271.3 882.9 272.3 887.4 273.6 892.4 275.2 897.6 277.1 902.9 279.3 908.4 282 913.8 284.8 918.7 287.8 923.4 291 928 294.3 932.5 297.8 937 301.3 941.4 305 945.7 308.7 950 312.5 954.3 316.3 958.6 320.7 962.7 325.3 966.9 330 971.1 334.8 975.2 339.7 979.3 344.6 983.4 349.5 987.4 354.4 991.3 359.2 995.1 363.9 998.9 368.8 1002.6 373.7 1006.4 378.6 1010.1 383.6 1013.8 388.5 1017.4 393.4 1021 398.3 1024.4 403 1027.8 407.6 1031 412.1 1034.1 416.6 1037 421.1 1039.8 425.4 1042.5 429.6 1045 433.7 1047.4 437.7 1049.7 441.6 1051.9 445.4 1054.1 449 1056.1 452.6 1058.1 456.2 1060.1 459.7 1061.9 463 1063.5 466.2 1065.1 469.3 1066.6 472.3 1068 475.2 1069.4 478 1070.8 480.7 1072.2 483.4 1073.6 486.3 1074.9 489.3 1076.5 492.4 1078.1 495.5 1079.8 498.5 1081.5 501.4 1083 504.1 1084.5 506.6 1085.8 508.8 1086.8 510.6 1087.5 519.4 1076.5 518.4 1075 517 1073.1 515.3 1070.9 513.3 1068.5 511.1 1065.9 508.7 1063.2 506.2 1060.5 503.7 1057.7 501.1 1055 498.6 1052.4 496 1050.1 493.3 1047.8 490.7 1045.6 488.1 1043.5 485.4 1041.3 482.8 1039.1 480 1036.9 477.3 1034.6 474.4 1032.3 471.4 1029.9 468.2 1027.3 464.8 1024.7 461.4 1022.1 457.9 1019.4 454.4 1016.7 450.8 1013.9 447.1 1011.1 443.4 1008.1 439.7 1005.1 435.9 1001.9 431.8 998.6 427.6 995.2 423.2 991.7 418.8 988 414.4 984.3 409.8 980.5 405.3 976.7 400.9 972.8 396.4 969 392.1 965.1 387.6 961.2 383.1 957.2 378.6 953.2 374.1 949.1 369.7 945.1 365.3 941 361.1 937 357.1 933.1 353.3 929.2 349.7 925.4 345.8 921.8 342 918.2 338.3 914.7 334.7 911.2 331.4 907.8 328.2 904.5 325.3 901.2 322.6 898 320.1 895 318 892.2 316.2 889.5 314.4 886.5 312.7 883.1 311.1 879.4 309.5 875.7 308.1 872 306.7 868.4 305.5 865 304.2 861.8 303.1 859.3Z" fill="#fecd79"/><circle cx="286" cy="865" r="18" fill="#fecd79"/><circle cx="515" cy="1082" r="7" fill="#fecd79"/>
<path d="M576.4 1140.1 578.6 1141.2 581.5 1142.7 585.1 1144.4 589.1 1146.3 593.5 1148.4 598.2 1150.5 603.1 1152.7 608.1 1154.9 613.1 1156.9 617.9 1158.8 622.4 1160.4 626.7 1161.9 630.9 1163.3 635.2 1164.7 639.5 1166 644.2 1167.4 649.1 1168.8 654.4 1170.2 660.2 1171.7 666.6 1173.4 673.8 1175 681.6 1176.8 690.1 1178.7 699 1180.7 708.4 1182.8 718 1184.9 727.7 1186.8 737.5 1188.7 747.3 1190.3 756.8 1191.8 766.2 1192.8 775.8 1193.8 785.4 1194.5 794.9 1195.1 804.4 1195.6 813.7 1196 822.8 1196.4 831.6 1196.6 840.1 1196.8 848.1 1197 856 1196.6 863.8 1196.2 871.4 1195.6 878.9 1195 886 1194.4 892.8 1193.6 899.3 1192.8 905.3 1191.9 910.9 1191 916.1 1190 920.9 1188.7 925.2 1187.3 929 1185.8 932.2 1184.1 935 1182.4 937.2 1180.7 939 1179.2 940.3 1177.8 941.1 1176.7 942 1175.7 938 1164.3 936.3 1164.2 934.3 1164.3 932.3 1164.4 930.3 1164.5 928.3 1164.6 926.1 1164.6 923.6 1164.6 920.8 1164.5 917.7 1164.4 913.9 1164 909.4 1163.6 904.3 1163.2 898.6 1162.6 892.5 1162 886 1161.4 879.2 1160.6 872.1 1159.8 864.8 1159 857.4 1158 849.9 1157 842 1156.5 833.7 1155.9 825.1 1155.2 816.3 1154.5 807.3 1153.7 798.3 1152.9 789.3 1151.9 780.4 1150.8 771.7 1149.6 763.2 1148.2 754.7 1146.8 745.8 1145.1 736.7 1143.2 727.5 1141.1 718.4 1138.9 709.4 1136.7 700.7 1134.6 692.3 1132.4 684.5 1130.4 677.4 1128.6 671 1127.2 665.4 1125.9 660.3 1124.8 655.8 1123.7 651.6 1122.7 647.6 1121.6 643.8 1120.6 640 1119.5 636.1 1118.4 632.1 1117.2 627.9 1115.9 623.4 1114.5 618.8 1112.9 614.2 1111.3 609.6 1109.6 605.2 1108 601.1 1106.5 597.4 1105.1 594.2 1103.9 591.6 1103.1Z" fill="#fecd79"/><circle cx="584" cy="1121.6" r="20" fill="#fecd79"/><circle cx="940" cy="1170" r="6" fill="#fecd79"/>
<path d="M898.7 1118.8 902 1119.7 906.3 1121 911.3 1122.5 916.9 1124.3 922.9 1126.2 929.2 1128.2 935.6 1130.2 941.8 1132.2 947.8 1134.1 953.3 1135.8 958.6 1137.6 964 1139.4 969.4 1141.2 974.7 1143 980 1144.7 985.1 1146.5 990 1148.1 994.7 1149.7 999.1 1151.3 1003.1 1152.7 1006.9 1154.1 1010.5 1155.5 1014 1156.9 1017.4 1158.2 1020.6 1159.5 1023.5 1160.7 1026.2 1161.9 1028.7 1162.9 1030.9 1163.8 1032.7 1164.5 1047.3 1131.5 1045.7 1130.7 1043.8 1129.7 1041.4 1128.6 1038.7 1127.2 1035.7 1125.7 1032.4 1124.2 1028.8 1122.5 1025 1120.8 1021 1119 1016.9 1117.3 1012.6 1115.5 1008 1113.7 1003.2 1111.9 998.2 1109.9 993 1108 987.8 1106 982.5 1104.1 977.2 1102.1 971.9 1100.1 966.7 1098.2 961.3 1096 955.4 1093.7 949.2 1091.3 943 1088.9 936.8 1086.6 930.9 1084.3 925.4 1082.1 920.6 1080.2 916.5 1078.6 913.3 1077.2Z" fill="#fecd79"/><circle cx="906" cy="1098" r="22" fill="#fecd79"/><circle cx="1040" cy="1148" r="18" fill="#fecd79"/>
<path d="M1031.8 1139.8 1029.5 1141.9 1026.7 1144.7 1023.4 1148 1019.7 1151.7 1015.7 1155.8 1011.6 1160 1007.3 1164.3 1003.1 1168.5 999.1 1172.6 995.3 1176.4 991.7 1180.2 988.1 1183.9 984.5 1187.7 980.8 1191.5 977.1 1195.3 973.5 1199.1 969.9 1202.9 966.3 1206.6 962.8 1210.3 959.4 1213.9 956.2 1217.6 953 1221.4 949.7 1225.1 946.5 1228.9 943.4 1232.5 940.4 1236.1 937.4 1239.6 934.7 1243 932 1246.2 929.6 1249.2 927.6 1252.4 925.7 1255.4 923.9 1258.3 922.4 1261 921 1263.6 919.9 1265.9 918.9 1268 918.1 1269.8 917.5 1271.3 917.1 1272.5 942.9 1291.5 944.1 1290.5 945.5 1289.2 947 1287.8 948.5 1286.3 950.2 1284.7 952 1282.9 953.9 1281 955.9 1279 958.1 1276.9 960.4 1274.8 962.7 1272.2 965.3 1269.3 968 1266.3 971 1263.1 974.1 1259.7 977.3 1256.3 980.6 1252.7 983.9 1249.2 987.3 1245.6 990.6 1242.1 993.8 1238.4 997 1234.7 1000.4 1230.9 1003.8 1227.1 1007.2 1223.2 1010.7 1219.3 1014.2 1215.3 1017.7 1211.4 1021.2 1207.5 1024.7 1203.6 1028.2 1199.4 1032 1195.1 1035.9 1190.5 1039.8 1186 1043.7 1181.5 1047.3 1177.2 1050.8 1173.2 1053.8 1169.6 1056.3 1166.6 1058.2 1164.2Z" fill="#fecd79"/><circle cx="1045" cy="1152" r="18" fill="#fecd79"/><circle cx="930" cy="1282" r="16" fill="#fecd79"/>
</g><g style="mix-blend-mode:multiply">
<path d="M303 708C309.2 701 325.7 682.2 340 666C354.3 649.8 375.5 624.4 388.8 611C402.1 597.6 408 595.2 420 585.5C432 575.8 447.2 562.9 460.8 552.9C474.4 542.9 488 534.3 501.6 525.7C515.2 517.1 528.8 509.4 542.4 501.2C556 493 572.8 482.6 583.2 476.7C593.6 470.8 601.4 467.8 605 466" fill="none" stroke="#c2c2c4" stroke-width="14" stroke-linecap="round" stroke-linejoin="round" style="mix-blend-mode:multiply"/>
<path d="M605 466C608.3 464.7 618.3 460.5 625 458C631.7 455.5 638.2 453.2 645 451C651.8 448.8 656.8 447.7 666 445C675.2 442.3 688.2 438 700 435C711.8 432 721 430.2 737 427C753 423.8 776.3 420 796 416C815.7 412 838.5 406 855 403C871.5 400 880.5 399.5 895 398C909.5 396.5 924 394 942 394C960 394 992.8 397.3 1003 398" fill="none" stroke="#c2c2c4" stroke-width="13" stroke-linecap="round" stroke-linejoin="round" style="mix-blend-mode:multiply"/>
<path d="M955 359C960.8 362.8 978.8 374.8 990 382C1001.2 389.2 1022 395.7 1022 402C1022 408.3 1000.5 414.2 990 420C979.5 425.8 964.2 434.2 959 437" fill="none" stroke="#c2c2c4" stroke-width="12" stroke-linecap="round" stroke-linejoin="round" style="mix-blend-mode:multiply"/>
<path d="M409 791C415.8 790.7 433.7 789.8 450 789C466.3 788.2 490.3 787 507 786C523.7 785 537.8 783.8 550 783C562.2 782.2 569 780.7 580 781C591 781.3 610 784.3 616 785" fill="none" stroke="#c2c2c4" stroke-width="13" stroke-linecap="round" stroke-linejoin="round" style="mix-blend-mode:multiply"/>
<path d="M589 757C594.2 759.5 610.7 767.3 620 772C629.3 776.7 644.7 779.8 645 785C645.3 790.2 629.3 797 622 803C614.7 809 604.5 818 601 821" fill="none" stroke="#c2c2c4" stroke-width="13" stroke-linecap="round" stroke-linejoin="round" style="mix-blend-mode:multiply"/>
<path d="M961 786C967.5 785.8 985.2 785.5 1000 785C1014.8 784.5 1033.3 783.8 1050 783C1066.7 782.2 1085 781.2 1100 780C1115 778.8 1127.2 777.5 1140 776C1152.8 774.5 1170.8 771.8 1177 771" fill="none" stroke="#c2c2c4" stroke-width="14" stroke-linecap="round" stroke-linejoin="round" style="mix-blend-mode:multiply"/>
<path d="M1152 753C1154.5 754.7 1162 759.7 1167 763C1172 766.3 1182.3 767.7 1182 773C1181.7 778.3 1170.8 787.8 1165 795C1159.2 802.2 1150 812.5 1147 816" fill="none" stroke="#c2c2c4" stroke-width="12" stroke-linecap="round" stroke-linejoin="round" style="mix-blend-mode:multiply"/>
<path d="M1410.7 454C1410.9 465 1411.5 500.7 1412 520C1412.5 539.3 1413.3 557.2 1414 570C1414.7 582.8 1415.5 587.8 1416.3 597C1417.1 606.2 1418 616.7 1419 625C1420 633.3 1421.5 643.3 1422 647" fill="none" stroke="#c2c2c4" stroke-width="12" stroke-linecap="round" stroke-linejoin="round" style="mix-blend-mode:multiply"/>
<path d="M1405 562C1405.8 566.7 1407.8 577.7 1410 590C1412.2 602.3 1416.7 628.3 1418 636" fill="none" stroke="#c2c2c4" stroke-width="9" stroke-linecap="round" stroke-linejoin="round" style="mix-blend-mode:multiply"/>
<path d="M1374 613C1377.7 617.8 1388.8 632.7 1396 642C1403.2 651.3 1410.2 668.5 1417 669C1423.8 669.5 1430.5 653.2 1437 645C1443.5 636.8 1452.8 624.2 1456 620" fill="none" stroke="#c2c2c4" stroke-width="15" stroke-linecap="round" stroke-linejoin="round" style="mix-blend-mode:multiply"/>
<path d="M1430 1110C1429.5 1100 1428.5 1068.3 1427 1050C1425.5 1031.7 1422.8 1015 1421 1000C1419.2 985 1417 971.7 1416 960C1415 948.3 1414.8 939.2 1415 930C1415.2 920.8 1416.2 912.3 1417 905C1417.8 897.7 1419.5 889.2 1420 886" fill="none" stroke="#c2c2c4" stroke-width="13" stroke-linecap="round" stroke-linejoin="round" style="mix-blend-mode:multiply"/>
<path d="M1381 952C1384.2 945.8 1393.7 926.3 1400 915C1406.3 903.7 1409.8 884.5 1419 884C1428.2 883.5 1443 902.2 1455 912C1467 921.8 1485 937.8 1491 943" fill="none" stroke="#c2c2c4" stroke-width="15" stroke-linecap="round" stroke-linejoin="round" style="mix-blend-mode:multiply"/>
<path d="M1656 776C1663.3 775.7 1684 775 1700 774C1716 773 1735.8 772.2 1752 770C1768.2 767.8 1789.5 762.5 1797 761" fill="none" stroke="#c2c2c4" stroke-width="14" stroke-linecap="round" stroke-linejoin="round" style="mix-blend-mode:multiply"/>
<path d="M1767 745C1770.8 747.2 1782.7 753.5 1790 758C1797.3 762.5 1811 766.7 1811 772C1811 777.3 1798.2 784.2 1790 790C1781.8 795.8 1766.7 804.2 1762 807" fill="none" stroke="#c2c2c4" stroke-width="15" stroke-linecap="round" stroke-linejoin="round" style="mix-blend-mode:multiply"/>
<path d="M301 881C304 885.5 310.3 897.5 319 908C327.7 918.5 339.7 931.2 353 944C366.3 956.8 383.8 972.2 399 985C414.2 997.8 429 1008.8 444 1021C459 1033.2 472.8 1046.2 489 1058C505.2 1069.8 532.3 1086.3 541 1092" fill="none" stroke="#c2c2c4" stroke-width="12.5" stroke-linecap="round" stroke-linejoin="round" style="mix-blend-mode:multiply"/>
<path d="M505 1087C510.8 1088.8 529.3 1094 540 1098C550.7 1102 555.7 1106.2 569 1111C582.3 1115.8 602.8 1122.3 620 1127C637.2 1131.7 648.7 1134 672 1139C695.3 1144 730.5 1151.8 760 1157C789.5 1162.2 824 1167.3 849 1170C874 1172.7 892 1172.7 910 1173C928 1173.3 949.2 1172.2 957 1172" fill="none" stroke="#c2c2c4" stroke-width="13" stroke-linecap="round" stroke-linejoin="round" style="mix-blend-mode:multiply"/>
<path d="M937 1166C942.5 1165 959 1161.8 970 1160C981 1158.2 997.5 1155.8 1003 1155" fill="none" stroke="#c2c2c4" stroke-width="11" stroke-linecap="round" stroke-linejoin="round" style="mix-blend-mode:multiply"/>
<path d="M937 1129C942.5 1131.7 958.3 1140 970 1145C981.7 1150 1005.3 1152.3 1007 1159C1008.7 1165.7 989.5 1176.5 980 1185C970.5 1193.5 955 1205.8 950 1210" fill="none" stroke="#c2c2c4" stroke-width="13" stroke-linecap="round" stroke-linejoin="round" style="mix-blend-mode:multiply"/>
</g><g>
<path d="M175.5 710C175.2 714.8 174.2 727.7 173.6 739C172.9 750.3 171.6 767.3 171.6 778C171.6 788.7 172.3 797.5 173.6 803C174.9 808.5 177.3 810.2 179.5 811C181.7 811.8 185.1 809.3 187 808C188.9 806.7 190.3 803.8 191 803" fill="none" stroke="#0b0b0b" stroke-width="12" stroke-linecap="round" stroke-linejoin="round"/>
<path d="M161.8 767C164.8 766.3 173.8 765.1 179.5 762.8C185.2 760.5 193.2 754.6 196 753" fill="none" stroke="#0b0b0b" stroke-width="11" stroke-linecap="round" stroke-linejoin="round"/>
<ellipse cx="206" cy="786" rx="10" ry="23.5" fill="none" stroke="#0b0b0b" stroke-width="10.5"/>
<path d="M233 780C235.2 779.5 242.7 778.7 246 777C249.3 775.3 252.3 772.3 253 770C253.7 767.7 251.8 764.5 250 763C248.2 761.5 244.8 760.8 242 761C239.2 761.2 235.7 761.5 233 764C230.3 766.5 227.3 770.8 226 776C224.7 781.2 224.2 789.3 225 795C225.8 800.7 228 806.7 231 810C234 813.3 239.2 814.8 243 815C246.8 815.2 251.3 812.3 254 811C256.7 809.7 258.2 807.7 259 807" fill="none" stroke="#0b0b0b" stroke-width="11.5" stroke-linecap="round" stroke-linejoin="round"/>
<path d="M262.9 763.8C263.5 769.5 265.4 789.2 266.8 798.2C268.2 807.2 269.7 819.4 271.5 817.8C273.3 816.2 275.4 798.9 277.6 788.4C279.8 777.9 283.4 760.6 284.5 755" fill="none" stroke="#0b0b0b" stroke-width="12" stroke-linecap="round" stroke-linejoin="round"/>
<path d="M297.3 768.7C298.1 767.4 299.6 762.8 302 761C304.4 759.2 309.2 757.5 312 758C314.8 758.5 317.4 760.4 318.9 763.8C320.4 767.2 320.1 772.8 320.8 778.5C321.5 784.2 321.8 791.7 322.8 798.2C323.8 804.8 326.1 814.5 326.7 817.8" fill="none" stroke="#0b0b0b" stroke-width="12" stroke-linecap="round" stroke-linejoin="round"/>
<path d="M319.8 786.4C318 786.2 312.8 784.2 309 785.4C305.2 786.5 300.4 789.9 297.3 793.3C294.2 796.7 291.1 802.2 290.4 806C289.7 809.8 291.2 814.2 293.3 815.8C295.4 817.4 299.6 817.4 303.2 815.8C306.8 814.2 312.2 809.8 315 806C317.8 802.2 319 795.4 319.8 793.3" fill="none" stroke="#0b0b0b" stroke-width="11" stroke-linecap="round" stroke-linejoin="round"/>
<path d="M346.3 725.5C345.6 729.4 343.7 738.5 342.4 749C341.1 759.5 339 777.7 338.5 788.4C338 799.1 338.2 807.3 339.5 813C340.8 818.7 343.5 821.4 346.3 822.7C349.1 824 354.6 821.1 356.2 820.8" fill="none" stroke="#0b0b0b" stroke-width="12" stroke-linecap="round" stroke-linejoin="round"/>
<path d="M739.1 741.5C739.1 737.8 740.1 724.9 739.1 719.3C738.1 713.6 735.6 709.8 733.2 707.6C730.9 705.5 728.7 704.5 725 706.4C721.3 708.3 715.7 713.2 711 719.3C706.3 725.3 700.7 733.9 697 742.7C693.3 751.5 689.9 762.2 688.7 772C687.5 781.8 688.1 793 689.9 801.2C691.7 809.4 695.4 816.4 699.3 821.1C703.2 825.8 709 829.3 713.3 829.3C717.6 829.3 721.5 825.8 725 821.1C728.5 816.4 731.9 808.2 734.4 801.2C736.9 794.2 739.2 783.9 740.2 779C741.2 774.1 740.2 773.2 740.2 772" fill="none" stroke="#0b0b0b" stroke-width="13" stroke-linecap="round" stroke-linejoin="round"/>
<path d="M716.8 773.1C720.7 772.9 736.3 772.2 740.2 772" fill="none" stroke="#0b0b0b" stroke-width="13" stroke-linecap="round" stroke-linejoin="round"/>
<path d="M756.6 828.2C757.4 818.8 759.3 791.5 761.3 772C763.2 752.5 767.1 721.2 768.3 711" fill="none" stroke="#0b0b0b" stroke-width="13" stroke-linecap="round" stroke-linejoin="round"/>
<path d="M768.3 711C770.6 718.2 776.3 735.1 782.4 754.4C788.5 773.7 800.9 814.9 804.6 827" fill="none" stroke="#0b0b0b" stroke-width="13" stroke-linecap="round" stroke-linejoin="round"/>
<path d="M767.2 793C770.1 791.8 781.8 787.2 784.7 786" fill="none" stroke="#0b0b0b" stroke-width="13" stroke-linecap="round" stroke-linejoin="round"/>
<path d="M805.8 711L816.4 760.3L831.6 828.2" fill="none" stroke="#0b0b0b" stroke-width="13" stroke-linecap="round" stroke-linejoin="round"/>
<path d="M831.6 828.2C833.9 818.8 841.3 791.5 845.6 772C849.9 752.5 855.3 721.2 857.3 711" fill="none" stroke="#0b0b0b" stroke-width="13" stroke-linecap="round" stroke-linejoin="round"/>
<path d="M914.7 702.9L881.9 706.4" fill="none" stroke="#0b0b0b" stroke-width="13" stroke-linecap="round" stroke-linejoin="round"/>
<path d="M881.9 706.4C881.5 715.4 880.2 740.6 879.6 760.3C879 780 878.6 813.9 878.4 824.6" fill="none" stroke="#0b0b0b" stroke-width="13" stroke-linecap="round" stroke-linejoin="round"/>
<path d="M878.4 824.6L914.7 820" fill="none" stroke="#0b0b0b" stroke-width="13" stroke-linecap="round" stroke-linejoin="round"/>
<path d="M886.6 774.3C889.1 773.9 899.3 772.4 901.8 772" fill="none" stroke="#0b0b0b" stroke-width="13" stroke-linecap="round" stroke-linejoin="round"/>
<path d="M1836.3 706.7C1841.1 705.8 1855.5 703.1 1865 701.5C1874.5 699.9 1888.7 697.7 1893.4 696.9" fill="none" stroke="#0b0b0b" stroke-width="17" stroke-linecap="round" stroke-linejoin="round"/>
<path d="M1867.3 710.8C1866.6 719 1864.4 744.5 1863 760C1861.6 775.5 1859.7 796.4 1859 803.7" fill="none" stroke="#0b0b0b" stroke-width="17" stroke-linecap="round" stroke-linejoin="round"/>
<path d="M1893.4 807L1914.6 691.2L1945.6 807" fill="none" stroke="#0b0b0b" stroke-width="17" stroke-linecap="round" stroke-linejoin="round"/>
<path d="M1908 785.8C1911.8 785.5 1927.2 784.4 1931 784.1" fill="none" stroke="#0b0b0b" stroke-width="17" stroke-linecap="round" stroke-linejoin="round"/>
<path d="M1968.4 696L1966.7 751.5L1970 807L2002.6 805.3" fill="none" stroke="#0b0b0b" stroke-width="17" stroke-linecap="round" stroke-linejoin="round"/>
<path d="M2059.7 696L2025.4 696.9L2023.8 751.5L2023.8 810.2L2066.2 807" fill="none" stroke="#0b0b0b" stroke-width="17" stroke-linecap="round" stroke-linejoin="round"/>
<path d="M2028.7 758.9C2032.2 758.8 2046.5 758.1 2050 758" fill="none" stroke="#0b0b0b" stroke-width="17" stroke-linecap="round" stroke-linejoin="round"/>
<path d="M2090.7 805.3L2087.4 710.8L2138 800.4L2139.6 751.5L2139.6 697.7" fill="none" stroke="#0b0b0b" stroke-width="17" stroke-linecap="round" stroke-linejoin="round"/>
<path d="M2164 704.2C2168.7 703.5 2182.5 701.4 2192 700C2201.5 698.6 2216.2 696.7 2221 696" fill="none" stroke="#0b0b0b" stroke-width="17" stroke-linecap="round" stroke-linejoin="round"/>
<path d="M2191.8 707.5C2191.7 716.2 2191.3 744 2191 760C2190.7 776 2190.2 796.4 2190 803.7" fill="none" stroke="#0b0b0b" stroke-width="17" stroke-linecap="round" stroke-linejoin="round"/>
<path d="M1242.9 711.4C1242.2 716.8 1239 732.9 1238.4 743.6C1237.8 754.3 1238 768.4 1239.3 775.7C1240.6 783 1243.1 785.1 1246.4 787.3C1249.7 789.5 1255.7 789.1 1259 789C1262.3 788.9 1264.8 786.8 1266 786.4" fill="none" stroke="#0b0b0b" stroke-width="12.5" stroke-linecap="round" stroke-linejoin="round"/>
<path d="M1275 763.2C1278 762.6 1288.7 761.7 1292.9 759.6C1297.1 757.5 1300 753.4 1300 750.7C1300 748 1296.5 744.5 1292.9 743.6C1289.3 742.7 1282.5 742.4 1278.6 745.4C1274.7 748.4 1270.8 755.8 1269.6 761.4C1268.4 767 1269.3 775.1 1271.4 779.3C1273.5 783.5 1278.1 785.2 1282 786.4C1285.9 787.6 1291.6 787 1294.6 786.4C1297.6 785.8 1299.1 783.5 1300 782.9" fill="none" stroke="#0b0b0b" stroke-width="12.5" stroke-linecap="round" stroke-linejoin="round"/>
<path d="M1314.3 763.2C1317 762.3 1326.8 760.3 1330.4 757.9C1334 755.5 1336.3 751.5 1335.7 749C1335.1 746.5 1330.4 743 1326.8 742.7C1323.2 742.4 1317.6 743.3 1314.3 747C1311 750.7 1307.3 759 1307 765C1306.7 771 1308.9 779.3 1312.5 782.9C1316.1 786.5 1323.8 786.1 1328.6 786.4C1333.3 786.7 1338.9 784.9 1341 784.6" fill="none" stroke="#0b0b0b" stroke-width="12.5" stroke-linecap="round" stroke-linejoin="round"/>
<path d="M1357 793.6C1356.4 788.8 1354.5 772.4 1353.6 765C1352.7 757.6 1352.1 751.7 1351.8 749" fill="none" stroke="#0b0b0b" stroke-width="12.5" stroke-linecap="round" stroke-linejoin="round"/>
<path d="M1353.6 757.9C1355.4 756.1 1360.7 748.2 1364.3 747C1367.9 745.8 1373.2 750.1 1375 750.7" fill="none" stroke="#0b0b0b" stroke-width="12.5" stroke-linecap="round" stroke-linejoin="round"/>
<path d="M1392.9 745.4C1393.5 752.5 1395.2 774.2 1396.4 788.2C1397.6 802.2 1399.4 822.4 1400 829.3" fill="none" stroke="#0b0b0b" stroke-width="12.5" stroke-linecap="round" stroke-linejoin="round"/>
<path d="M1394.6 749C1397.3 748.1 1406.2 743.6 1410.7 743.6C1415.2 743.6 1419.3 745.4 1421.4 749C1423.5 752.6 1424.4 760.2 1423.2 765C1422 769.8 1418.2 774.8 1414.3 777.5C1410.4 780.2 1402.4 780.4 1400 781" fill="none" stroke="#0b0b0b" stroke-width="12.5" stroke-linecap="round" stroke-linejoin="round"/>
<path d="M1437.5 791.8C1436.3 786.7 1431.9 767.9 1430.4 761.4C1428.9 754.9 1428.9 754 1428.6 752.5" fill="none" stroke="#0b0b0b" stroke-width="12.5" stroke-linecap="round" stroke-linejoin="round"/>
<path d="M1430.4 757.9C1432.2 755.8 1437.4 747.8 1441 745.4C1444.6 743 1450 743.9 1451.8 743.6" fill="none" stroke="#0b0b0b" stroke-width="12.5" stroke-linecap="round" stroke-linejoin="round"/>
<ellipse cx="1475" cy="768.5" rx="11.5" ry="20.4" fill="none" stroke="#0b0b0b" stroke-width="12.5"/>
<path d="M1516 749C1513.9 748.7 1506.9 745.5 1503.6 747C1500.3 748.5 1497.9 753.1 1496.4 757.9C1494.9 762.7 1494 770.7 1494.6 775.7C1495.2 780.8 1496.7 785.5 1500 788.2C1503.3 790.9 1509.2 791.5 1514.3 791.8C1519.4 792.1 1527.7 790.3 1530.4 790" fill="none" stroke="#0b0b0b" stroke-width="12.5" stroke-linecap="round" stroke-linejoin="round"/>
<path d="M1528.6 768.6C1531 767.7 1539.3 765.6 1542.9 763.2C1546.5 760.8 1550 757 1550 754.3C1550 751.6 1546.2 747.6 1542.9 747C1539.6 746.4 1534 747.7 1530.4 750.7C1526.8 753.7 1522.6 760 1521.4 765C1520.2 770 1521.1 776.8 1523.2 781C1525.3 785.2 1529.5 788.5 1534 790C1538.5 791.5 1545 790.6 1550 790C1555 789.4 1561.9 787 1564.3 786.4" fill="none" stroke="#0b0b0b" stroke-width="12.5" stroke-linecap="round" stroke-linejoin="round"/>
<path d="M1580.4 749C1578.3 749 1571.2 747.5 1567.9 749C1564.6 750.5 1561.3 755.2 1560.7 757.9C1560.1 760.6 1561.3 763.2 1564.3 765C1567.3 766.8 1573.8 767.1 1578.6 768.6C1583.4 770.1 1589.9 771.6 1592.9 774C1595.9 776.4 1597 779.9 1596.4 782.9C1595.8 785.9 1592.9 789.7 1589.3 791.8C1585.7 793.9 1578.3 795.1 1575 795.4C1571.7 795.7 1570.5 793.9 1569.6 793.6" fill="none" stroke="#0b0b0b" stroke-width="12.5" stroke-linecap="round" stroke-linejoin="round"/>
<path d="M1141 259.8l0.1 0" fill="none" stroke="#0b0b0b" stroke-width="14" stroke-linecap="round" stroke-linejoin="round"/>
<path d="M1140.1 279.7C1140.6 282.8 1141.9 292 1143 298C1144.1 304 1146.1 312.6 1146.7 315.5" fill="none" stroke="#0b0b0b" stroke-width="12.5" stroke-linecap="round" stroke-linejoin="round"/>
<path d="M1166.5 317.4C1165.8 313.7 1163.1 301.6 1162 295C1160.9 288.4 1160.3 280.7 1160 277.8" fill="none" stroke="#0b0b0b" stroke-width="12.5" stroke-linecap="round" stroke-linejoin="round"/>
<path d="M1162.8 280C1164.7 278.1 1170.5 268.7 1174 268.3C1177.5 267.9 1181 273.1 1183.5 277.8C1186 282.5 1187.8 289.9 1189.2 296.7C1190.6 303.5 1191.5 314.8 1192 318.4" fill="none" stroke="#0b0b0b" stroke-width="12.5" stroke-linecap="round" stroke-linejoin="round"/>
<path d="M1204.3 251.3C1204 255.7 1202.6 268.7 1202.4 277.8C1202.2 286.9 1202.1 298.1 1203.4 306C1204.7 313.9 1207.3 321.5 1210 325C1212.7 328.5 1216.2 327.4 1219.4 326.9C1222.6 326.4 1227.3 323 1228.9 322.2" fill="none" stroke="#0b0b0b" stroke-width="12.5" stroke-linecap="round" stroke-linejoin="round"/>
<path d="M1205 283.5C1207.4 282.4 1215 278.6 1219.4 277C1223.9 275.4 1229.7 274.5 1231.7 274" fill="none" stroke="#0b0b0b" stroke-width="11" stroke-linecap="round" stroke-linejoin="round"/>
<path d="M1245 323C1243.8 319.2 1239.8 306.3 1238 300C1236.2 293.7 1235.1 287.8 1234.5 285.3" fill="none" stroke="#0b0b0b" stroke-width="12.5" stroke-linecap="round" stroke-linejoin="round"/>
<path d="M1238.3 292.9C1239.9 290.7 1244.6 282.4 1247.8 279.7C1251 277 1254.8 277 1257.2 276.8C1259.6 276.6 1261.2 278.4 1262 278.7" fill="none" stroke="#0b0b0b" stroke-width="12.5" stroke-linecap="round" stroke-linejoin="round"/>
<path d="M1269.5 283.4C1270.6 282.5 1273.3 278.3 1276 277.8C1278.7 277.3 1283.4 278.2 1285.5 280.6C1287.6 283 1286.8 287 1288.4 292C1290 297 1292.7 304.8 1295 310.8C1297.3 316.8 1300.5 324.5 1302.5 327.8C1304.5 331.1 1306.2 330.1 1307 330.6" fill="none" stroke="#0b0b0b" stroke-width="12.5" stroke-linecap="round" stroke-linejoin="round"/>
<path d="M1287.4 296.7C1285.8 296.7 1281.5 294.3 1278 296.7C1274.5 299.1 1268.8 306.1 1266.6 310.8C1264.4 315.5 1263.8 322 1264.8 325C1265.8 328 1269.2 329.6 1272.3 328.8C1275.4 328 1280.4 324.4 1283.6 320.3C1286.8 316.2 1289.9 306.9 1291.2 304.2" fill="none" stroke="#0b0b0b" stroke-width="12.5" stroke-linecap="round" stroke-linejoin="round"/>
<path d="M1312 279.7C1312.8 286.1 1315.3 305.3 1317 318C1318.7 330.7 1321.5 349.7 1322.4 356" fill="none" stroke="#0b0b0b" stroke-width="12.5" stroke-linecap="round" stroke-linejoin="round"/>
<path d="M1313.9 275.9C1315.5 275.3 1320.2 271.8 1323.3 272.1C1326.4 272.4 1330.3 274.5 1332.7 277.8C1335.1 281.1 1338.3 286.5 1337.5 292C1336.7 297.5 1331 306.9 1328 310.8C1325 314.7 1320.9 314.7 1319.5 315.5" fill="none" stroke="#0b0b0b" stroke-width="12.5" stroke-linecap="round" stroke-linejoin="round"/>
<path d="M1352.7 301.4C1355.2 300 1364.5 295.7 1367.8 292.9C1371.1 290.1 1372.5 286.9 1372.5 284.4C1372.5 281.9 1370.2 278.9 1367.8 277.8C1365.4 276.7 1361.4 276.2 1358.3 277.8C1355.2 279.4 1351.1 282.5 1348.9 287.2C1346.7 291.9 1344.6 300.4 1345.1 306.1C1345.6 311.8 1349 318.5 1351.7 321.2C1354.4 323.9 1357.3 323.3 1361.2 322.2C1365.1 321.1 1371.7 317 1375.3 314.6C1378.9 312.2 1381.6 309.1 1382.9 308" fill="none" stroke="#0b0b0b" stroke-width="12.5" stroke-linecap="round" stroke-linejoin="round"/>
<path d="M1392.3 313.7C1391.4 309.3 1388 292.9 1386.7 287.2C1385.5 281.5 1385.1 280.9 1384.8 279.7" fill="none" stroke="#0b0b0b" stroke-width="12.5" stroke-linecap="round" stroke-linejoin="round"/>
<path d="M1388.5 283.4C1390.1 282.5 1394.7 278.6 1398 277.8C1401.3 277 1406.7 278.6 1408.4 278.7" fill="none" stroke="#0b0b0b" stroke-width="12.5" stroke-linecap="round" stroke-linejoin="round"/>
<path d="M1431 275.9C1429.1 276 1422.7 275.7 1419.7 276.8C1416.7 277.9 1413.9 279.8 1413.1 282.5C1412.3 285.2 1412.3 290.2 1415 292.9C1417.7 295.6 1425.6 296.4 1429.2 298.5C1432.8 300.6 1435.9 302.8 1436.7 305.2C1437.5 307.6 1436.3 311 1433.9 312.7C1431.5 314.4 1426 314.6 1422.5 315.5C1419 316.4 1414.7 317.9 1413.1 318.4" fill="none" stroke="#0b0b0b" stroke-width="12.5" stroke-linecap="round" stroke-linejoin="round"/>
<ellipse cx="1458.4" cy="298.5" rx="11.6" ry="14.5" fill="none" stroke="#0b0b0b" stroke-width="12.5"/>
<ellipse cx="1497.1" cy="296.2" rx="10.7" ry="16" fill="none" stroke="#0b0b0b" stroke-width="12.5"/>
<path d="M1528.3 312.4C1527.8 309.5 1526.1 301.1 1525 295C1523.9 288.9 1522.2 279.1 1521.7 275.9" fill="none" stroke="#0b0b0b" stroke-width="12.5" stroke-linecap="round" stroke-linejoin="round"/>
<path d="M1524 278C1524.9 277.1 1526.9 274.1 1529.4 272.8C1531.9 271.5 1535.9 269.2 1538.9 270C1541.9 270.8 1545.4 273.9 1547.4 277.5C1549.5 281.1 1550.6 286.7 1551.2 291.7C1551.8 296.7 1551.2 305 1551.2 307.7" fill="none" stroke="#0b0b0b" stroke-width="12.5" stroke-linecap="round" stroke-linejoin="round"/>
<path d="M1567.2 258.6C1566.6 262.5 1563.9 274.3 1563.4 282.2C1562.9 290.1 1563.1 299.5 1564.4 305.8C1565.7 312.1 1569.9 317.6 1571 320" fill="none" stroke="#0b0b0b" stroke-width="12.5" stroke-linecap="round" stroke-linejoin="round"/>
<path d="M1584.2 264l0.1 0" fill="none" stroke="#0b0b0b" stroke-width="13" stroke-linecap="round" stroke-linejoin="round"/>
<path d="M1582.3 282.2C1582.5 285.2 1583 294.2 1583.5 300C1584 305.8 1584.9 314.3 1585.2 317.2" fill="none" stroke="#0b0b0b" stroke-width="12.5" stroke-linecap="round" stroke-linejoin="round"/>
<path d="M1604 264.5l0.1 0" fill="none" stroke="#0b0b0b" stroke-width="13" stroke-linecap="round" stroke-linejoin="round"/>
<path d="M1601.2 281.3C1602.3 284.6 1606.5 294.7 1607.8 301.1C1609.1 307.6 1609.3 315 1608.8 320C1608.3 325 1606.9 328.5 1605 331.3C1603.1 334.1 1598.7 336.1 1597.4 337" fill="none" stroke="#0b0b0b" stroke-width="12.5" stroke-linecap="round" stroke-linejoin="round"/>
<path d="M1623 262.4C1623.5 266.5 1624.2 278.7 1625.8 287C1627.4 295.3 1631.3 308.2 1632.4 312.4" fill="none" stroke="#0b0b0b" stroke-width="12.5" stroke-linecap="round" stroke-linejoin="round"/>
<path d="M1654 270L1633.3 291.7L1664.5 312.4" fill="none" stroke="#0b0b0b" stroke-width="12.5" stroke-linecap="round" stroke-linejoin="round"/>
<path d="M1675.8 287.9C1677.8 287.8 1684.7 287.9 1688 287C1691.3 286.1 1694.6 284.2 1695.6 282.2C1696.5 280.1 1695.9 276.3 1693.7 274.7C1691.5 273.1 1686.2 271.9 1682.4 272.8C1678.6 273.7 1673.5 276.5 1671 280.3C1668.5 284.1 1667 290 1667.3 295.4C1667.6 300.8 1669.5 308.6 1673 312.4C1676.5 316.2 1682.8 318 1688 318C1693.2 318 1699 314.6 1704 312.4C1709 310.2 1715.9 306.1 1718.3 304.9" fill="none" stroke="#0b0b0b" stroke-width="12.5" stroke-linecap="round" stroke-linejoin="round"/>
<path d="M1301.5 362.4C1300.2 361.4 1296.5 357.6 1294 356.6C1291.5 355.6 1288.9 355.1 1286.6 356.6C1284.3 358.1 1281.3 361.5 1280 365.8C1278.7 370.1 1278.5 376.2 1279 382.4C1279.5 388.6 1281.4 396.2 1283.2 403.1C1285 410 1287.8 417.7 1290 423.9C1292.2 430.1 1295.1 436.8 1296.5 440.5C1297.9 444.2 1297.9 445.3 1298.2 446.3" fill="none" stroke="#0b0b0b" stroke-width="12" stroke-linecap="round" stroke-linejoin="round"/>
<path d="M1271.6 412.3C1273.8 411.6 1279.3 409.2 1285 408C1290.7 406.8 1302.2 405.3 1305.7 404.8" fill="none" stroke="#0b0b0b" stroke-width="11" stroke-linecap="round" stroke-linejoin="round"/>
<path d="M1317.3 386.5C1318.4 385.7 1321.7 382.2 1324 381.5C1326.3 380.8 1329.1 380.9 1331.4 382.4C1333.7 383.9 1336.3 387.2 1338 390.7C1339.7 394.1 1340 399 1341.4 403.1C1342.8 407.2 1345 412.8 1346.4 415.6C1347.8 418.4 1349.2 419.1 1349.7 419.8" fill="none" stroke="#0b0b0b" stroke-width="12.5" stroke-linecap="round" stroke-linejoin="round"/>
<path d="M1334.7 401.5C1333.6 401.5 1330.2 400.1 1328 401.5C1325.8 402.9 1322.5 406.4 1321.4 409.8C1320.3 413.2 1320.3 419.6 1321.4 422.2C1322.5 424.8 1325.8 426.3 1328 425.6C1330.2 424.9 1333 421.2 1334.7 418.1C1336.4 415.1 1337.5 409.1 1338 407.3" fill="none" stroke="#0b0b0b" stroke-width="12.5" stroke-linecap="round" stroke-linejoin="round"/>
<path d="M1371.3 385.7C1369.9 385.6 1365.5 384.1 1363 384.9C1360.5 385.7 1357.8 387.7 1356.3 390.7C1354.8 393.7 1353.5 398.6 1353.8 403.1C1354.1 407.7 1355.6 414.7 1358 418C1360.4 421.3 1364.4 422.7 1368 423C1371.6 423.3 1377.1 420.8 1379.6 419.8C1382.1 418.9 1382.4 417.7 1383 417.3" fill="none" stroke="#0b0b0b" stroke-width="12.5" stroke-linecap="round" stroke-linejoin="round"/>
<path d="M1382 370.7C1381.7 373.3 1380.2 380.4 1380.4 386.5C1380.6 392.6 1381.5 401.8 1383 407.3C1384.5 412.9 1386.7 416.9 1389.6 419.8C1392.5 422.7 1396.5 424.3 1400.4 424.7C1404.3 425.1 1410.7 422.6 1412.8 422.2" fill="none" stroke="#0b0b0b" stroke-width="12.5" stroke-linecap="round" stroke-linejoin="round"/>
<path d="M1388 391.5C1390.1 390.7 1395.9 388.3 1400.4 386.5C1404.9 384.7 1412.6 381.7 1415 380.7" fill="none" stroke="#0b0b0b" stroke-width="11" stroke-linecap="round" stroke-linejoin="round"/>
<ellipse cx="1430" cy="399" rx="13" ry="14.7" fill="none" stroke="#0b0b0b" stroke-width="12.5"/>
<path d="M1463 417.3C1461.9 413.6 1458.3 400.6 1456.5 394.8C1454.7 389 1453 384.5 1452.3 382.4" fill="none" stroke="#0b0b0b" stroke-width="12.5" stroke-linecap="round" stroke-linejoin="round"/>
<path d="M1453 386.5C1454.7 385.9 1459.4 384 1463 383.2C1466.6 382.4 1471.2 381.1 1474.8 381.5C1478.4 381.9 1483 385 1484.7 385.7" fill="none" stroke="#0b0b0b" stroke-width="12.5" stroke-linecap="round" stroke-linejoin="round"/>
<path d="M1493.9 402.3C1495.7 402.2 1502.1 402.5 1504.7 401.5C1507.3 400.5 1509.5 398.4 1509.6 396.5C1509.7 394.6 1507.8 390.9 1505.5 389.9C1503.2 388.9 1498.7 389.2 1495.5 390.7C1492.3 392.2 1488.1 395.6 1486.4 399C1484.7 402.4 1484.7 407.5 1485.5 411.4C1486.3 415.3 1488.4 419.6 1491.4 422.2C1494.5 424.8 1499.7 426.9 1503.8 427.2C1507.9 427.5 1513.4 424.9 1516.3 423.9C1519.2 422.9 1520.5 421.8 1521.3 421.4" fill="none" stroke="#0b0b0b" stroke-width="12.5" stroke-linecap="round" stroke-linejoin="round"/>
<path d="M1533.7 422.2C1532.7 417.6 1529.7 400.9 1527.9 394.8C1526.1 388.7 1523.8 387.2 1523 385.7" fill="none" stroke="#0b0b0b" stroke-width="12.5" stroke-linecap="round" stroke-linejoin="round"/>
<path d="M1527 392C1528.3 390.8 1531.9 387.3 1534.6 384.9C1537.2 382.5 1540 378.5 1542.9 377.4C1545.8 376.3 1549.2 376.7 1552 378.2C1554.8 379.7 1557.6 382.4 1559.5 386.5C1561.4 390.6 1562.6 397.6 1563.6 403.1C1564.6 408.7 1565 417 1565.3 419.8" fill="none" stroke="#0b0b0b" stroke-width="12.5" stroke-linecap="round" stroke-linejoin="round"/>
<path d="M1243.6 1135.6C1245.6 1136.4 1253.5 1137.3 1255.9 1140.7C1258.3 1144.1 1259.7 1151.1 1258 1156C1256.3 1160.9 1250.3 1167.5 1245.7 1170.2C1241.1 1172.9 1234.1 1173.8 1230.4 1172.3C1226.7 1170.8 1223.8 1165.4 1223.3 1161C1222.8 1156.6 1224.4 1150 1227.3 1145.8C1230.2 1141.6 1237.6 1137.2 1240.6 1135.6C1243.5 1134 1244.3 1135.9 1245 1136" fill="none" stroke="#0b0b0b" stroke-width="12.5" stroke-linecap="round" stroke-linejoin="round"/>
<path d="M1271.2 1168.2C1270.5 1165.3 1268 1156 1267 1150.9C1266 1145.8 1265.3 1139.8 1265 1137.6" fill="none" stroke="#0b0b0b" stroke-width="12.5" stroke-linecap="round" stroke-linejoin="round"/>
<path d="M1267 1140.7C1268.5 1139.5 1273.2 1134.5 1276.3 1133.5C1279.4 1132.5 1282.7 1132.5 1285.4 1134.6C1288.1 1136.6 1290.5 1139.7 1292.6 1145.8C1294.6 1151.9 1296.8 1167 1297.7 1171.3" fill="none" stroke="#0b0b0b" stroke-width="12.5" stroke-linecap="round" stroke-linejoin="round"/>
<path d="M1293.6 1147.8C1295 1146.3 1298.7 1140.5 1301.8 1138.6C1304.9 1136.7 1309 1135.4 1312 1136.6C1315 1137.8 1318.3 1142.2 1320 1145.8C1321.7 1149.4 1321.8 1153.6 1322.1 1158C1322.4 1162.4 1322.1 1169.9 1322.1 1172.3" fill="none" stroke="#0b0b0b" stroke-width="12.5" stroke-linecap="round" stroke-linejoin="round"/>
<path d="M1344.6 1138.6C1343.1 1139.4 1337.5 1140.8 1335.4 1143.7C1333.4 1146.6 1332 1151.9 1332.3 1156C1332.6 1160.1 1335.2 1166.2 1337.4 1168.2C1339.6 1170.2 1343.4 1170.6 1345.6 1168.2C1347.8 1165.8 1350 1158.6 1350.7 1154C1351.4 1149.4 1349.9 1142.9 1349.7 1140.7" fill="none" stroke="#0b0b0b" stroke-width="12.5" stroke-linecap="round" stroke-linejoin="round"/>
<path d="M1351.7 1140.7C1351.9 1144.1 1351.9 1154.7 1352.7 1161C1353.5 1167.3 1354.6 1173.3 1356.8 1178.4C1359 1183.5 1364.3 1186.9 1366 1191.7C1367.7 1196.5 1368.2 1201.9 1367 1207C1365.8 1212.1 1362 1219.5 1358.8 1222.2C1355.6 1224.9 1350.5 1225 1347.6 1223.3C1344.7 1221.6 1342 1216.4 1341.5 1212C1341 1207.6 1342.4 1201.7 1344.6 1196.8C1346.8 1191.9 1353.1 1184.9 1354.8 1182.5" fill="none" stroke="#0b0b0b" stroke-width="12.5" stroke-linecap="round" stroke-linejoin="round"/>
<path d="M1373.1 1158C1375.6 1157.3 1384.2 1155.7 1388.4 1154C1392.7 1152.3 1397.8 1150 1398.6 1147.8C1399.4 1145.6 1396.9 1142 1393.5 1140.7C1390.1 1139.4 1382.3 1138.5 1378.2 1139.7C1374.1 1140.9 1370.4 1143.4 1369 1147.8C1367.6 1152.2 1368.5 1160.6 1370 1166.2C1371.5 1171.8 1374.3 1178.6 1378.2 1181.5C1382.1 1184.4 1388.4 1184.3 1393.5 1183.5C1398.6 1182.7 1405.2 1178.3 1408.8 1176.4C1412.4 1174.5 1414 1172.7 1415 1172" fill="none" stroke="#0b0b0b" stroke-width="12.5" stroke-linecap="round" stroke-linejoin="round"/>
<path d="M1411.2 1145.8L1424.5 1179.4L1434.7 1136.6" fill="none" stroke="#0b0b0b" stroke-width="12.5" stroke-linecap="round" stroke-linejoin="round"/>
<path d="M1450 1122.3l0.1 0" fill="none" stroke="#0b0b0b" stroke-width="12" stroke-linecap="round" stroke-linejoin="round"/>
<path d="M1450 1144.8C1450.2 1147.8 1451 1157 1451.5 1163C1452 1169 1452.8 1177.6 1453 1180.5" fill="none" stroke="#0b0b0b" stroke-width="12.5" stroke-linecap="round" stroke-linejoin="round"/>
<path d="M1471.4 1141.7C1471.8 1144.8 1472.8 1154.4 1473.5 1160C1474.2 1165.6 1475.1 1172.8 1475.4 1175.4" fill="none" stroke="#0b0b0b" stroke-width="12.5" stroke-linecap="round" stroke-linejoin="round"/>
<path d="M1477.5 1156C1479 1153.1 1483.8 1141.3 1486.7 1138.6C1489.6 1135.9 1492.9 1136.8 1494.8 1139.7C1496.7 1142.6 1497.2 1148.5 1497.9 1156C1498.6 1163.5 1498.7 1179.8 1498.9 1184.5" fill="none" stroke="#0b0b0b" stroke-width="12.5" stroke-linecap="round" stroke-linejoin="round"/>
<path d="M1527.4 1135.6C1525.5 1136.9 1518.4 1139.5 1516.2 1143.7C1514 1147.9 1513.2 1155.5 1514.2 1161C1515.2 1166.5 1519.4 1174.9 1522.3 1176.4C1525.2 1178 1529.1 1174 1531.5 1170.3C1533.9 1166.6 1536.1 1159.1 1536.6 1154C1537.1 1148.9 1534.9 1142.1 1534.6 1139.7" fill="none" stroke="#0b0b0b" stroke-width="12.5" stroke-linecap="round" stroke-linejoin="round"/>
<path d="M1536.6 1145.8C1537.1 1150 1538.7 1164.8 1539.7 1171.3C1540.7 1177.8 1541.2 1180.2 1542.7 1184.5C1544.2 1188.8 1547.7 1192.2 1548.9 1196.8C1550.1 1201.4 1550.9 1206.9 1549.9 1212C1548.9 1217.1 1545.8 1223.2 1542.7 1227.3C1539.6 1231.4 1534.7 1236.5 1531.5 1236.5C1528.3 1236.5 1524.4 1231.4 1523.4 1227.3C1522.4 1223.2 1523.4 1217.4 1525.4 1212C1527.4 1206.6 1532.4 1199.6 1535.6 1194.7C1538.8 1189.8 1542.6 1185.4 1544.8 1182.5C1547 1179.6 1548.2 1178.2 1548.9 1177.4" fill="none" stroke="#0b0b0b" stroke-width="12.5" stroke-linecap="round" stroke-linejoin="round"/>
<path d="M1572.3 1143.7C1570.4 1144 1563.7 1143.8 1561 1145.8C1558.3 1147.8 1555.7 1153 1556 1156C1556.3 1159 1559.5 1162.1 1563.1 1164.1C1566.7 1166.1 1574.3 1166.3 1577.4 1168.2C1580.5 1170.1 1581.7 1172.9 1581.5 1175.4C1581.3 1178 1578.6 1182 1576.4 1183.5C1574.2 1185 1569.9 1184.8 1568.2 1184.5C1566.5 1184.2 1566.5 1182 1566.2 1181.5" fill="none" stroke="#0b0b0b" stroke-width="12.5" stroke-linecap="round" stroke-linejoin="round"/>
<path d="M1604 1165.2C1606 1165.2 1612.1 1165.2 1616 1165.2C1619.9 1165.2 1625.5 1165.2 1627.4 1165.2" fill="none" stroke="#0b0b0b" stroke-width="10" stroke-linecap="round" stroke-linejoin="round"/>
<path d="M1306 1251.4C1304.9 1249.2 1302.2 1241.3 1299.3 1238.2C1296.4 1235.1 1291.4 1231.8 1288.8 1232.9C1286.2 1234 1283.7 1238.4 1283.5 1244.8C1283.3 1251.2 1285.7 1263.5 1287.4 1271.2C1289.2 1278.9 1291.6 1284.6 1294 1291C1296.4 1297.4 1300 1305.1 1302 1309.5C1304 1313.9 1305.3 1316.1 1306 1317.4" fill="none" stroke="#0b0b0b" stroke-width="12.5" stroke-linecap="round" stroke-linejoin="round"/>
<path d="M1278.2 1287C1281.5 1286.3 1292.1 1284.1 1298 1283C1303.9 1281.9 1311.2 1280.8 1313.8 1280.4" fill="none" stroke="#0b0b0b" stroke-width="11" stroke-linecap="round" stroke-linejoin="round"/>
<path d="M1333.6 1262C1335.4 1260.9 1340.7 1255.6 1344.2 1255.4C1347.7 1255.2 1352.4 1257.5 1354.8 1260.6C1357.2 1263.7 1357.6 1269.6 1358.7 1273.8C1359.8 1278 1360.1 1282.6 1361.4 1285.7C1362.7 1288.8 1365.7 1291.2 1366.6 1292.3" fill="none" stroke="#0b0b0b" stroke-width="12.5" stroke-linecap="round" stroke-linejoin="round"/>
<path d="M1349.5 1269.9C1347.8 1270.6 1341.4 1271 1339 1273.8C1336.6 1276.6 1334.3 1283.2 1335 1287C1335.7 1290.8 1339.8 1295.8 1342.9 1296.3C1346 1296.8 1351 1292.3 1353.4 1289.7C1355.8 1287.1 1356.7 1282 1357.4 1280.4" fill="none" stroke="#0b0b0b" stroke-width="12.5" stroke-linecap="round" stroke-linejoin="round"/>
<path d="M1386.4 1259.3C1384.9 1259.8 1379.8 1260 1377.2 1262C1374.6 1264 1371.7 1267.7 1370.6 1271.2C1369.5 1274.7 1369.3 1279.4 1370.6 1283.1C1371.9 1286.8 1375.2 1292.1 1378.5 1293.6C1381.8 1295.1 1386.7 1293.8 1390.4 1292.3C1394.2 1290.8 1399.2 1285.7 1401 1284.4" fill="none" stroke="#0b0b0b" stroke-width="12.5" stroke-linecap="round" stroke-linejoin="round"/>
<path d="M1402.3 1239.5C1403.2 1242.6 1405.6 1251.6 1407.6 1258C1409.6 1264.4 1412 1272.3 1414.2 1277.8C1416.4 1283.3 1419 1288.4 1420.8 1291C1422.5 1293.6 1424 1293.2 1424.7 1293.6" fill="none" stroke="#0b0b0b" stroke-width="12.5" stroke-linecap="round" stroke-linejoin="round"/>
<path d="M1407.6 1263.3C1409.8 1262.8 1416.8 1260.8 1420.8 1260.6C1424.8 1260.4 1429.5 1261.8 1431.3 1262" fill="none" stroke="#0b0b0b" stroke-width="11" stroke-linecap="round" stroke-linejoin="round"/>
<ellipse cx="1453.8" cy="1277.8" rx="11.2" ry="13.8" fill="none" stroke="#0b0b0b" stroke-width="12.5"/>
<path d="M1478.8 1258C1479.7 1261.3 1482.3 1272.1 1484.1 1277.8C1485.9 1283.5 1488.5 1289.9 1489.4 1292.3" fill="none" stroke="#0b0b0b" stroke-width="12.5" stroke-linecap="round" stroke-linejoin="round"/>
<path d="M1482.8 1268.6C1484.3 1266.4 1488.7 1258.1 1492 1255.4C1495.3 1252.8 1499.5 1252.7 1502.6 1252.7C1505.7 1252.7 1509.2 1255 1510.5 1255.4" fill="none" stroke="#0b0b0b" stroke-width="12.5" stroke-linecap="round" stroke-linejoin="round"/>
<path d="M1525 1275.2C1527 1274.5 1534.5 1273.4 1536.9 1271.2C1539.3 1269 1540.2 1264.6 1539.5 1262C1538.8 1259.4 1535.4 1255.9 1533 1255.4C1530.6 1255 1527.2 1256.7 1525 1259.3C1522.8 1261.9 1520.5 1266.3 1519.8 1271.2C1519.1 1276.1 1519.5 1283.8 1521 1288.4C1522.5 1293 1525.5 1297.9 1529 1299C1532.5 1300.1 1537.8 1296.5 1542.2 1295C1546.6 1293.5 1553.2 1290.6 1555.4 1289.7" fill="none" stroke="#0b0b0b" stroke-width="12.5" stroke-linecap="round" stroke-linejoin="round"/>
<path d="M1560.7 1293.6C1560 1289.9 1557.6 1277.1 1556.7 1271.2C1555.8 1265.3 1555.6 1260.2 1555.4 1258" fill="none" stroke="#0b0b0b" stroke-width="12.5" stroke-linecap="round" stroke-linejoin="round"/>
<path d="M1559.4 1268.6C1560.7 1267 1564.5 1261.1 1567.3 1259.3C1570.1 1257.5 1573.7 1256 1576.5 1258C1579.3 1260 1582.4 1265.7 1584.4 1271.2C1586.4 1276.7 1587.7 1287.7 1588.4 1291" fill="none" stroke="#0b0b0b" stroke-width="12.5" stroke-linecap="round" stroke-linejoin="round"/>
<path d="M215 1277C213.7 1277.8 208.9 1279.8 207 1282C205.1 1284.2 203.8 1287.2 203.6 1290C203.4 1292.8 204.8 1297.1 206 1299C207.2 1300.9 209.2 1302 211 1301.5C212.8 1301 215.7 1298.2 217 1296C218.3 1293.8 218.9 1290.8 218.7 1288C218.5 1285.2 216.4 1280.5 216 1279" fill="none" stroke="#0b0b0b" stroke-width="6.5" stroke-linecap="round" stroke-linejoin="round"/>
<path d="M214 1300C215 1301.2 218.4 1304.8 220 1307C221.6 1309.2 222.7 1310 223.4 1313C224.2 1316 224.7 1321.1 224.5 1324.8C224.3 1328.5 222.4 1333.3 222 1335" fill="none" stroke="#0b0b0b" stroke-width="6.5" stroke-linecap="round" stroke-linejoin="round"/>
<path d="M213 1312C212 1313.8 207.7 1318.7 207 1322.5C206.3 1326.3 208.7 1332.9 209 1335" fill="none" stroke="#0b0b0b" stroke-width="6.5" stroke-linecap="round" stroke-linejoin="round"/>
<path d="M245 1284C243.9 1283.6 240.8 1280.4 238.5 1281.7C236.2 1283 232.8 1288.5 231.5 1292C230.2 1295.5 230.6 1300.2 231 1303C231.4 1305.8 232.4 1308.8 234 1308.5C235.6 1308.2 238.9 1305 240.8 1301.5C242.7 1298 244.7 1289.8 245.5 1287.5" fill="none" stroke="#0b0b0b" stroke-width="6.5" stroke-linecap="round" stroke-linejoin="round"/>
<path d="M246.7 1285C247.5 1289.3 250.5 1306.5 251.3 1310.8" fill="none" stroke="#0b0b0b" stroke-width="6.5" stroke-linecap="round" stroke-linejoin="round"/>
<path d="M259.5 1288.7L267.6 1310.8L273.4 1284" fill="none" stroke="#0b0b0b" stroke-width="6.5" stroke-linecap="round" stroke-linejoin="round"/>
<path d="M281.6 1294.5C284.3 1293.8 296.3 1291.9 297.9 1290C299.5 1288.1 293.5 1283.2 291 1283C288.5 1282.8 284.2 1285.6 282.8 1288.7C281.4 1291.8 280.7 1296.5 282.8 1301.5C284.9 1306.5 290.6 1316.1 295.6 1319C300.6 1321.9 310.1 1319 313 1319" fill="none" stroke="#0b0b0b" stroke-width="6.5" stroke-linecap="round" stroke-linejoin="round"/>
<path d="M349 1317.8C350.8 1317.8 355.9 1316.6 359.6 1317.8C363.3 1319 368.6 1322.1 371.3 1324.8C374 1327.5 375.2 1332.5 376 1334" fill="none" stroke="#0b0b0b" stroke-width="6.5" stroke-linecap="round" stroke-linejoin="round"/>
</g>
</svg>
</body></html>
